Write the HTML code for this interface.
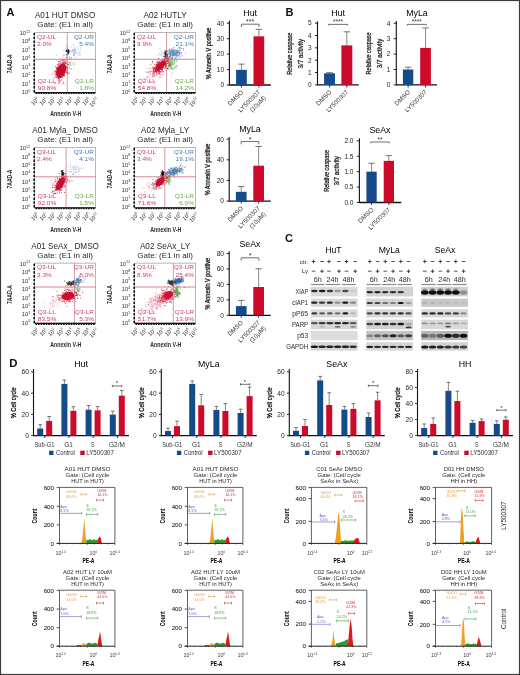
<!DOCTYPE html>
<html><head><meta charset="utf-8"><style>
html,body{margin:0;padding:0;background:#fff;}
svg{display:block;font-family:"Liberation Sans", sans-serif;filter:blur(0.35px);}
</style></head><body>
<svg width="520" height="675" viewBox="0 0 520 675">
<rect width="520" height="675" fill="#fff"/>
<rect x="0.5" y="0.5" width="519" height="674" fill="none" stroke="#3c3c3c" stroke-width="1.2"/>
<text x="6.40" y="16.30" font-size="11" fill="#111" font-weight="bold">A</text>
<text x="285.40" y="16.00" font-size="11" fill="#111" font-weight="bold">B</text>
<text x="285.00" y="241.50" font-size="11" fill="#111" font-weight="bold">C</text>
<text x="9.30" y="366.60" font-size="11.4" fill="#111" font-weight="bold">D</text>
<text x="65.10" y="18.00" font-size="8.2" text-anchor="middle" fill="#2a2a2a">A01 HUT DMSO</text>
<text x="65.10" y="26.90" font-size="8.0" text-anchor="middle" fill="#2a2a2a">Gate: (E1 in all)</text>
<rect x="34.60" y="32.30" width="61" height="60" fill="#fff" stroke="#888" stroke-width="0.6"/>
<path d="M74.0 52.7h0.9M72.8 49.8h0.9M72.0 49.5h0.9M74.3 55.4h0.9M71.8 50.4h0.9M76.2 52.9h0.9M74.5 49.7h0.9M73.9 53.7h0.9M68.0 50.9h0.9M65.4 48.8h0.9M65.7 51.4h0.9M68.3 52.7h0.9M74.7 51.5h0.9M62.7 50.7h0.9M73.8 52.3h0.9M67.1 50.8h0.9M69.6 50.0h0.9M78.8 50.0h0.9M73.9 54.2h0.9M71.4 51.7h0.9M74.5 52.2h0.9M68.5 52.2h0.9M80.1 48.1h0.9M77.9 52.3h0.9M71.1 57.0h0.9M77.4 49.0h0.9M74.3 53.4h0.9M73.2 53.7h0.9M73.7 53.7h0.9M80.5 50.3h0.9M74.9 50.8h0.9M74.6 49.0h0.9M71.4 51.5h0.9M78.0 54.9h0.9M68.0 50.0h0.9M76.9 47.0h0.9M71.9 51.8h0.9M79.7 53.7h0.9M72.5 51.1h0.9M72.9 55.8h0.9M72.1 51.2h0.9M75.6 51.7h0.9M73.1 49.2h0.9M73.9 50.9h0.9M79.2 53.6h0.9M73.9 53.7h0.9M72.5 54.6h0.9M74.0 53.5h0.9M68.2 52.9h0.9M66.4 46.9h0.9M72.6 49.8h0.9M74.7 57.6h0.9M70.3 50.4h0.9M74.9 53.2h0.9M73.2 51.5h0.9M77.2 53.3h0.9M69.3 51.8h0.9M74.2 49.4h0.9M75.2 49.9h0.9M78.4 52.5h0.9M74.4 50.5h0.9M73.5 47.0h0.9M68.9 52.9h0.9M64.4 54.1h0.9M66.1 53.9h0.9M70.2 53.9h0.9M74.6 48.2h0.9M79.6 55.6h0.9M73.7 51.3h0.9M73.3 49.6h0.9" stroke="#7aa0d0" stroke-width="0.9" opacity="0.7"/>
<path d="M73.7 62.8h0.9M70.9 61.8h0.9M69.4 59.9h0.9M74.1 64.4h0.9M73.4 65.1h0.9M69.3 63.7h0.9M69.6 65.0h0.9M70.1 63.8h0.9M67.6 61.8h0.9M75.1 62.3h0.9M68.4 66.3h0.9M74.5 59.2h0.9M70.5 62.5h0.9M66.6 67.9h0.9M70.9 65.3h0.9M69.1 66.8h0.9M69.7 64.4h0.9M68.2 60.1h0.9M74.3 63.0h0.9M71.7 64.9h0.9M69.9 63.0h0.9M72.6 63.8h0.9M70.6 65.1h0.9M73.9 67.7h0.9M72.0 62.7h0.9" stroke="#8ac880" stroke-width="0.9" opacity="0.7"/>
<path d="M56.0 68.1h0.9M66.1 63.2h0.9M61.8 69.4h0.9M62.1 70.7h0.9M56.6 73.4h0.9M56.7 67.7h0.9M61.4 70.0h0.9M63.1 76.1h0.9M65.6 49.3h0.9M68.7 56.7h0.9M60.1 69.1h0.9M65.7 45.6h0.9M63.6 63.7h0.9M62.2 63.0h0.9M65.8 50.9h0.9M65.8 55.7h0.9M56.8 64.6h0.9M61.5 65.9h0.9M62.5 57.0h0.9M63.3 55.3h0.9M66.2 57.6h0.9M62.8 65.9h0.9M73.2 55.5h0.9M65.7 63.5h0.9M67.9 52.5h0.9M59.2 67.8h0.9M62.5 63.5h0.9M58.3 71.0h0.9M70.4 47.0h0.9M67.8 47.8h0.9M56.0 55.0h0.9M66.5 65.0h0.9M63.0 54.7h0.9M65.5 65.6h0.9M63.3 62.7h0.9M60.4 68.9h0.9M63.8 65.3h0.9M58.4 65.4h0.9M57.4 70.1h0.9M60.0 60.4h0.9M67.5 53.4h0.9M62.7 75.8h0.9M59.1 68.0h0.9M72.9 44.5h0.9M63.9 62.9h0.9M66.9 55.3h0.9M62.9 61.4h0.9M65.1 66.9h0.9M57.8 74.1h0.9M62.8 59.5h0.9M52.8 72.1h0.9M62.5 70.9h0.9M64.4 64.6h0.9M64.4 61.4h0.9M62.3 63.1h0.9M65.2 68.9h0.9M64.8 58.7h0.9M55.9 73.8h0.9M64.1 64.1h0.9M65.8 54.5h0.9M59.9 69.2h0.9M62.7 60.9h0.9M62.0 63.5h0.9M59.5 59.3h0.9M57.7 68.3h0.9M59.0 66.2h0.9M68.2 62.7h0.9M60.7 63.6h0.9M66.4 55.8h0.9M57.4 78.2h0.9" stroke="#d85070" stroke-width="0.9" opacity="0.6"/>
<ellipse cx="61" cy="71" rx="4.6" ry="7.6" transform="rotate(22 61 71)" fill="#cc0a2a" opacity="0.95"/>
<path d="M60.7 69.7h0.9M57.2 71.4h0.9M59.6 63.9h0.9M66.7 67.9h0.9M61.1 80.1h0.9M60.6 74.1h0.9M67.2 72.3h0.9M62.0 63.4h0.9M58.1 78.6h0.9M65.8 67.3h0.9M59.5 67.4h0.9M62.3 70.3h0.9M61.0 72.8h0.9M60.2 70.4h0.9M61.8 70.8h0.9M58.6 81.1h0.9M62.6 72.0h0.9M55.2 71.0h0.9M58.1 61.5h0.9M62.1 75.6h0.9M64.1 62.1h0.9M61.3 67.1h0.9M58.2 83.3h0.9M63.2 67.3h0.9M57.6 69.3h0.9M62.8 64.9h0.9M63.7 65.3h0.9M62.1 77.8h0.9M65.2 69.9h0.9M62.8 70.9h0.9M60.5 68.8h0.9M60.1 62.1h0.9M63.8 71.0h0.9M59.6 76.4h0.9M57.5 64.9h0.9M60.7 73.2h0.9M57.8 75.8h0.9M64.1 65.1h0.9M56.6 74.0h0.9M66.3 61.9h0.9M63.8 75.7h0.9M65.8 70.7h0.9M62.4 64.9h0.9M68.9 73.1h0.9M67.0 69.6h0.9M64.9 62.7h0.9M57.8 75.6h0.9M55.1 75.0h0.9M64.2 66.1h0.9M60.5 68.1h0.9M62.0 68.2h0.9M59.2 68.5h0.9M60.6 63.2h0.9M59.0 75.4h0.9M56.5 69.2h0.9M61.1 65.2h0.9M64.6 69.4h0.9M67.1 68.8h0.9M62.6 70.3h0.9M57.6 73.1h0.9M59.3 73.9h0.9M63.1 65.4h0.9M60.6 71.1h0.9M65.7 67.5h0.9M64.4 62.2h0.9M65.2 66.3h0.9M55.8 68.5h0.9M67.4 64.6h0.9M59.3 65.9h0.9M56.9 71.6h0.9M60.1 66.4h0.9M64.3 67.8h0.9M64.3 66.6h0.9M61.2 60.2h0.9M67.2 71.6h0.9M61.8 71.1h0.9M61.4 71.4h0.9M68.8 68.0h0.9M58.5 64.0h0.9M55.5 73.2h0.9M65.4 67.1h0.9M57.6 67.5h0.9M70.9 58.3h0.9M64.8 66.1h0.9M66.3 66.8h0.9M63.3 63.0h0.9M55.2 76.9h0.9M64.3 69.9h0.9M62.3 60.3h0.9M59.9 70.4h0.9M60.9 70.4h0.9M57.8 69.3h0.9M58.2 77.5h0.9M66.8 72.5h0.9M58.9 69.8h0.9M60.7 66.5h0.9M63.0 65.6h0.9M63.0 71.2h0.9M62.1 70.4h0.9M60.8 65.3h0.9M61.4 67.9h0.9M61.7 71.3h0.9M56.8 69.7h0.9M58.3 66.2h0.9M64.4 60.1h0.9M61.0 71.9h0.9M61.4 68.6h0.9M61.9 65.6h0.9M61.3 67.9h0.9M63.8 65.0h0.9M61.4 72.0h0.9M61.5 68.6h0.9M66.1 63.2h0.9M61.9 72.8h0.9M61.1 73.3h0.9M59.6 68.9h0.9M62.0 74.0h0.9M64.7 63.5h0.9M60.2 77.6h0.9M63.5 73.4h0.9M54.4 73.9h0.9M65.8 57.9h0.9M65.2 63.8h0.9M58.5 66.2h0.9M65.5 70.6h0.9M58.2 80.2h0.9M65.9 72.4h0.9M62.9 64.3h0.9M58.1 72.3h0.9M61.9 72.0h0.9M65.5 68.3h0.9M59.3 74.7h0.9M60.5 77.2h0.9M62.8 69.9h0.9M64.1 66.3h0.9M54.9 72.0h0.9M60.2 72.5h0.9M56.7 67.1h0.9M61.0 65.9h0.9M55.0 66.6h0.9M62.9 74.0h0.9M59.2 70.2h0.9M68.9 57.8h0.9M59.5 73.6h0.9M59.5 80.5h0.9M63.7 74.0h0.9M60.3 75.4h0.9M59.5 70.1h0.9M59.7 82.1h0.9M60.6 70.6h0.9M58.8 78.1h0.9M57.9 78.5h0.9M58.5 68.9h0.9M58.8 74.8h0.9M67.2 64.6h0.9M57.6 71.6h0.9M62.2 62.4h0.9M63.1 74.8h0.9M63.4 69.2h0.9M64.5 71.0h0.9M66.1 67.7h0.9M58.0 71.0h0.9M57.5 73.6h0.9M63.7 66.6h0.9M61.9 69.3h0.9M65.0 68.9h0.9M57.2 76.7h0.9M63.5 83.9h0.9M60.7 72.2h0.9M65.8 72.2h0.9M57.9 70.4h0.9M64.0 67.3h0.9M59.1 61.7h0.9M64.5 67.9h0.9M60.1 71.9h0.9M63.5 70.0h0.9M64.3 67.1h0.9M62.0 65.3h0.9M64.4 72.2h0.9M59.5 68.3h0.9M58.9 74.3h0.9M58.4 63.8h0.9M54.7 83.5h0.9M64.1 71.6h0.9M58.9 82.3h0.9M61.1 68.9h0.9M63.6 75.0h0.9M64.0 69.2h0.9M63.2 82.0h0.9M61.3 75.2h0.9M53.7 71.8h0.9M59.5 73.0h0.9M63.7 70.1h0.9M55.2 70.8h0.9M59.5 68.4h0.9M59.9 68.5h0.9M51.6 74.4h0.9M59.5 77.0h0.9M66.8 73.5h0.9M57.5 64.3h0.9M58.5 67.0h0.9M65.4 60.9h0.9M65.1 63.7h0.9M62.1 70.8h0.9M60.2 70.3h0.9M60.7 67.2h0.9M56.1 68.8h0.9M62.4 83.3h0.9M63.5 76.2h0.9M56.0 77.5h0.9M61.0 70.6h0.9M59.9 71.1h0.9M59.9 70.1h0.9M58.6 67.8h0.9M67.9 73.4h0.9M59.2 73.4h0.9M65.4 66.2h0.9M58.5 75.4h0.9M61.5 71.9h0.9M67.0 69.4h0.9M62.3 68.4h0.9M69.4 62.8h0.9M60.1 67.5h0.9M61.7 74.9h0.9M68.4 64.6h0.9M63.8 70.4h0.9M57.9 73.0h0.9M62.5 59.3h0.9M63.0 62.9h0.9M58.3 72.1h0.9M58.7 79.5h0.9M63.6 62.9h0.9M60.7 65.4h0.9M56.5 71.8h0.9M63.2 60.1h0.9M63.3 71.3h0.9M61.8 72.0h0.9M62.8 72.0h0.9M63.8 74.6h0.9M61.3 73.6h0.9M57.0 68.4h0.9M59.8 71.7h0.9M53.6 77.7h0.9M63.8 64.9h0.9M56.5 67.5h0.9M62.2 67.2h0.9M62.6 67.8h0.9M64.1 68.0h0.9M58.9 75.9h0.9M70.7 68.9h0.9" stroke="#cc0a2a" stroke-width="0.9" opacity="0.9"/>
<path d="M66.9 50.6h0.9M68.0 50.2h0.9M66.9 51.5h0.9M66.4 50.4h0.9M66.9 49.2h0.9M66.0 51.0h0.9M67.4 51.3h0.9M65.7 51.0h0.9M68.0 52.1h0.9M67.2 50.5h0.9M67.9 50.9h0.9M66.2 50.6h0.9M68.6 51.7h0.9M68.3 51.0h0.9M68.1 50.8h0.9M67.2 54.2h0.9M68.0 50.9h0.9M67.2 51.9h0.9M68.4 51.0h0.9M65.7 51.2h0.9M67.3 51.6h0.9M68.5 51.8h0.9M68.0 50.3h0.9M68.1 53.8h0.9M68.0 51.8h0.9M67.4 53.5h0.9M66.5 51.4h0.9M67.7 52.3h0.9M66.9 51.8h0.9M67.0 51.6h0.9M67.2 50.2h0.9M67.3 52.5h0.9M66.4 51.2h0.9M67.9 50.3h0.9M67.5 50.3h0.9" stroke="#111" stroke-width="0.9" opacity="1"/>
<line x1="67.30" y1="32.30" x2="67.30" y2="92.30" stroke="#c8707e" stroke-width="0.7"/>
<line x1="34.60" y1="59.30" x2="95.60" y2="59.30" stroke="#d06878" stroke-width="0.8"/>
<text x="37.00" y="38.60" font-size="5.9" fill="#d23c64" textLength="19.12" lengthAdjust="spacingAndGlyphs">Q2-UL</text>
<text x="37.00" y="45.90" font-size="5.9" fill="#d23c64" textLength="14.79" lengthAdjust="spacingAndGlyphs">2.0%</text>
<text x="94.00" y="38.60" font-size="5.9" text-anchor="end" fill="#4a78b4" textLength="20.19" lengthAdjust="spacingAndGlyphs">Q2-UR</text>
<text x="94.00" y="45.90" font-size="5.9" text-anchor="end" fill="#4a78b4" textLength="14.79" lengthAdjust="spacingAndGlyphs">5.4%</text>
<text x="37.80" y="82.80" font-size="5.9" fill="#d23c64" textLength="18.04" lengthAdjust="spacingAndGlyphs">Q2-LL</text>
<text x="37.80" y="89.70" font-size="5.9" fill="#d23c64" textLength="18.4" lengthAdjust="spacingAndGlyphs">90.8%</text>
<text x="94.00" y="82.80" font-size="5.9" text-anchor="end" fill="#6aaa4a" textLength="19.12" lengthAdjust="spacingAndGlyphs">Q2-LR</text>
<text x="94.00" y="89.70" font-size="5.9" text-anchor="end" fill="#6aaa4a" textLength="14.79" lengthAdjust="spacingAndGlyphs">1.8%</text>
<line x1="34.20" y1="32.90" x2="34.20" y2="92.30" stroke="#111" stroke-width="1.6" stroke-dasharray="2.4,1.4"/>
<line x1="34.60" y1="92.60" x2="95.60" y2="92.60" stroke="#111" stroke-width="1.2"/>
<line x1="35.60" y1="93.50" x2="95.60" y2="93.50" stroke="#111" stroke-width="1.2" stroke-dasharray="1.6,0.9"/>
<text x="30.20" y="34.90" font-size="5.8" text-anchor="end" fill="#333">10<tspan font-size="3.7" dy="-2.4">12</tspan></text>
<text x="30.20" y="43.35" font-size="5.8" text-anchor="end" fill="#333">10<tspan font-size="3.7" dy="-2.4">8</tspan></text>
<text x="30.20" y="51.80" font-size="5.8" text-anchor="end" fill="#333">10<tspan font-size="3.7" dy="-2.4">5</tspan></text>
<text x="30.20" y="60.25" font-size="5.8" text-anchor="end" fill="#333">10<tspan font-size="3.7" dy="-2.4">4</tspan></text>
<text x="30.20" y="68.70" font-size="5.8" text-anchor="end" fill="#333">10<tspan font-size="3.7" dy="-2.4">3</tspan></text>
<text x="30.20" y="77.15" font-size="5.8" text-anchor="end" fill="#333">10<tspan font-size="3.7" dy="-2.4">2</tspan></text>
<text x="30.20" y="85.60" font-size="5.8" text-anchor="end" fill="#333">10<tspan font-size="3.7" dy="-2.4">1</tspan></text>
<text x="30.20" y="94.05" font-size="5.8" text-anchor="end" fill="#333">10<tspan font-size="3.7" dy="-2.4">0</tspan></text>
<text x="39.10" y="99.80" font-size="5.7" text-anchor="end" fill="#333" transform="rotate(-45 39.10 99.80)">10<tspan font-size="3.7" dy="-2.4">0</tspan></text>
<text x="47.65" y="99.80" font-size="5.7" text-anchor="end" fill="#333" transform="rotate(-45 47.65 99.80)">10<tspan font-size="3.7" dy="-2.4">1</tspan></text>
<text x="56.20" y="99.80" font-size="5.7" text-anchor="end" fill="#333" transform="rotate(-45 56.20 99.80)">10<tspan font-size="3.7" dy="-2.4">2</tspan></text>
<text x="64.75" y="99.80" font-size="5.7" text-anchor="end" fill="#333" transform="rotate(-45 64.75 99.80)">10<tspan font-size="3.7" dy="-2.4">3</tspan></text>
<text x="73.30" y="99.80" font-size="5.7" text-anchor="end" fill="#333" transform="rotate(-45 73.30 99.80)">10<tspan font-size="3.7" dy="-2.4">4</tspan></text>
<text x="81.85" y="99.80" font-size="5.7" text-anchor="end" fill="#333" transform="rotate(-45 81.85 99.80)">10<tspan font-size="3.7" dy="-2.4">5</tspan></text>
<text x="90.40" y="99.80" font-size="5.7" text-anchor="end" fill="#333" transform="rotate(-45 90.40 99.80)">10<tspan font-size="3.7" dy="-2.4">6</tspan></text>
<text x="98.95" y="99.80" font-size="5.7" text-anchor="end" fill="#333" transform="rotate(-45 98.95 99.80)">10<tspan font-size="3.7" dy="-2.4">12</tspan></text>
<text x="12.00" y="63.80" font-size="7.2" text-anchor="middle" fill="#2a2a2a" font-weight="bold" textLength="19" lengthAdjust="spacingAndGlyphs" transform="rotate(-90 12.00 63.80)">7AAD-A</text>
<text x="65.70" y="116.30" font-size="7.4" text-anchor="middle" fill="#2a2a2a" font-weight="bold" textLength="31" lengthAdjust="spacingAndGlyphs">Annexin V-H</text>
<text x="165.10" y="18.00" font-size="8.2" text-anchor="middle" fill="#2a2a2a">A02 HUTLY</text>
<text x="165.10" y="26.90" font-size="8.0" text-anchor="middle" fill="#2a2a2a">Gate: (E1 in all)</text>
<rect x="134.60" y="32.30" width="61" height="60" fill="#fff" stroke="#888" stroke-width="0.6"/>
<path d="M164.4 57.6h0.9M167.1 52.6h0.9M163.2 53.2h0.9M161.3 56.1h0.9M157.0 55.1h0.9M160.9 55.8h0.9M161.6 51.7h0.9M161.8 54.5h0.9M161.1 54.0h0.9M159.4 48.7h0.9M163.7 54.4h0.9M161.4 53.1h0.9M164.1 52.1h0.9M158.9 52.6h0.9M164.6 50.2h0.9M164.6 51.7h0.9M157.7 55.5h0.9M160.7 50.4h0.9M159.9 54.9h0.9M164.6 52.1h0.9M162.2 54.4h0.9M159.1 53.7h0.9M160.9 51.9h0.9M159.5 53.1h0.9M161.1 51.9h0.9M159.7 55.2h0.9M161.6 54.8h0.9M164.6 54.2h0.9M167.8 51.3h0.9M163.4 52.4h0.9" stroke="#8ac8b8" stroke-width="0.9" opacity="0.6"/>
<path d="M181.9 55.7h0.9M164.0 52.9h0.9M176.2 54.7h0.9M176.2 52.8h0.9M175.3 54.6h0.9M173.0 55.8h0.9M163.2 56.6h0.9M168.8 56.4h0.9M171.6 51.8h0.9M174.3 51.2h0.9M168.4 50.8h0.9M173.1 54.6h0.9M177.5 52.4h0.9M177.7 52.7h0.9M172.8 54.8h0.9M177.6 51.9h0.9M171.9 53.3h0.9M173.0 51.5h0.9M177.4 51.8h0.9M174.7 51.4h0.9M174.7 54.1h0.9M171.9 58.2h0.9M175.3 57.1h0.9M177.0 51.3h0.9M171.5 54.7h0.9M173.3 53.6h0.9M171.0 49.8h0.9M171.2 48.9h0.9M174.4 51.6h0.9M169.7 53.6h0.9M173.7 50.2h0.9M164.8 52.6h0.9M163.6 53.0h0.9M179.6 50.0h0.9M175.4 50.0h0.9M174.2 52.6h0.9M173.0 54.8h0.9M180.9 52.5h0.9M173.2 51.3h0.9M175.5 52.5h0.9M176.7 52.8h0.9M180.0 47.8h0.9M172.0 55.6h0.9M171.1 52.1h0.9M171.3 50.7h0.9M174.5 58.7h0.9M177.7 50.2h0.9M169.0 53.3h0.9M177.1 50.9h0.9M170.3 56.0h0.9M176.7 52.0h0.9M167.5 51.0h0.9M169.1 49.2h0.9M176.1 51.5h0.9M175.8 57.2h0.9M177.8 50.1h0.9M177.3 55.3h0.9M169.3 52.0h0.9M171.9 50.1h0.9M178.6 47.1h0.9M168.0 53.8h0.9M172.1 54.0h0.9M174.1 52.8h0.9M177.2 48.0h0.9M172.7 52.0h0.9M173.7 53.9h0.9M168.7 52.8h0.9M176.6 53.6h0.9M170.8 58.5h0.9M182.7 48.5h0.9M175.3 58.7h0.9M176.6 53.4h0.9M171.9 52.5h0.9M171.8 52.5h0.9M176.1 52.1h0.9M170.6 51.2h0.9M172.4 51.6h0.9M172.6 55.9h0.9M174.8 54.3h0.9M174.6 53.3h0.9M172.3 52.9h0.9M175.9 50.6h0.9M179.0 52.5h0.9M169.5 53.0h0.9M170.1 54.4h0.9M170.3 56.5h0.9M168.7 49.2h0.9M169.0 49.7h0.9M173.2 55.8h0.9M175.4 50.1h0.9M170.3 57.9h0.9M174.4 53.3h0.9M178.6 58.0h0.9M178.8 52.8h0.9M174.8 54.6h0.9M169.9 51.7h0.9M172.9 51.4h0.9M172.8 53.8h0.9M183.0 49.8h0.9M172.4 53.2h0.9M175.3 55.4h0.9M170.5 52.1h0.9M165.4 52.8h0.9M175.4 53.2h0.9M168.4 53.5h0.9M173.3 54.6h0.9M170.3 53.4h0.9M164.5 52.4h0.9M179.3 47.5h0.9M171.6 54.2h0.9M171.0 52.0h0.9M172.7 53.5h0.9M171.9 49.5h0.9M172.0 51.8h0.9M170.7 54.4h0.9M176.2 54.9h0.9M171.2 55.9h0.9M178.6 55.0h0.9M179.1 52.1h0.9M172.5 55.4h0.9M167.0 55.0h0.9M170.5 53.1h0.9M164.9 52.9h0.9M173.2 55.4h0.9M177.4 52.6h0.9M171.8 51.8h0.9M174.7 52.6h0.9M176.4 56.8h0.9M172.3 50.3h0.9M168.6 51.0h0.9M168.2 57.3h0.9M173.4 50.0h0.9M176.4 55.7h0.9M171.1 52.3h0.9M171.6 54.4h0.9M176.3 55.6h0.9M178.8 55.1h0.9M179.3 53.9h0.9M166.2 54.4h0.9M174.2 52.4h0.9M176.9 52.0h0.9M169.4 57.4h0.9M176.0 53.5h0.9M177.5 55.1h0.9M173.6 47.9h0.9M169.8 53.0h0.9M168.7 54.7h0.9M178.1 51.5h0.9M168.7 58.8h0.9M170.5 51.2h0.9M174.2 54.2h0.9M170.2 55.8h0.9M170.5 51.9h0.9M174.1 55.0h0.9M170.3 54.7h0.9M173.7 59.7h0.9M170.4 57.1h0.9M172.7 53.3h0.9M176.5 54.9h0.9M178.7 53.2h0.9M170.1 52.8h0.9M175.5 54.4h0.9M179.4 53.3h0.9M178.3 56.0h0.9M173.2 50.2h0.9M167.2 51.3h0.9M179.7 50.4h0.9M178.7 53.8h0.9M181.0 54.3h0.9M172.5 53.1h0.9M173.4 53.8h0.9M170.6 53.8h0.9M179.5 48.6h0.9M173.8 51.3h0.9M174.1 55.2h0.9M173.0 55.2h0.9M166.4 57.1h0.9M170.6 55.3h0.9M172.8 47.8h0.9M169.7 54.6h0.9M180.0 52.9h0.9M173.6 50.2h0.9M180.0 56.3h0.9M173.0 53.0h0.9M166.2 56.7h0.9M185.2 52.9h0.9M178.8 53.7h0.9M169.1 57.2h0.9M167.4 54.0h0.9M174.6 55.2h0.9M175.0 54.0h0.9M169.1 51.3h0.9M173.0 51.9h0.9M166.7 51.8h0.9M170.1 49.9h0.9M166.4 51.0h0.9M174.0 54.2h0.9M181.3 48.7h0.9M170.3 56.0h0.9M171.9 53.0h0.9" stroke="#4a7ab8" stroke-width="0.9" opacity="0.85"/>
<path d="M174.3 63.0h0.9M168.0 60.0h0.9M171.2 64.9h0.9M167.5 61.0h0.9M171.7 65.7h0.9M169.1 65.9h0.9M171.8 58.7h0.9M169.8 65.2h0.9M169.2 57.6h0.9M169.9 66.3h0.9M174.0 57.4h0.9M176.2 60.6h0.9M172.6 67.7h0.9M172.7 64.4h0.9M167.9 65.9h0.9M168.9 56.4h0.9M176.7 66.1h0.9M174.5 61.3h0.9M173.7 68.8h0.9M173.9 63.9h0.9M167.9 63.5h0.9M165.7 58.9h0.9M170.7 61.0h0.9M170.1 63.7h0.9M174.7 67.9h0.9M170.4 67.6h0.9M168.8 63.0h0.9M172.5 60.3h0.9M169.9 60.0h0.9M170.8 68.9h0.9M168.8 64.7h0.9M168.5 60.6h0.9M167.8 68.4h0.9M175.7 65.4h0.9M168.9 66.1h0.9M169.8 66.4h0.9M171.1 64.8h0.9M171.8 62.3h0.9M169.6 58.8h0.9M169.5 59.7h0.9M170.2 61.1h0.9M170.7 65.4h0.9M167.4 61.6h0.9M168.4 66.2h0.9M174.3 66.6h0.9M169.7 68.4h0.9M167.2 68.5h0.9M169.1 55.7h0.9M176.3 68.7h0.9M168.2 64.5h0.9M170.0 64.3h0.9M167.2 62.0h0.9M171.5 64.7h0.9M173.1 64.2h0.9M175.7 61.9h0.9M171.1 58.3h0.9M167.7 68.0h0.9M168.4 65.6h0.9M170.4 60.9h0.9M169.7 62.5h0.9M169.4 66.3h0.9M171.9 62.3h0.9M168.5 64.8h0.9M170.3 67.1h0.9M176.3 66.5h0.9M170.4 63.5h0.9M168.6 61.3h0.9M168.3 62.8h0.9M169.6 66.2h0.9M169.6 63.4h0.9M167.8 68.9h0.9M171.6 69.4h0.9M172.3 68.5h0.9M170.0 66.2h0.9M176.5 60.3h0.9M173.1 69.1h0.9M171.4 66.3h0.9M173.3 62.0h0.9M171.4 61.3h0.9M169.0 62.1h0.9M170.2 64.4h0.9M171.5 59.6h0.9M175.0 67.6h0.9M172.1 62.9h0.9M170.3 65.7h0.9M171.4 58.8h0.9M172.2 73.0h0.9M166.3 67.1h0.9M171.3 63.7h0.9M173.6 60.4h0.9M170.9 68.5h0.9M170.1 62.7h0.9M170.8 62.6h0.9M174.0 61.2h0.9M172.5 60.1h0.9M172.0 63.7h0.9M164.7 64.0h0.9M168.1 62.6h0.9M174.0 60.6h0.9M168.1 68.4h0.9M170.8 68.8h0.9M171.2 61.3h0.9M170.4 67.8h0.9M172.6 64.0h0.9M170.6 63.7h0.9M169.2 70.0h0.9M170.5 60.5h0.9M169.4 66.2h0.9M172.0 63.6h0.9M169.0 64.1h0.9M166.7 60.0h0.9M172.3 62.5h0.9M171.3 67.8h0.9M172.0 64.1h0.9M175.3 66.1h0.9M169.7 66.3h0.9M171.4 61.4h0.9M170.7 63.5h0.9M166.1 63.5h0.9M169.9 62.6h0.9" stroke="#6ab05a" stroke-width="0.9" opacity="0.85"/>
<path d="M147.7 76.5h0.9M157.1 69.5h0.9M152.8 76.4h0.9M150.2 74.6h0.9M161.9 60.6h0.9M157.1 74.3h0.9M154.3 70.2h0.9M160.8 70.5h0.9M143.7 78.1h0.9M149.1 71.4h0.9M150.5 71.2h0.9M156.3 65.2h0.9M158.6 69.4h0.9M153.6 73.0h0.9M166.1 61.5h0.9M153.6 72.1h0.9M153.0 74.3h0.9M159.3 62.6h0.9M158.8 72.9h0.9M155.0 72.0h0.9M149.8 72.1h0.9M159.8 77.0h0.9M153.7 69.7h0.9M153.8 71.4h0.9M160.7 66.2h0.9M167.7 59.3h0.9M164.8 62.5h0.9M156.4 62.4h0.9M156.2 69.5h0.9M150.5 64.9h0.9M160.4 63.7h0.9M154.2 70.5h0.9M156.9 71.1h0.9M148.4 73.0h0.9M158.8 67.9h0.9M153.7 69.4h0.9M152.7 73.0h0.9M160.2 60.5h0.9M166.6 63.5h0.9M156.7 73.2h0.9M145.5 72.0h0.9M149.6 74.4h0.9M154.1 69.3h0.9M152.2 63.2h0.9M155.9 63.0h0.9M152.7 71.2h0.9M147.9 71.3h0.9M152.0 74.0h0.9M161.3 67.5h0.9M150.1 72.0h0.9M153.6 74.7h0.9M150.0 82.1h0.9M152.7 69.5h0.9M161.2 69.9h0.9M161.3 69.9h0.9M160.7 71.4h0.9M162.9 62.6h0.9M164.5 62.3h0.9M155.1 66.3h0.9M157.5 72.4h0.9M152.1 77.1h0.9M159.4 68.0h0.9M145.8 79.7h0.9M158.3 63.9h0.9M151.6 62.7h0.9M158.7 64.0h0.9M156.8 60.1h0.9M159.8 65.0h0.9M158.7 62.7h0.9M159.5 77.6h0.9M151.1 71.4h0.9M153.1 67.8h0.9M167.2 67.4h0.9M149.2 68.2h0.9M165.5 65.9h0.9M163.9 67.8h0.9M152.3 72.9h0.9M146.6 72.3h0.9M160.2 62.5h0.9M168.5 57.9h0.9M155.8 74.1h0.9M167.1 61.3h0.9M151.9 75.9h0.9M162.6 61.0h0.9M155.7 75.3h0.9M155.0 65.6h0.9M153.3 69.0h0.9M158.7 67.8h0.9M164.5 65.1h0.9M150.3 77.7h0.9M162.6 65.7h0.9M160.7 62.5h0.9M154.6 76.0h0.9M146.4 68.9h0.9M160.3 62.1h0.9M152.0 67.1h0.9M147.6 72.7h0.9M156.1 71.7h0.9M147.5 82.2h0.9M148.5 72.2h0.9M160.2 65.5h0.9M154.0 81.2h0.9M153.4 73.9h0.9M161.5 71.5h0.9M157.2 73.8h0.9M156.1 75.4h0.9M152.3 71.9h0.9M167.2 60.4h0.9M163.1 74.0h0.9M156.8 65.2h0.9M157.7 62.4h0.9M165.6 66.4h0.9M152.6 70.3h0.9M157.9 68.2h0.9M153.6 75.2h0.9M145.8 78.0h0.9M154.3 70.3h0.9M155.5 64.4h0.9M159.5 65.6h0.9M150.4 68.8h0.9M152.0 75.7h0.9M152.4 73.9h0.9M164.8 66.3h0.9M164.0 60.5h0.9M154.2 76.9h0.9M161.3 70.2h0.9M160.0 71.9h0.9M163.0 66.6h0.9M160.5 67.5h0.9M158.7 68.4h0.9M160.6 62.8h0.9M165.3 60.1h0.9M161.7 63.9h0.9M160.8 75.3h0.9M152.3 67.4h0.9M152.7 71.7h0.9M168.2 58.8h0.9M159.1 61.9h0.9M160.4 68.9h0.9M164.2 58.4h0.9M160.7 66.8h0.9M151.9 74.0h0.9M149.9 64.5h0.9M161.3 67.4h0.9M151.5 67.9h0.9M165.0 62.3h0.9M165.5 67.5h0.9M156.4 73.6h0.9M155.7 70.0h0.9M156.6 69.4h0.9M162.8 63.8h0.9M155.6 69.1h0.9M156.5 65.1h0.9M154.4 71.4h0.9M153.9 71.5h0.9M158.9 77.0h0.9M164.7 63.5h0.9M162.2 74.7h0.9M158.4 67.2h0.9M159.3 68.3h0.9" stroke="#d83050" stroke-width="0.9" opacity="0.6"/>
<ellipse cx="160.5" cy="66" rx="7" ry="3" transform="rotate(-45 160.5 66)" fill="#cc0a2a" opacity="0.85"/>
<path d="M165.5 61.0h0.9M166.4 57.0h0.9M161.2 61.8h0.9M166.3 59.0h0.9M161.9 67.8h0.9M163.0 59.6h0.9M156.8 64.8h0.9M160.8 65.3h0.9M158.1 66.0h0.9M157.8 66.0h0.9M165.1 66.8h0.9M153.5 72.6h0.9M159.9 68.3h0.9M156.9 69.1h0.9M158.1 70.9h0.9M160.6 65.4h0.9M161.4 64.3h0.9M156.1 72.5h0.9M161.2 64.7h0.9M166.1 64.7h0.9M155.3 68.5h0.9M168.5 63.0h0.9M155.8 66.5h0.9M157.4 67.4h0.9M155.0 71.7h0.9M153.8 68.4h0.9M162.5 61.6h0.9M161.4 67.4h0.9M162.8 62.5h0.9M159.2 64.4h0.9M167.8 61.0h0.9M156.6 69.9h0.9M163.9 64.3h0.9M169.4 62.0h0.9M158.4 67.7h0.9M156.4 71.0h0.9M165.8 70.2h0.9M157.1 62.0h0.9M158.3 68.6h0.9M154.5 68.9h0.9M159.8 67.9h0.9M158.3 65.0h0.9M162.3 62.3h0.9M156.3 65.3h0.9M158.9 69.9h0.9M154.7 71.6h0.9M162.4 62.8h0.9M159.4 63.2h0.9M167.1 63.3h0.9M158.2 62.1h0.9M158.5 71.4h0.9M167.1 60.5h0.9M163.8 60.5h0.9M159.8 66.7h0.9M159.3 61.8h0.9M166.2 65.0h0.9M154.0 67.7h0.9M160.6 63.6h0.9M153.5 75.8h0.9M160.2 64.6h0.9M168.2 58.8h0.9M158.0 68.8h0.9M155.5 68.3h0.9M160.9 63.7h0.9M161.9 70.5h0.9M165.0 64.4h0.9M163.2 65.0h0.9M165.6 60.8h0.9M165.4 57.8h0.9M157.2 64.5h0.9M160.2 68.1h0.9M164.5 59.7h0.9M159.9 65.3h0.9M155.8 66.5h0.9M157.7 62.7h0.9M160.9 65.6h0.9M156.4 66.5h0.9M158.9 74.2h0.9M158.5 73.5h0.9M162.0 63.2h0.9M158.3 71.9h0.9M165.0 58.2h0.9M161.3 68.9h0.9M165.2 68.3h0.9M159.4 69.0h0.9M159.8 74.1h0.9M154.0 64.7h0.9M159.8 66.2h0.9M166.7 58.6h0.9M161.5 67.1h0.9M166.0 60.3h0.9M165.1 63.2h0.9M159.6 67.2h0.9M159.0 64.3h0.9M162.3 59.3h0.9M166.3 63.5h0.9M158.8 65.0h0.9M160.5 67.6h0.9M163.6 63.9h0.9M163.0 61.5h0.9M158.6 62.4h0.9M163.5 63.6h0.9M161.1 69.5h0.9M158.0 58.6h0.9M158.1 63.3h0.9M168.7 66.6h0.9M158.8 68.0h0.9M160.2 67.5h0.9M165.1 66.0h0.9M159.8 72.3h0.9M157.7 69.8h0.9M165.9 63.2h0.9M155.9 68.1h0.9M158.8 67.5h0.9M162.3 59.7h0.9M163.2 65.4h0.9M163.3 64.9h0.9M166.7 61.5h0.9M164.5 64.0h0.9M163.5 56.3h0.9M164.6 61.0h0.9M157.8 65.3h0.9M153.2 71.9h0.9M158.9 69.3h0.9M157.8 73.7h0.9M161.0 64.6h0.9M156.6 67.1h0.9M155.5 69.0h0.9M160.2 65.7h0.9M155.0 70.5h0.9M157.6 69.4h0.9M168.2 60.5h0.9M156.5 64.2h0.9M152.5 68.0h0.9M161.7 62.1h0.9M159.6 64.7h0.9M163.3 68.2h0.9M157.5 67.8h0.9M159.2 70.4h0.9M154.9 67.6h0.9M153.1 68.4h0.9M166.7 68.9h0.9M158.7 71.2h0.9M159.4 63.2h0.9M159.1 66.6h0.9M161.5 71.9h0.9M154.4 73.4h0.9M160.6 63.8h0.9M162.6 67.0h0.9M161.8 66.2h0.9M159.4 60.0h0.9M169.8 64.8h0.9M165.8 64.3h0.9M155.3 70.8h0.9M156.6 67.8h0.9M162.5 61.2h0.9M156.7 63.1h0.9M160.1 66.7h0.9M156.7 67.2h0.9M165.0 57.2h0.9M155.4 68.3h0.9M168.5 65.5h0.9M160.4 63.6h0.9M160.9 69.4h0.9M159.8 71.8h0.9M165.6 61.1h0.9M164.1 65.0h0.9M164.1 58.6h0.9M164.0 61.2h0.9M158.0 68.9h0.9M158.0 65.0h0.9M153.2 70.0h0.9M169.1 64.3h0.9M164.9 65.8h0.9M158.5 67.7h0.9M159.6 63.1h0.9M157.2 69.7h0.9M157.5 65.3h0.9M161.4 64.2h0.9M164.1 62.4h0.9M159.7 67.3h0.9M158.7 65.4h0.9M160.4 68.7h0.9M165.1 66.0h0.9M153.8 71.3h0.9M159.3 67.8h0.9M158.0 66.7h0.9M163.6 63.5h0.9M158.7 72.5h0.9M163.0 61.5h0.9M162.1 61.8h0.9M164.1 61.6h0.9M157.0 68.2h0.9M158.1 69.0h0.9M161.2 65.4h0.9M152.1 61.5h0.9M157.5 62.3h0.9M163.4 67.1h0.9M160.8 64.3h0.9M159.6 66.4h0.9M157.5 66.9h0.9M159.3 71.4h0.9M162.1 67.7h0.9M159.7 67.0h0.9M160.7 67.4h0.9M163.8 63.5h0.9M156.7 67.0h0.9M165.9 59.6h0.9M162.1 69.6h0.9M165.3 63.1h0.9M163.2 71.6h0.9M162.9 65.6h0.9M157.4 64.1h0.9M156.5 71.4h0.9M161.5 64.2h0.9M153.8 67.6h0.9M156.8 64.6h0.9M165.7 64.9h0.9M172.1 57.6h0.9M156.9 66.6h0.9M147.2 77.2h0.9M161.6 68.3h0.9M163.7 64.9h0.9M162.4 66.4h0.9M163.7 59.0h0.9M156.4 65.2h0.9M168.5 62.6h0.9M161.0 61.2h0.9M160.7 65.0h0.9M160.5 65.4h0.9M161.6 63.5h0.9M163.9 63.4h0.9M159.3 66.8h0.9M160.4 69.0h0.9M160.1 67.5h0.9M156.5 64.8h0.9M161.8 60.9h0.9M163.6 64.3h0.9M153.0 70.2h0.9M157.2 66.4h0.9M157.6 71.5h0.9M160.3 67.5h0.9M159.5 68.1h0.9M157.8 68.6h0.9M162.6 64.0h0.9M157.0 65.7h0.9M161.7 66.0h0.9M158.2 65.6h0.9M166.8 68.5h0.9M160.0 67.7h0.9" stroke="#cc0a2a" stroke-width="0.9" opacity="0.9"/>
<path d="M165.8 50.4h0.9M165.6 53.7h0.9M166.7 54.5h0.9M164.8 54.6h0.9M165.6 54.0h0.9M165.5 52.6h0.9M165.3 56.4h0.9M167.3 56.3h0.9M165.7 57.1h0.9M166.4 58.0h0.9M166.5 54.8h0.9M165.7 55.3h0.9M165.8 55.4h0.9M164.8 51.2h0.9M164.9 51.4h0.9M165.6 55.0h0.9M164.0 56.2h0.9M166.3 55.2h0.9M167.0 58.4h0.9M164.4 56.9h0.9M165.9 55.8h0.9M166.3 53.7h0.9M165.0 53.5h0.9M164.8 54.8h0.9M164.2 53.1h0.9M166.0 54.9h0.9M165.8 51.6h0.9M164.8 54.0h0.9M165.5 53.9h0.9M166.3 54.9h0.9M165.5 55.0h0.9M166.1 54.2h0.9M166.5 55.8h0.9M165.6 55.1h0.9M166.0 56.8h0.9" stroke="#111" stroke-width="0.9" opacity="1"/>
<line x1="166.60" y1="32.30" x2="166.60" y2="92.30" stroke="#c8707e" stroke-width="0.7"/>
<line x1="134.60" y1="59.30" x2="195.60" y2="59.30" stroke="#d06878" stroke-width="0.8"/>
<text x="137.00" y="38.60" font-size="5.9" fill="#d23c64" textLength="19.12" lengthAdjust="spacingAndGlyphs">Q2-UL</text>
<text x="137.00" y="45.90" font-size="5.9" fill="#d23c64" textLength="14.79" lengthAdjust="spacingAndGlyphs">9.9%</text>
<text x="194.00" y="38.60" font-size="5.9" text-anchor="end" fill="#4a78b4" textLength="20.19" lengthAdjust="spacingAndGlyphs">Q2-UR</text>
<text x="194.00" y="45.90" font-size="5.9" text-anchor="end" fill="#4a78b4" textLength="18.4" lengthAdjust="spacingAndGlyphs">21.1%</text>
<text x="137.80" y="82.80" font-size="5.9" fill="#d23c64" textLength="18.04" lengthAdjust="spacingAndGlyphs">Q2-LL</text>
<text x="137.80" y="89.70" font-size="5.9" fill="#d23c64" textLength="18.4" lengthAdjust="spacingAndGlyphs">54.8%</text>
<text x="194.00" y="82.80" font-size="5.9" text-anchor="end" fill="#6aaa4a" textLength="19.12" lengthAdjust="spacingAndGlyphs">Q2-LR</text>
<text x="194.00" y="89.70" font-size="5.9" text-anchor="end" fill="#6aaa4a" textLength="18.4" lengthAdjust="spacingAndGlyphs">14.2%</text>
<line x1="134.20" y1="32.90" x2="134.20" y2="92.30" stroke="#111" stroke-width="1.6" stroke-dasharray="2.4,1.4"/>
<line x1="134.60" y1="92.60" x2="195.60" y2="92.60" stroke="#111" stroke-width="1.2"/>
<line x1="135.60" y1="93.50" x2="195.60" y2="93.50" stroke="#111" stroke-width="1.2" stroke-dasharray="1.6,0.9"/>
<text x="130.20" y="34.90" font-size="5.8" text-anchor="end" fill="#333">10<tspan font-size="3.7" dy="-2.4">12</tspan></text>
<text x="130.20" y="43.35" font-size="5.8" text-anchor="end" fill="#333">10<tspan font-size="3.7" dy="-2.4">8</tspan></text>
<text x="130.20" y="51.80" font-size="5.8" text-anchor="end" fill="#333">10<tspan font-size="3.7" dy="-2.4">5</tspan></text>
<text x="130.20" y="60.25" font-size="5.8" text-anchor="end" fill="#333">10<tspan font-size="3.7" dy="-2.4">4</tspan></text>
<text x="130.20" y="68.70" font-size="5.8" text-anchor="end" fill="#333">10<tspan font-size="3.7" dy="-2.4">3</tspan></text>
<text x="130.20" y="77.15" font-size="5.8" text-anchor="end" fill="#333">10<tspan font-size="3.7" dy="-2.4">2</tspan></text>
<text x="130.20" y="85.60" font-size="5.8" text-anchor="end" fill="#333">10<tspan font-size="3.7" dy="-2.4">1</tspan></text>
<text x="130.20" y="94.05" font-size="5.8" text-anchor="end" fill="#333">10<tspan font-size="3.7" dy="-2.4">0</tspan></text>
<text x="139.10" y="99.80" font-size="5.7" text-anchor="end" fill="#333" transform="rotate(-45 139.10 99.80)">10<tspan font-size="3.7" dy="-2.4">0</tspan></text>
<text x="147.65" y="99.80" font-size="5.7" text-anchor="end" fill="#333" transform="rotate(-45 147.65 99.80)">10<tspan font-size="3.7" dy="-2.4">1</tspan></text>
<text x="156.20" y="99.80" font-size="5.7" text-anchor="end" fill="#333" transform="rotate(-45 156.20 99.80)">10<tspan font-size="3.7" dy="-2.4">2</tspan></text>
<text x="164.75" y="99.80" font-size="5.7" text-anchor="end" fill="#333" transform="rotate(-45 164.75 99.80)">10<tspan font-size="3.7" dy="-2.4">3</tspan></text>
<text x="173.30" y="99.80" font-size="5.7" text-anchor="end" fill="#333" transform="rotate(-45 173.30 99.80)">10<tspan font-size="3.7" dy="-2.4">4</tspan></text>
<text x="181.85" y="99.80" font-size="5.7" text-anchor="end" fill="#333" transform="rotate(-45 181.85 99.80)">10<tspan font-size="3.7" dy="-2.4">5</tspan></text>
<text x="190.40" y="99.80" font-size="5.7" text-anchor="end" fill="#333" transform="rotate(-45 190.40 99.80)">10<tspan font-size="3.7" dy="-2.4">6</tspan></text>
<text x="198.95" y="99.80" font-size="5.7" text-anchor="end" fill="#333" transform="rotate(-45 198.95 99.80)">10<tspan font-size="3.7" dy="-2.4">12</tspan></text>
<text x="112.00" y="63.80" font-size="7.2" text-anchor="middle" fill="#2a2a2a" font-weight="bold" textLength="19" lengthAdjust="spacingAndGlyphs" transform="rotate(-90 112.00 63.80)">7AAD-A</text>
<text x="165.70" y="116.30" font-size="7.4" text-anchor="middle" fill="#2a2a2a" font-weight="bold" textLength="31" lengthAdjust="spacingAndGlyphs">Annexin V-H</text>
<text x="65.10" y="133.20" font-size="8.2" text-anchor="middle" fill="#2a2a2a">A01 Myla_ DMSO</text>
<text x="65.10" y="142.10" font-size="8.0" text-anchor="middle" fill="#2a2a2a">Gate: (E1 in all)</text>
<rect x="34.60" y="147.50" width="61" height="60" fill="#fff" stroke="#888" stroke-width="0.6"/>
<path d="M77.8 170.1h0.9M77.4 169.5h0.9M79.2 168.8h0.9M63.4 175.1h0.9M73.0 167.0h0.9M71.6 168.0h0.9M83.6 169.4h0.9M65.5 172.7h0.9M71.9 175.1h0.9M66.8 165.4h0.9M73.2 169.1h0.9M70.0 165.1h0.9M75.8 173.7h0.9M64.1 174.5h0.9M71.2 176.3h0.9M75.1 169.2h0.9M78.7 170.3h0.9M70.4 172.3h0.9M69.7 166.0h0.9M82.9 167.4h0.9M70.1 171.4h0.9M64.7 168.0h0.9M70.3 169.2h0.9M73.8 172.7h0.9M70.9 171.6h0.9M75.5 166.8h0.9M73.7 167.5h0.9M78.4 170.2h0.9M72.5 166.7h0.9M73.2 168.0h0.9M76.4 169.1h0.9M69.4 173.0h0.9M76.3 167.9h0.9M78.6 168.3h0.9M71.5 170.6h0.9M69.1 169.6h0.9M72.9 173.9h0.9M80.3 168.1h0.9M80.9 168.5h0.9M75.3 171.8h0.9M75.5 175.7h0.9M73.7 166.8h0.9M79.2 167.9h0.9M70.2 162.9h0.9M78.3 171.1h0.9M77.4 171.7h0.9M81.3 168.4h0.9M77.3 167.4h0.9M71.7 172.9h0.9M74.3 166.4h0.9M74.7 169.2h0.9M69.2 171.8h0.9M70.3 166.5h0.9M68.3 175.3h0.9M65.6 171.9h0.9M76.3 171.0h0.9M66.8 170.3h0.9M74.0 171.8h0.9M69.3 167.7h0.9M78.4 171.9h0.9M74.6 168.2h0.9M75.1 169.9h0.9M76.6 166.2h0.9M73.5 169.5h0.9M67.6 171.5h0.9M73.0 169.0h0.9M74.3 166.2h0.9M72.9 171.1h0.9M74.9 172.4h0.9M66.4 167.3h0.9" stroke="#8aaad0" stroke-width="0.9" opacity="0.6"/>
<path d="M68.9 181.2h0.9M71.7 181.4h0.9M67.2 181.7h0.9M67.2 178.3h0.9M72.4 181.0h0.9M69.6 181.3h0.9M71.2 180.9h0.9M70.3 179.0h0.9M66.4 182.6h0.9M70.7 181.3h0.9M68.8 180.7h0.9M67.5 182.8h0.9M69.5 181.3h0.9M69.1 182.1h0.9M69.3 181.6h0.9" stroke="#8ac880" stroke-width="0.9" opacity="0.7"/>
<path d="M52.3 188.0h0.9M65.7 183.9h0.9M56.5 189.6h0.9M60.8 188.5h0.9M50.5 188.0h0.9M52.3 182.7h0.9M59.2 184.8h0.9M60.2 198.6h0.9M60.1 188.9h0.9M53.4 183.4h0.9M52.7 183.9h0.9M52.6 183.4h0.9M56.2 182.0h0.9M51.3 180.6h0.9M58.8 186.2h0.9M61.1 190.2h0.9M55.6 188.7h0.9M51.2 195.1h0.9M61.8 185.1h0.9M52.3 187.5h0.9M49.5 182.9h0.9M60.0 186.3h0.9M55.0 189.8h0.9M52.8 187.1h0.9M55.0 182.6h0.9M58.9 182.0h0.9M64.6 183.7h0.9M65.0 181.6h0.9M59.4 181.2h0.9M51.6 186.6h0.9M59.7 180.9h0.9M61.7 182.8h0.9M57.5 187.5h0.9M59.4 178.8h0.9M63.5 188.2h0.9M55.3 181.9h0.9M50.2 180.6h0.9M59.2 184.6h0.9M52.5 183.9h0.9M63.3 184.7h0.9" stroke="#e07090" stroke-width="0.9" opacity="0.5"/>
<ellipse cx="60.2" cy="183.8" rx="3.3" ry="7.4" transform="rotate(30 60.2 183.8)" fill="#cc0a2a" opacity="0.95"/>
<path d="M55.2 189.6h0.9M61.0 184.6h0.9M63.3 175.5h0.9M59.1 180.1h0.9M58.7 185.3h0.9M60.7 185.5h0.9M63.5 179.2h0.9M57.2 178.7h0.9M60.0 179.5h0.9M63.1 177.4h0.9M58.2 182.0h0.9M62.3 180.8h0.9M61.9 183.3h0.9M58.0 182.8h0.9M66.0 182.8h0.9M58.8 191.9h0.9M65.6 181.6h0.9M64.1 186.8h0.9M60.3 182.4h0.9M61.3 184.8h0.9M56.2 189.8h0.9M61.6 177.9h0.9M59.9 188.2h0.9M65.5 179.9h0.9M61.1 187.4h0.9M67.4 179.9h0.9M61.4 182.7h0.9M58.9 178.4h0.9M63.9 182.9h0.9M56.3 187.1h0.9M59.5 189.8h0.9M58.7 182.6h0.9M64.2 181.9h0.9M56.3 186.9h0.9M66.7 180.1h0.9M58.9 173.6h0.9M58.5 181.9h0.9M61.9 183.8h0.9M58.3 183.7h0.9M58.3 182.4h0.9M51.4 196.0h0.9M64.2 180.7h0.9M59.4 180.5h0.9M58.8 178.3h0.9M56.2 187.2h0.9M61.5 179.5h0.9M60.7 176.5h0.9M60.7 182.7h0.9M64.3 182.1h0.9M61.7 186.3h0.9M65.8 174.1h0.9M55.4 185.8h0.9M62.5 186.5h0.9M62.9 182.7h0.9M61.3 180.1h0.9M61.3 186.6h0.9M60.6 181.9h0.9M60.5 186.0h0.9M53.7 191.1h0.9M60.7 184.2h0.9M60.4 190.5h0.9M58.5 186.3h0.9M59.8 179.4h0.9M52.1 187.0h0.9M54.3 184.8h0.9M61.2 178.1h0.9M59.0 184.9h0.9M56.5 193.1h0.9M58.5 188.5h0.9M57.0 186.5h0.9M61.8 181.7h0.9M60.2 183.4h0.9M59.5 186.0h0.9M61.2 179.6h0.9M66.5 176.5h0.9M54.6 190.6h0.9M56.5 177.2h0.9M66.3 176.6h0.9M72.8 174.4h0.9M58.8 193.1h0.9M62.7 183.8h0.9M63.5 179.9h0.9M65.0 179.3h0.9M56.8 188.3h0.9M58.9 180.7h0.9M64.3 177.5h0.9M61.7 186.8h0.9M57.2 181.8h0.9M60.4 179.7h0.9M62.3 180.5h0.9M64.2 181.5h0.9M62.4 184.8h0.9M63.5 182.2h0.9M62.4 177.6h0.9M58.8 189.0h0.9M61.0 192.6h0.9M61.3 183.1h0.9M61.1 184.1h0.9M60.6 190.1h0.9M60.4 179.5h0.9M62.2 186.9h0.9M56.4 189.3h0.9M60.2 182.0h0.9M64.7 173.7h0.9M65.4 179.0h0.9M61.1 179.5h0.9M61.9 184.3h0.9M64.9 175.7h0.9M64.2 176.5h0.9M59.8 185.9h0.9M54.4 193.7h0.9M59.6 187.3h0.9M61.0 183.0h0.9M59.1 190.3h0.9M54.5 187.4h0.9M58.6 189.1h0.9M64.7 178.3h0.9M52.7 191.2h0.9M64.7 177.2h0.9M61.9 182.5h0.9M62.8 170.5h0.9M56.1 183.2h0.9M60.8 182.5h0.9M59.1 187.1h0.9M56.7 179.8h0.9M61.9 176.8h0.9M59.4 182.5h0.9M63.7 176.4h0.9M53.6 193.0h0.9M62.7 174.4h0.9M59.1 187.0h0.9M64.3 178.9h0.9M64.5 181.2h0.9M59.5 179.5h0.9M58.0 187.1h0.9M61.6 184.4h0.9M61.9 185.3h0.9M66.0 178.1h0.9M54.8 185.7h0.9M58.2 180.7h0.9M61.4 181.3h0.9M55.4 190.0h0.9M52.5 185.1h0.9M64.9 186.7h0.9M58.1 187.3h0.9M67.3 180.2h0.9M60.9 183.0h0.9M60.9 185.2h0.9M62.8 182.5h0.9M62.2 180.6h0.9M59.2 182.3h0.9M63.2 177.9h0.9M63.8 185.0h0.9M54.2 187.5h0.9M57.2 185.4h0.9M59.5 185.0h0.9M62.2 181.2h0.9M54.6 193.7h0.9M55.4 181.4h0.9M64.1 179.2h0.9M51.3 192.6h0.9M53.6 193.4h0.9M61.1 184.8h0.9M59.4 187.5h0.9M61.4 187.3h0.9M60.0 184.8h0.9M60.7 189.4h0.9M59.9 179.5h0.9M62.6 181.2h0.9M62.1 178.7h0.9M58.5 185.5h0.9M62.2 185.0h0.9M64.7 185.9h0.9M64.0 192.5h0.9M62.6 182.0h0.9M54.8 179.7h0.9M55.2 193.3h0.9M52.0 191.4h0.9M57.7 187.0h0.9M54.5 181.4h0.9" stroke="#cc0a2a" stroke-width="0.9" opacity="0.9"/>
<path d="M61.7 174.1h0.9M62.1 171.2h0.9M62.8 174.1h0.9M62.5 174.6h0.9M62.9 173.0h0.9M60.9 170.8h0.9M63.1 174.1h0.9M62.1 172.3h0.9M62.0 173.0h0.9M61.7 171.9h0.9M63.7 173.4h0.9M61.5 170.9h0.9M61.4 174.2h0.9M62.6 172.7h0.9M62.0 172.5h0.9M61.1 175.1h0.9M62.3 177.0h0.9M61.4 172.8h0.9M62.7 172.6h0.9M60.9 171.5h0.9M62.1 173.5h0.9M61.9 174.6h0.9M62.8 173.5h0.9M62.0 172.6h0.9M62.4 174.5h0.9M62.0 173.7h0.9M61.7 170.7h0.9M61.2 174.2h0.9M62.4 175.5h0.9M62.0 174.4h0.9" stroke="#111" stroke-width="0.9" opacity="1"/>
<line x1="66.10" y1="147.50" x2="66.10" y2="207.50" stroke="#c8707e" stroke-width="0.7"/>
<line x1="34.60" y1="176.80" x2="95.60" y2="176.80" stroke="#d06878" stroke-width="0.8"/>
<text x="37.00" y="153.80" font-size="5.9" fill="#d23c64" textLength="19.12" lengthAdjust="spacingAndGlyphs">Q3-UL</text>
<text x="37.00" y="161.10" font-size="5.9" fill="#d23c64" textLength="14.79" lengthAdjust="spacingAndGlyphs">2.4%</text>
<text x="94.00" y="153.80" font-size="5.9" text-anchor="end" fill="#4a78b4" textLength="20.19" lengthAdjust="spacingAndGlyphs">Q3-UR</text>
<text x="94.00" y="161.10" font-size="5.9" text-anchor="end" fill="#4a78b4" textLength="14.79" lengthAdjust="spacingAndGlyphs">4.1%</text>
<text x="37.80" y="198.00" font-size="5.9" fill="#d23c64" textLength="18.04" lengthAdjust="spacingAndGlyphs">Q3-LL</text>
<text x="37.80" y="204.90" font-size="5.9" fill="#d23c64" textLength="18.4" lengthAdjust="spacingAndGlyphs">92.0%</text>
<text x="94.00" y="198.00" font-size="5.9" text-anchor="end" fill="#6aaa4a" textLength="19.12" lengthAdjust="spacingAndGlyphs">Q3-LR</text>
<text x="94.00" y="204.90" font-size="5.9" text-anchor="end" fill="#6aaa4a" textLength="14.79" lengthAdjust="spacingAndGlyphs">1.5%</text>
<line x1="34.20" y1="148.10" x2="34.20" y2="207.50" stroke="#111" stroke-width="1.6" stroke-dasharray="2.4,1.4"/>
<line x1="34.60" y1="207.80" x2="95.60" y2="207.80" stroke="#111" stroke-width="1.2"/>
<line x1="35.60" y1="208.70" x2="95.60" y2="208.70" stroke="#111" stroke-width="1.2" stroke-dasharray="1.6,0.9"/>
<text x="30.20" y="150.10" font-size="5.8" text-anchor="end" fill="#333">10<tspan font-size="3.7" dy="-2.4">12</tspan></text>
<text x="30.20" y="158.55" font-size="5.8" text-anchor="end" fill="#333">10<tspan font-size="3.7" dy="-2.4">8</tspan></text>
<text x="30.20" y="167.00" font-size="5.8" text-anchor="end" fill="#333">10<tspan font-size="3.7" dy="-2.4">5</tspan></text>
<text x="30.20" y="175.45" font-size="5.8" text-anchor="end" fill="#333">10<tspan font-size="3.7" dy="-2.4">4</tspan></text>
<text x="30.20" y="183.90" font-size="5.8" text-anchor="end" fill="#333">10<tspan font-size="3.7" dy="-2.4">3</tspan></text>
<text x="30.20" y="192.35" font-size="5.8" text-anchor="end" fill="#333">10<tspan font-size="3.7" dy="-2.4">2</tspan></text>
<text x="30.20" y="200.80" font-size="5.8" text-anchor="end" fill="#333">10<tspan font-size="3.7" dy="-2.4">1</tspan></text>
<text x="30.20" y="209.25" font-size="5.8" text-anchor="end" fill="#333">10<tspan font-size="3.7" dy="-2.4">0</tspan></text>
<text x="39.10" y="215.00" font-size="5.7" text-anchor="end" fill="#333" transform="rotate(-45 39.10 215.00)">10<tspan font-size="3.7" dy="-2.4">0</tspan></text>
<text x="47.65" y="215.00" font-size="5.7" text-anchor="end" fill="#333" transform="rotate(-45 47.65 215.00)">10<tspan font-size="3.7" dy="-2.4">1</tspan></text>
<text x="56.20" y="215.00" font-size="5.7" text-anchor="end" fill="#333" transform="rotate(-45 56.20 215.00)">10<tspan font-size="3.7" dy="-2.4">2</tspan></text>
<text x="64.75" y="215.00" font-size="5.7" text-anchor="end" fill="#333" transform="rotate(-45 64.75 215.00)">10<tspan font-size="3.7" dy="-2.4">3</tspan></text>
<text x="73.30" y="215.00" font-size="5.7" text-anchor="end" fill="#333" transform="rotate(-45 73.30 215.00)">10<tspan font-size="3.7" dy="-2.4">4</tspan></text>
<text x="81.85" y="215.00" font-size="5.7" text-anchor="end" fill="#333" transform="rotate(-45 81.85 215.00)">10<tspan font-size="3.7" dy="-2.4">5</tspan></text>
<text x="90.40" y="215.00" font-size="5.7" text-anchor="end" fill="#333" transform="rotate(-45 90.40 215.00)">10<tspan font-size="3.7" dy="-2.4">6</tspan></text>
<text x="98.95" y="215.00" font-size="5.7" text-anchor="end" fill="#333" transform="rotate(-45 98.95 215.00)">10<tspan font-size="3.7" dy="-2.4">12</tspan></text>
<text x="12.00" y="179.00" font-size="7.2" text-anchor="middle" fill="#2a2a2a" font-weight="bold" textLength="19" lengthAdjust="spacingAndGlyphs" transform="rotate(-90 12.00 179.00)">7AAD-A</text>
<text x="65.70" y="231.50" font-size="7.4" text-anchor="middle" fill="#2a2a2a" font-weight="bold" textLength="31" lengthAdjust="spacingAndGlyphs">Annexin V-H</text>
<text x="165.10" y="133.20" font-size="8.2" text-anchor="middle" fill="#2a2a2a">A02 Myla_LY</text>
<text x="165.10" y="142.10" font-size="8.0" text-anchor="middle" fill="#2a2a2a">Gate: (E1 in all)</text>
<rect x="134.60" y="147.50" width="61" height="60" fill="#fff" stroke="#888" stroke-width="0.6"/>
<path d="M180.0 171.1h0.9M171.1 172.0h0.9M173.7 169.4h0.9M176.5 172.5h0.9M173.0 175.7h0.9M172.4 171.5h0.9M172.3 170.5h0.9M175.6 170.8h0.9M181.2 169.9h0.9M175.9 170.2h0.9M167.8 173.4h0.9M170.8 174.4h0.9M174.8 174.4h0.9M177.5 171.8h0.9M174.9 171.4h0.9M177.2 172.0h0.9M171.1 173.4h0.9M184.8 167.2h0.9M172.3 170.6h0.9M168.4 175.8h0.9M174.3 171.8h0.9M183.2 173.0h0.9M170.7 174.7h0.9M176.7 171.2h0.9M175.8 170.6h0.9M180.9 170.1h0.9M176.1 173.1h0.9M177.9 170.8h0.9M176.3 174.0h0.9M175.9 170.5h0.9M170.0 172.1h0.9M169.4 173.2h0.9M173.6 167.3h0.9M174.3 172.5h0.9M173.9 169.4h0.9M178.7 168.2h0.9M167.9 171.4h0.9M174.4 173.2h0.9M178.9 170.0h0.9M168.3 172.1h0.9M169.9 172.5h0.9M166.4 174.3h0.9M176.4 170.1h0.9M175.1 169.0h0.9M167.2 172.5h0.9M179.4 171.5h0.9M172.7 174.3h0.9M173.4 174.6h0.9M175.6 169.9h0.9M176.7 168.8h0.9M168.9 170.2h0.9M174.9 170.9h0.9M173.2 170.8h0.9M179.6 168.4h0.9M171.6 174.7h0.9M180.0 169.8h0.9M166.1 173.0h0.9M176.4 170.5h0.9M179.5 166.6h0.9M176.3 169.2h0.9M179.3 169.2h0.9M177.7 168.7h0.9M167.1 171.6h0.9M170.6 170.5h0.9M179.7 171.9h0.9M174.3 169.1h0.9M172.9 170.4h0.9M180.2 169.7h0.9M175.6 169.9h0.9M164.8 173.1h0.9M169.3 173.8h0.9M173.7 169.8h0.9M173.2 174.8h0.9M169.1 171.2h0.9M172.4 170.5h0.9M172.3 173.0h0.9M180.0 165.6h0.9M173.7 171.5h0.9M173.3 171.2h0.9M173.0 173.7h0.9M171.8 171.9h0.9M173.9 171.6h0.9M173.7 173.4h0.9M173.9 171.7h0.9M172.9 169.7h0.9M169.6 170.8h0.9M174.2 169.8h0.9M169.5 173.5h0.9M174.9 167.4h0.9M181.0 168.9h0.9M174.0 173.5h0.9M173.7 170.2h0.9M182.4 166.1h0.9M173.9 173.1h0.9M169.2 172.9h0.9M177.0 175.1h0.9M170.0 172.7h0.9M176.6 170.5h0.9M169.0 174.0h0.9M174.5 172.0h0.9M179.2 171.5h0.9M175.7 171.3h0.9M169.1 172.9h0.9M174.5 170.3h0.9M173.7 169.8h0.9M181.7 172.9h0.9M172.4 172.7h0.9M173.6 174.0h0.9M175.7 170.9h0.9M172.9 172.0h0.9M170.0 174.1h0.9M171.1 173.5h0.9M175.1 173.2h0.9M174.4 173.3h0.9M170.3 173.9h0.9M173.0 172.1h0.9M174.7 173.0h0.9M165.5 175.1h0.9M168.3 175.9h0.9M164.8 172.6h0.9M167.8 176.9h0.9M168.4 173.6h0.9M170.4 169.0h0.9M172.8 173.1h0.9M173.6 173.4h0.9M172.3 172.0h0.9M172.4 172.6h0.9M182.1 169.1h0.9M174.2 170.0h0.9M171.6 175.2h0.9M168.5 171.5h0.9M173.1 170.8h0.9M180.5 164.2h0.9M175.8 172.1h0.9M168.6 172.0h0.9M176.7 173.6h0.9M168.9 170.0h0.9M178.9 172.6h0.9M170.9 168.0h0.9M179.8 168.8h0.9M178.5 169.6h0.9M171.9 171.2h0.9M181.0 171.7h0.9M164.2 173.0h0.9M181.1 168.0h0.9M168.0 173.5h0.9M173.3 171.4h0.9M171.6 171.6h0.9M172.1 172.7h0.9M170.2 172.1h0.9M174.0 174.0h0.9M175.3 170.6h0.9M176.3 171.3h0.9M178.7 170.6h0.9M182.3 171.0h0.9M173.4 170.7h0.9M177.9 171.0h0.9M172.4 168.9h0.9M166.3 174.8h0.9M177.6 171.6h0.9M169.0 175.2h0.9M171.8 172.9h0.9M175.0 169.3h0.9M170.0 168.6h0.9M168.8 169.6h0.9M175.7 170.8h0.9M177.9 170.6h0.9M171.3 173.0h0.9M172.5 173.1h0.9M174.5 169.1h0.9M173.8 171.5h0.9M173.1 173.5h0.9M180.8 168.1h0.9M170.9 167.9h0.9M173.0 170.8h0.9M164.8 175.2h0.9M175.8 169.2h0.9M171.6 170.2h0.9M176.0 167.5h0.9M173.7 175.4h0.9M174.3 172.2h0.9M172.4 169.5h0.9M173.9 172.2h0.9M169.7 173.6h0.9M179.8 171.4h0.9M166.5 172.1h0.9M167.7 175.8h0.9M176.8 171.7h0.9M169.3 170.7h0.9M174.2 171.5h0.9M170.3 173.0h0.9M176.7 170.8h0.9M168.0 169.2h0.9M172.8 172.1h0.9M172.4 171.0h0.9M171.3 173.7h0.9M173.7 171.7h0.9M169.3 171.8h0.9M173.8 169.4h0.9M168.3 172.8h0.9M179.0 169.9h0.9M179.9 168.9h0.9M171.6 169.4h0.9M172.3 174.8h0.9M175.7 172.2h0.9M176.8 170.3h0.9M173.0 171.9h0.9M176.9 171.2h0.9M176.0 170.9h0.9M170.4 172.1h0.9M170.5 174.6h0.9M164.8 174.2h0.9M183.7 167.1h0.9M169.0 173.1h0.9M179.1 169.1h0.9M176.5 170.6h0.9M174.3 177.6h0.9M173.8 170.3h0.9M172.0 172.8h0.9M176.0 172.1h0.9M173.5 168.6h0.9M175.8 170.0h0.9M171.6 169.2h0.9M170.9 171.0h0.9M172.7 168.9h0.9M174.1 171.5h0.9M168.7 172.0h0.9M170.8 174.3h0.9M162.9 174.7h0.9M166.5 173.2h0.9M177.0 169.0h0.9M173.8 169.7h0.9M182.6 170.0h0.9M177.7 167.3h0.9M169.8 175.0h0.9M172.8 171.2h0.9M174.4 168.6h0.9M177.1 170.2h0.9M175.4 169.5h0.9M175.5 169.4h0.9" stroke="#3a6aa8" stroke-width="0.9" opacity="0.85"/>
<path d="M168.7 182.0h0.9M168.7 180.6h0.9M168.3 173.5h0.9M168.6 178.9h0.9M167.6 178.9h0.9M165.7 178.3h0.9M168.4 182.6h0.9M166.7 177.5h0.9M169.4 177.6h0.9M170.2 179.6h0.9M166.4 181.7h0.9M169.7 176.3h0.9M169.5 178.9h0.9M169.4 178.7h0.9M165.4 180.6h0.9M168.7 184.1h0.9M169.7 181.0h0.9M167.2 178.4h0.9M167.1 177.7h0.9M167.1 173.9h0.9M167.7 179.4h0.9M170.8 181.2h0.9M166.9 180.7h0.9M165.9 178.2h0.9M165.1 182.7h0.9M168.3 176.9h0.9M167.4 181.6h0.9M168.1 180.3h0.9M166.4 178.1h0.9M167.6 181.5h0.9M166.4 177.0h0.9M169.0 177.5h0.9M168.9 180.0h0.9M168.6 183.3h0.9M168.4 181.2h0.9M166.3 178.0h0.9M168.3 182.9h0.9M169.3 184.6h0.9M167.9 179.9h0.9M168.8 179.5h0.9M167.4 177.2h0.9M168.8 177.1h0.9M168.2 176.4h0.9M168.9 177.2h0.9M168.6 176.0h0.9M166.9 182.1h0.9M166.5 179.6h0.9M166.9 174.4h0.9M167.9 180.5h0.9M166.1 180.8h0.9M166.5 177.3h0.9M167.5 178.0h0.9M170.5 176.1h0.9M168.5 181.7h0.9M164.9 175.7h0.9M168.2 178.4h0.9M168.0 182.0h0.9M167.0 177.2h0.9M164.0 180.0h0.9M166.3 180.2h0.9" stroke="#5aa84a" stroke-width="0.9" opacity="0.85"/>
<path d="M150.3 182.9h0.9M159.8 184.5h0.9M153.2 181.8h0.9M148.6 186.3h0.9M147.8 185.1h0.9M153.2 185.9h0.9M151.9 184.5h0.9M156.8 183.7h0.9M138.3 192.0h0.9M152.0 188.7h0.9M149.4 186.7h0.9M149.0 189.6h0.9M148.3 186.3h0.9M148.5 189.6h0.9M146.6 184.2h0.9M152.8 183.4h0.9M153.0 186.4h0.9M157.5 185.8h0.9M148.3 187.6h0.9M147.5 193.4h0.9M154.7 188.4h0.9M147.1 182.9h0.9M157.7 182.9h0.9M151.6 186.3h0.9M154.5 186.0h0.9M145.5 192.8h0.9M148.1 186.8h0.9M159.6 184.2h0.9M147.2 183.3h0.9M152.4 187.3h0.9M149.1 184.0h0.9M146.0 185.8h0.9M153.0 187.7h0.9M154.5 182.4h0.9M152.7 187.1h0.9M148.6 187.5h0.9M160.5 181.6h0.9M154.3 183.4h0.9M149.0 182.7h0.9M152.4 189.1h0.9M161.6 183.8h0.9M154.0 184.9h0.9M148.2 187.7h0.9M152.7 183.3h0.9M153.8 182.0h0.9M142.0 188.8h0.9M142.1 187.7h0.9M155.7 183.2h0.9M153.4 188.5h0.9M155.8 182.3h0.9M157.2 184.0h0.9M151.6 187.4h0.9M143.8 188.4h0.9M151.3 188.1h0.9M149.2 187.2h0.9M157.0 187.1h0.9M155.9 187.3h0.9M148.9 186.8h0.9M152.0 185.1h0.9M150.9 191.3h0.9M148.9 184.9h0.9M155.4 189.3h0.9M152.9 189.0h0.9M148.5 186.5h0.9M147.8 187.9h0.9M157.5 179.4h0.9M156.8 180.2h0.9M151.0 188.9h0.9M154.1 185.5h0.9M144.3 191.4h0.9" stroke="#e07090" stroke-width="0.9" opacity="0.5"/>
<ellipse cx="160.2" cy="181.3" rx="5.8" ry="3.0" transform="rotate(-45 160.2 181.3)" fill="#cc0a2a" opacity="0.95"/>
<path d="M161.0 188.2h0.9M159.8 182.2h0.9M156.1 184.0h0.9M157.8 186.6h0.9M160.3 182.9h0.9M157.4 182.6h0.9M162.6 176.0h0.9M155.5 187.3h0.9M156.2 184.0h0.9M161.7 177.4h0.9M161.8 177.7h0.9M166.6 178.8h0.9M158.5 182.4h0.9M158.0 184.1h0.9M161.5 175.7h0.9M161.0 176.6h0.9M155.0 181.2h0.9M166.5 175.1h0.9M159.9 179.6h0.9M160.2 175.0h0.9M163.6 184.5h0.9M159.1 182.5h0.9M161.0 178.1h0.9M161.7 182.7h0.9M161.3 181.3h0.9M159.6 182.8h0.9M162.5 183.3h0.9M162.0 178.8h0.9M154.0 189.6h0.9M161.1 177.7h0.9M152.6 185.5h0.9M161.4 177.0h0.9M159.2 183.0h0.9M163.8 177.6h0.9M159.1 180.8h0.9M166.6 178.0h0.9M157.8 179.5h0.9M158.7 184.5h0.9M159.4 184.8h0.9M161.7 180.7h0.9M162.9 180.1h0.9M157.2 183.4h0.9M165.4 172.6h0.9M160.4 184.3h0.9M158.5 180.6h0.9M157.1 186.0h0.9M165.3 180.3h0.9M161.9 182.7h0.9M157.4 184.6h0.9M158.4 183.6h0.9M164.0 180.7h0.9M159.1 186.1h0.9M157.3 181.2h0.9M157.5 179.6h0.9M160.6 181.7h0.9M160.4 182.7h0.9M159.3 182.2h0.9M156.0 185.6h0.9M157.0 183.2h0.9M160.2 181.9h0.9M153.0 183.9h0.9M160.0 182.9h0.9M162.6 181.6h0.9M164.8 178.2h0.9M158.6 179.8h0.9M156.7 183.4h0.9M161.3 180.8h0.9M160.0 181.1h0.9M162.4 179.7h0.9M161.5 180.9h0.9M157.0 181.4h0.9M162.3 180.5h0.9M158.9 181.3h0.9M165.8 173.4h0.9M159.9 182.3h0.9M156.9 184.9h0.9M166.9 177.3h0.9M163.0 180.3h0.9M162.0 182.4h0.9M159.1 181.1h0.9M161.8 182.3h0.9M162.2 181.3h0.9M156.0 189.1h0.9M169.1 176.3h0.9M158.0 181.0h0.9M159.6 179.0h0.9M161.6 178.4h0.9M165.1 180.5h0.9M154.6 187.8h0.9M156.0 181.3h0.9M158.0 182.8h0.9M161.0 176.0h0.9M166.3 181.2h0.9M162.8 180.3h0.9M158.4 179.6h0.9M162.4 180.3h0.9M166.2 182.9h0.9M163.0 179.8h0.9M162.8 174.7h0.9M156.2 184.1h0.9M159.3 184.3h0.9M161.8 184.8h0.9M165.9 177.9h0.9M160.0 183.4h0.9M161.0 177.3h0.9M162.3 181.3h0.9M163.2 183.0h0.9M162.6 176.5h0.9M159.3 179.7h0.9M160.6 178.3h0.9M163.5 179.1h0.9M162.9 178.2h0.9M158.5 188.2h0.9M161.7 183.9h0.9M162.5 181.0h0.9M166.1 176.4h0.9M162.2 174.9h0.9M162.4 178.4h0.9M159.8 181.7h0.9M163.7 182.7h0.9M154.8 186.9h0.9M159.8 185.2h0.9M159.6 183.2h0.9M160.0 183.5h0.9M162.6 177.7h0.9M158.2 179.0h0.9M162.4 181.7h0.9M160.2 184.6h0.9M151.3 184.7h0.9M155.4 184.7h0.9M160.1 181.1h0.9M161.1 182.6h0.9M156.9 180.8h0.9M159.6 188.1h0.9M153.0 188.0h0.9M165.2 177.7h0.9M157.7 183.8h0.9M164.6 180.5h0.9M158.7 185.1h0.9M162.6 182.2h0.9M163.8 176.7h0.9M156.5 186.2h0.9M166.5 177.0h0.9M164.4 184.2h0.9M158.5 185.7h0.9M158.6 183.1h0.9M162.7 183.3h0.9M156.6 183.3h0.9M156.2 186.8h0.9M159.5 183.3h0.9M156.5 184.0h0.9M163.0 178.0h0.9M162.8 180.2h0.9M156.8 180.0h0.9M163.4 178.6h0.9M160.1 175.4h0.9M152.1 183.0h0.9M159.1 185.5h0.9M161.8 179.6h0.9M161.7 182.0h0.9M159.9 182.8h0.9M157.4 177.6h0.9M161.1 184.5h0.9M158.8 182.3h0.9M157.7 182.4h0.9M163.1 177.6h0.9M152.5 179.7h0.9M155.6 180.1h0.9M156.0 187.9h0.9M159.5 176.3h0.9M163.4 179.5h0.9M159.0 184.7h0.9M153.6 184.3h0.9M154.3 183.9h0.9M160.8 176.7h0.9M155.4 183.3h0.9M160.3 180.2h0.9M161.7 177.7h0.9M155.6 184.4h0.9M158.9 179.8h0.9" stroke="#cc0a2a" stroke-width="0.9" opacity="0.9"/>
<path d="M162.5 176.6h0.9M161.8 173.6h0.9M163.5 172.4h0.9M161.5 171.6h0.9M162.6 174.4h0.9M162.2 173.5h0.9M163.4 174.9h0.9M161.0 173.4h0.9M162.4 174.7h0.9M162.1 172.4h0.9M161.9 170.4h0.9M162.3 172.4h0.9M162.7 171.7h0.9M161.9 171.8h0.9M161.3 174.6h0.9M161.9 174.2h0.9M161.3 173.6h0.9M160.7 172.6h0.9M161.8 174.4h0.9M162.4 173.1h0.9M163.0 173.8h0.9M162.7 174.7h0.9M162.2 172.9h0.9M162.6 172.7h0.9M162.6 175.3h0.9M163.0 172.8h0.9M161.1 173.3h0.9M162.1 175.3h0.9M161.9 173.1h0.9M162.9 172.6h0.9M162.1 176.3h0.9M163.6 174.5h0.9M162.5 171.8h0.9M162.8 173.5h0.9M162.5 172.5h0.9" stroke="#111" stroke-width="0.9" opacity="1"/>
<line x1="164.80" y1="147.50" x2="164.80" y2="207.50" stroke="#c8707e" stroke-width="0.7"/>
<line x1="134.60" y1="176.80" x2="195.60" y2="176.80" stroke="#d06878" stroke-width="0.8"/>
<text x="137.00" y="153.80" font-size="5.9" fill="#d23c64" textLength="19.12" lengthAdjust="spacingAndGlyphs">Q3-UL</text>
<text x="137.00" y="161.10" font-size="5.9" fill="#d23c64" textLength="14.79" lengthAdjust="spacingAndGlyphs">3.4%</text>
<text x="194.00" y="153.80" font-size="5.9" text-anchor="end" fill="#4a78b4" textLength="20.19" lengthAdjust="spacingAndGlyphs">Q3-UR</text>
<text x="194.00" y="161.10" font-size="5.9" text-anchor="end" fill="#4a78b4" textLength="18.4" lengthAdjust="spacingAndGlyphs">19.1%</text>
<text x="137.80" y="198.00" font-size="5.9" fill="#d23c64" textLength="18.04" lengthAdjust="spacingAndGlyphs">Q3-LL</text>
<text x="137.80" y="204.90" font-size="5.9" fill="#d23c64" textLength="18.4" lengthAdjust="spacingAndGlyphs">71.6%</text>
<text x="194.00" y="198.00" font-size="5.9" text-anchor="end" fill="#6aaa4a" textLength="19.12" lengthAdjust="spacingAndGlyphs">Q3-LR</text>
<text x="194.00" y="204.90" font-size="5.9" text-anchor="end" fill="#6aaa4a" textLength="14.79" lengthAdjust="spacingAndGlyphs">6.0%</text>
<line x1="134.20" y1="148.10" x2="134.20" y2="207.50" stroke="#111" stroke-width="1.6" stroke-dasharray="2.4,1.4"/>
<line x1="134.60" y1="207.80" x2="195.60" y2="207.80" stroke="#111" stroke-width="1.2"/>
<line x1="135.60" y1="208.70" x2="195.60" y2="208.70" stroke="#111" stroke-width="1.2" stroke-dasharray="1.6,0.9"/>
<text x="130.20" y="150.10" font-size="5.8" text-anchor="end" fill="#333">10<tspan font-size="3.7" dy="-2.4">12</tspan></text>
<text x="130.20" y="158.55" font-size="5.8" text-anchor="end" fill="#333">10<tspan font-size="3.7" dy="-2.4">8</tspan></text>
<text x="130.20" y="167.00" font-size="5.8" text-anchor="end" fill="#333">10<tspan font-size="3.7" dy="-2.4">5</tspan></text>
<text x="130.20" y="175.45" font-size="5.8" text-anchor="end" fill="#333">10<tspan font-size="3.7" dy="-2.4">4</tspan></text>
<text x="130.20" y="183.90" font-size="5.8" text-anchor="end" fill="#333">10<tspan font-size="3.7" dy="-2.4">3</tspan></text>
<text x="130.20" y="192.35" font-size="5.8" text-anchor="end" fill="#333">10<tspan font-size="3.7" dy="-2.4">2</tspan></text>
<text x="130.20" y="200.80" font-size="5.8" text-anchor="end" fill="#333">10<tspan font-size="3.7" dy="-2.4">1</tspan></text>
<text x="130.20" y="209.25" font-size="5.8" text-anchor="end" fill="#333">10<tspan font-size="3.7" dy="-2.4">0</tspan></text>
<text x="139.10" y="215.00" font-size="5.7" text-anchor="end" fill="#333" transform="rotate(-45 139.10 215.00)">10<tspan font-size="3.7" dy="-2.4">0</tspan></text>
<text x="147.65" y="215.00" font-size="5.7" text-anchor="end" fill="#333" transform="rotate(-45 147.65 215.00)">10<tspan font-size="3.7" dy="-2.4">1</tspan></text>
<text x="156.20" y="215.00" font-size="5.7" text-anchor="end" fill="#333" transform="rotate(-45 156.20 215.00)">10<tspan font-size="3.7" dy="-2.4">2</tspan></text>
<text x="164.75" y="215.00" font-size="5.7" text-anchor="end" fill="#333" transform="rotate(-45 164.75 215.00)">10<tspan font-size="3.7" dy="-2.4">3</tspan></text>
<text x="173.30" y="215.00" font-size="5.7" text-anchor="end" fill="#333" transform="rotate(-45 173.30 215.00)">10<tspan font-size="3.7" dy="-2.4">4</tspan></text>
<text x="181.85" y="215.00" font-size="5.7" text-anchor="end" fill="#333" transform="rotate(-45 181.85 215.00)">10<tspan font-size="3.7" dy="-2.4">5</tspan></text>
<text x="190.40" y="215.00" font-size="5.7" text-anchor="end" fill="#333" transform="rotate(-45 190.40 215.00)">10<tspan font-size="3.7" dy="-2.4">6</tspan></text>
<text x="198.95" y="215.00" font-size="5.7" text-anchor="end" fill="#333" transform="rotate(-45 198.95 215.00)">10<tspan font-size="3.7" dy="-2.4">12</tspan></text>
<text x="112.00" y="179.00" font-size="7.2" text-anchor="middle" fill="#2a2a2a" font-weight="bold" textLength="19" lengthAdjust="spacingAndGlyphs" transform="rotate(-90 112.00 179.00)">7AAD-A</text>
<text x="165.70" y="231.50" font-size="7.4" text-anchor="middle" fill="#2a2a2a" font-weight="bold" textLength="31" lengthAdjust="spacingAndGlyphs">Annexin V-H</text>
<text x="65.10" y="248.80" font-size="8.2" text-anchor="middle" fill="#2a2a2a">A01 SeAx_ DMSO</text>
<text x="65.10" y="257.70" font-size="8.0" text-anchor="middle" fill="#2a2a2a">Gate: (E1 in all)</text>
<rect x="34.60" y="263.10" width="61" height="60" fill="#fff" stroke="#888" stroke-width="0.6"/>
<path d="M76.7 281.3h0.9M78.7 283.0h0.9M76.9 278.7h0.9M72.7 280.8h0.9M74.7 283.4h0.9M77.7 280.1h0.9M77.2 280.1h0.9M71.4 281.7h0.9M75.0 284.7h0.9M73.4 285.2h0.9M80.9 279.3h0.9M76.3 280.7h0.9M77.1 282.4h0.9M77.5 282.8h0.9M80.8 280.2h0.9M77.8 280.9h0.9M77.2 279.5h0.9M78.2 281.2h0.9M75.4 285.7h0.9M73.2 281.8h0.9M76.5 278.5h0.9M73.3 280.6h0.9M73.7 282.8h0.9M78.5 282.5h0.9M80.1 281.9h0.9M78.4 280.0h0.9M80.0 279.2h0.9M75.8 284.5h0.9M79.4 280.6h0.9M79.7 281.6h0.9M72.4 283.4h0.9M73.1 283.4h0.9M75.5 284.3h0.9M77.9 279.6h0.9M76.0 279.9h0.9M77.3 282.2h0.9M76.4 278.5h0.9M76.0 282.7h0.9M78.5 282.6h0.9M73.0 284.1h0.9M74.8 282.7h0.9M78.5 281.8h0.9M75.1 282.6h0.9M72.2 281.3h0.9M78.5 280.6h0.9M71.1 282.7h0.9M77.8 283.6h0.9M80.6 281.0h0.9M71.1 284.0h0.9M78.5 281.3h0.9M77.9 280.6h0.9M83.3 280.9h0.9M75.9 280.3h0.9M82.9 277.7h0.9M81.8 282.3h0.9M74.0 283.3h0.9M76.0 282.7h0.9M79.0 283.7h0.9M78.6 280.6h0.9M80.2 279.5h0.9M77.0 285.1h0.9M73.9 282.1h0.9M76.2 280.0h0.9M70.8 286.1h0.9M73.9 281.9h0.9M75.0 280.7h0.9M73.5 283.3h0.9M84.8 279.0h0.9M78.2 278.4h0.9M75.9 279.9h0.9M79.1 280.1h0.9M76.8 281.3h0.9M74.0 280.3h0.9M77.7 278.8h0.9M72.8 282.8h0.9M74.7 282.9h0.9M80.1 280.4h0.9M77.4 281.2h0.9M78.3 277.7h0.9M77.3 279.7h0.9M72.9 283.3h0.9M75.9 282.9h0.9M78.8 276.7h0.9M77.8 284.3h0.9M80.4 282.2h0.9M76.2 279.4h0.9M73.7 284.1h0.9M79.4 279.1h0.9M76.1 282.3h0.9M71.0 283.6h0.9" stroke="#2a6aa8" stroke-width="0.9" opacity="0.85"/>
<path d="M79.1 295.3h0.9M77.3 294.4h0.9M76.9 287.8h0.9M75.2 292.2h0.9M77.1 295.7h0.9M77.8 290.3h0.9M75.6 293.6h0.9M77.1 289.5h0.9M75.2 292.2h0.9M78.4 288.3h0.9M77.5 290.8h0.9M78.4 290.1h0.9M79.2 289.3h0.9M76.8 288.7h0.9M74.9 287.8h0.9M78.5 290.5h0.9M76.6 290.7h0.9M75.4 289.1h0.9M78.0 291.6h0.9M76.7 292.1h0.9M79.3 288.8h0.9M78.2 286.0h0.9M75.5 291.4h0.9M77.5 290.4h0.9M76.9 289.1h0.9M78.3 294.2h0.9M77.2 285.7h0.9M78.7 291.4h0.9M78.1 290.3h0.9M79.8 290.1h0.9M78.0 285.2h0.9M76.9 288.2h0.9M77.4 290.7h0.9M76.7 294.2h0.9M76.4 288.7h0.9M77.7 286.7h0.9M78.0 291.5h0.9M77.2 294.6h0.9M77.5 290.6h0.9M76.5 285.7h0.9" stroke="#4aa04a" stroke-width="0.9" opacity="0.8"/>
<path d="M67.5 289.3h0.9M68.0 291.4h0.9M62.2 287.6h0.9M63.9 292.6h0.9M67.7 288.9h0.9M66.0 291.7h0.9M68.1 290.3h0.9M63.2 292.2h0.9M70.5 291.0h0.9M73.1 289.5h0.9M68.8 291.3h0.9M70.6 289.4h0.9M69.5 288.9h0.9M71.5 291.8h0.9M69.4 293.7h0.9M64.7 289.4h0.9M74.5 289.1h0.9M64.5 292.7h0.9M71.0 287.5h0.9M71.7 287.9h0.9M65.3 289.6h0.9M67.9 287.7h0.9M68.3 287.9h0.9M69.5 289.9h0.9M71.6 289.0h0.9M65.4 287.3h0.9M68.6 293.0h0.9M71.9 288.6h0.9M72.2 287.6h0.9M72.4 289.1h0.9M71.7 291.2h0.9M68.5 290.6h0.9M66.1 289.8h0.9M72.6 298.1h0.9M71.5 290.1h0.9M66.3 292.0h0.9M64.4 288.3h0.9M70.4 287.5h0.9M74.0 292.1h0.9M67.7 288.8h0.9M65.4 287.1h0.9M70.7 291.2h0.9M70.4 290.4h0.9M67.7 290.6h0.9M64.9 289.9h0.9M73.8 292.6h0.9M68.0 289.2h0.9M73.5 293.5h0.9M64.9 289.1h0.9M70.1 292.4h0.9M66.8 291.2h0.9M68.5 294.7h0.9M70.7 289.6h0.9M68.4 292.0h0.9M71.4 287.7h0.9M70.0 287.2h0.9M67.1 287.3h0.9M65.4 288.5h0.9M66.4 291.0h0.9M71.8 289.4h0.9" stroke="#f0b0c0" stroke-width="0.9" opacity="0.7"/>
<path d="M51.9 306.2h0.9M43.7 302.9h0.9M61.3 300.3h0.9M61.5 297.6h0.9M49.5 303.7h0.9M58.7 297.7h0.9M51.3 300.1h0.9M51.7 306.4h0.9M57.6 297.1h0.9M50.4 303.1h0.9M58.1 296.8h0.9M53.1 296.9h0.9M50.7 305.7h0.9M59.9 295.8h0.9M53.7 305.1h0.9M54.0 301.0h0.9M59.7 299.9h0.9M63.5 299.4h0.9M53.6 302.5h0.9M54.7 298.3h0.9M52.9 306.1h0.9M49.7 308.0h0.9M58.0 299.9h0.9M60.1 300.5h0.9M62.5 296.5h0.9M55.2 301.2h0.9M67.7 297.4h0.9M51.5 303.1h0.9M53.1 303.2h0.9M60.7 305.4h0.9M48.5 308.8h0.9M58.1 298.2h0.9M55.3 300.4h0.9M58.3 303.1h0.9M50.5 308.5h0.9M56.7 305.4h0.9M60.4 302.5h0.9M61.1 301.7h0.9M56.0 299.1h0.9M61.2 300.6h0.9M65.2 290.4h0.9M57.1 303.9h0.9M50.0 304.3h0.9M69.6 297.7h0.9M54.0 306.8h0.9M63.9 299.2h0.9M59.1 300.4h0.9M51.6 302.5h0.9M60.8 299.1h0.9M66.0 294.7h0.9M43.9 307.5h0.9M58.7 301.0h0.9M56.1 299.0h0.9M63.8 295.1h0.9M60.2 298.3h0.9M52.4 307.7h0.9M42.7 306.7h0.9M58.6 299.0h0.9M60.6 298.6h0.9M57.2 307.1h0.9M55.5 301.3h0.9M50.3 302.7h0.9M60.9 300.3h0.9M56.0 299.5h0.9M58.3 295.3h0.9M54.8 301.5h0.9M52.7 303.9h0.9M52.4 301.3h0.9M67.2 297.2h0.9M63.2 297.5h0.9" stroke="#d86080" stroke-width="0.9" opacity="0.45"/>
<ellipse cx="68" cy="296" rx="6.5" ry="3.8" transform="rotate(-12 68 296)" fill="#cc0a2a" opacity="0.95"/>
<path d="M73.1 297.3h0.9M75.3 301.7h0.9M67.0 297.0h0.9M65.5 285.7h0.9M61.1 297.5h0.9M70.7 293.6h0.9M74.3 298.6h0.9M66.8 300.6h0.9M76.8 295.5h0.9M64.1 301.3h0.9M66.9 295.1h0.9M68.2 294.3h0.9M73.7 297.2h0.9M74.3 296.4h0.9M64.0 296.4h0.9M72.0 293.9h0.9M82.1 292.3h0.9M65.8 300.0h0.9M71.6 295.1h0.9M67.1 297.5h0.9M72.6 297.4h0.9M66.8 297.6h0.9M72.6 297.4h0.9M52.4 296.6h0.9M64.1 296.1h0.9M69.5 298.5h0.9M70.9 295.0h0.9M69.2 301.1h0.9M65.2 297.5h0.9M75.9 295.4h0.9M58.2 299.2h0.9M66.0 296.1h0.9M73.4 296.3h0.9M67.3 298.9h0.9M70.2 295.9h0.9M69.6 296.4h0.9M66.1 295.0h0.9M67.5 293.2h0.9M62.7 301.1h0.9M66.8 296.2h0.9M67.4 296.2h0.9M68.2 296.2h0.9M64.6 299.6h0.9M65.3 299.8h0.9M58.0 294.9h0.9M72.8 294.5h0.9M65.0 297.8h0.9M62.9 297.3h0.9M56.9 297.0h0.9M65.2 298.3h0.9M71.8 292.6h0.9M75.5 292.6h0.9M56.5 291.2h0.9M75.5 294.1h0.9M64.4 294.5h0.9M63.5 301.1h0.9M68.7 301.3h0.9M65.6 289.3h0.9M71.9 294.0h0.9M67.8 300.8h0.9M67.4 299.7h0.9M67.5 293.8h0.9M70.1 293.7h0.9M74.6 297.5h0.9M68.7 297.7h0.9M70.6 294.6h0.9M72.2 294.4h0.9M70.4 292.6h0.9M68.8 297.1h0.9M63.9 295.6h0.9M65.9 298.7h0.9M64.8 298.0h0.9M75.7 295.5h0.9M60.2 298.1h0.9M72.9 294.1h0.9M73.8 296.7h0.9M69.9 294.8h0.9M65.4 295.8h0.9M68.7 297.5h0.9M69.9 294.7h0.9M68.6 297.1h0.9M59.6 295.5h0.9M64.0 296.3h0.9M66.6 295.6h0.9M64.2 298.9h0.9M68.4 290.9h0.9M67.4 292.7h0.9M76.1 292.9h0.9M66.2 296.7h0.9M67.1 296.1h0.9M75.8 295.1h0.9M72.9 298.5h0.9M64.4 302.0h0.9M72.1 298.1h0.9M64.4 299.3h0.9M69.8 294.0h0.9M79.6 295.3h0.9M67.1 296.9h0.9M73.3 298.4h0.9M71.7 299.0h0.9M74.5 290.9h0.9M65.1 293.8h0.9M69.5 300.2h0.9M70.7 292.3h0.9M67.3 299.4h0.9M65.5 296.3h0.9M68.5 290.4h0.9M72.1 296.2h0.9M70.3 292.6h0.9M64.0 295.1h0.9M69.4 296.0h0.9M69.9 301.2h0.9M74.0 292.6h0.9M66.0 301.8h0.9M67.4 300.4h0.9M75.6 292.8h0.9M66.8 296.6h0.9M63.3 294.1h0.9M66.7 299.0h0.9M65.8 295.9h0.9M65.0 292.5h0.9M73.9 287.6h0.9M65.3 298.4h0.9M61.7 299.3h0.9M73.7 292.2h0.9M68.4 292.6h0.9M70.6 295.8h0.9M70.0 299.8h0.9M71.3 299.5h0.9M70.5 291.9h0.9M69.7 297.2h0.9M61.9 301.5h0.9M68.7 297.0h0.9M63.8 297.2h0.9M69.4 294.8h0.9M67.2 289.7h0.9M74.1 291.4h0.9M56.8 295.5h0.9M64.4 298.5h0.9M63.8 297.8h0.9M64.8 303.5h0.9M72.0 301.2h0.9M63.6 299.0h0.9M63.8 298.7h0.9M70.4 290.6h0.9M61.8 293.8h0.9M60.3 295.4h0.9M62.5 292.8h0.9M68.9 297.5h0.9M61.3 295.8h0.9M68.0 295.3h0.9M65.2 299.1h0.9M72.6 297.1h0.9M68.3 302.1h0.9M76.3 293.0h0.9M68.2 299.6h0.9M64.4 298.0h0.9M67.8 293.9h0.9M65.9 291.6h0.9M64.2 290.7h0.9M80.1 298.1h0.9M74.2 295.6h0.9M73.7 298.7h0.9M73.6 297.7h0.9M63.8 298.2h0.9M64.7 293.1h0.9M62.7 298.5h0.9M72.3 290.9h0.9M77.5 298.5h0.9M65.9 295.0h0.9M68.3 299.0h0.9M65.5 293.2h0.9M68.4 289.6h0.9M69.4 299.3h0.9M70.0 298.0h0.9M70.9 297.6h0.9M68.2 293.4h0.9M66.9 296.0h0.9M75.2 299.5h0.9M69.6 293.4h0.9M64.3 296.2h0.9M75.0 295.5h0.9M67.3 293.8h0.9M72.5 295.9h0.9M67.8 296.4h0.9M76.1 293.8h0.9M77.0 297.9h0.9M68.8 298.5h0.9M66.9 293.7h0.9M66.1 293.6h0.9M70.5 295.5h0.9M71.3 297.8h0.9M52.9 300.2h0.9M59.3 298.4h0.9M63.8 297.2h0.9M73.6 289.6h0.9M68.9 295.6h0.9M59.1 299.9h0.9M67.9 294.5h0.9M66.5 306.2h0.9" stroke="#cc0a2a" stroke-width="0.9" opacity="0.9"/>
<path d="M69.1 281.5h0.9M67.9 283.1h0.9M69.1 283.4h0.9M67.6 284.1h0.9M68.9 282.0h0.9M68.1 283.1h0.9M72.0 284.0h0.9M69.2 283.5h0.9M70.5 285.7h0.9M68.6 284.0h0.9M71.7 282.5h0.9M70.4 283.7h0.9M68.9 284.1h0.9M72.4 284.7h0.9M69.6 283.7h0.9M75.4 282.3h0.9M70.5 284.5h0.9M70.3 284.2h0.9M70.4 284.3h0.9M72.9 283.3h0.9M70.5 283.4h0.9M69.1 283.5h0.9M67.4 284.3h0.9M73.9 285.4h0.9M72.9 282.4h0.9M73.5 282.7h0.9M69.9 285.5h0.9M67.5 284.4h0.9M70.6 283.3h0.9M68.0 284.0h0.9M68.9 284.6h0.9M72.8 282.0h0.9M68.8 283.1h0.9M67.3 282.3h0.9M70.2 283.3h0.9M66.2 282.9h0.9M71.2 282.2h0.9M67.9 285.2h0.9M73.0 281.7h0.9M66.9 283.9h0.9M67.3 283.2h0.9M69.0 284.1h0.9M64.2 281.1h0.9M67.2 284.6h0.9M69.6 281.6h0.9M71.1 284.3h0.9M69.4 283.1h0.9M71.0 284.8h0.9M70.4 284.1h0.9M69.9 283.1h0.9M67.9 283.8h0.9M69.3 283.2h0.9M72.1 284.0h0.9M72.0 281.8h0.9M71.3 282.9h0.9M68.1 282.6h0.9M72.8 284.4h0.9M68.4 282.2h0.9M70.0 283.0h0.9M73.8 281.9h0.9" stroke="#222" stroke-width="0.9" opacity="0.9"/>
<line x1="74.50" y1="263.10" x2="74.50" y2="323.10" stroke="#c8707e" stroke-width="0.7"/>
<line x1="34.60" y1="287.00" x2="95.60" y2="287.00" stroke="#d06878" stroke-width="0.8"/>
<text x="37.00" y="269.40" font-size="5.9" fill="#d23c64" textLength="19.12" lengthAdjust="spacingAndGlyphs">Q3-UL</text>
<text x="37.00" y="276.70" font-size="5.9" fill="#d23c64" textLength="14.79" lengthAdjust="spacingAndGlyphs">3.3%</text>
<text x="94.00" y="269.40" font-size="5.9" text-anchor="end" fill="#d23c64" textLength="20.19" lengthAdjust="spacingAndGlyphs">Q3-UR</text>
<text x="94.00" y="276.70" font-size="5.9" text-anchor="end" fill="#d23c64" textLength="14.79" lengthAdjust="spacingAndGlyphs">8.0%</text>
<text x="37.80" y="313.60" font-size="5.9" fill="#d23c64" textLength="18.04" lengthAdjust="spacingAndGlyphs">Q3-LL</text>
<text x="37.80" y="320.50" font-size="5.9" fill="#d23c64" textLength="18.4" lengthAdjust="spacingAndGlyphs">83.5%</text>
<text x="94.00" y="313.60" font-size="5.9" text-anchor="end" fill="#d23c64" textLength="19.12" lengthAdjust="spacingAndGlyphs">Q3-LR</text>
<text x="94.00" y="320.50" font-size="5.9" text-anchor="end" fill="#d23c64" textLength="14.79" lengthAdjust="spacingAndGlyphs">5.3%</text>
<line x1="34.20" y1="263.70" x2="34.20" y2="323.10" stroke="#111" stroke-width="1.6" stroke-dasharray="2.4,1.4"/>
<line x1="34.60" y1="323.40" x2="95.60" y2="323.40" stroke="#111" stroke-width="1.2"/>
<line x1="35.60" y1="324.30" x2="95.60" y2="324.30" stroke="#111" stroke-width="1.2" stroke-dasharray="1.6,0.9"/>
<text x="30.20" y="265.70" font-size="5.8" text-anchor="end" fill="#333">10<tspan font-size="3.7" dy="-2.4">12</tspan></text>
<text x="30.20" y="274.15" font-size="5.8" text-anchor="end" fill="#333">10<tspan font-size="3.7" dy="-2.4">8</tspan></text>
<text x="30.20" y="282.60" font-size="5.8" text-anchor="end" fill="#333">10<tspan font-size="3.7" dy="-2.4">5</tspan></text>
<text x="30.20" y="291.05" font-size="5.8" text-anchor="end" fill="#333">10<tspan font-size="3.7" dy="-2.4">4</tspan></text>
<text x="30.20" y="299.50" font-size="5.8" text-anchor="end" fill="#333">10<tspan font-size="3.7" dy="-2.4">3</tspan></text>
<text x="30.20" y="307.95" font-size="5.8" text-anchor="end" fill="#333">10<tspan font-size="3.7" dy="-2.4">2</tspan></text>
<text x="30.20" y="316.40" font-size="5.8" text-anchor="end" fill="#333">10<tspan font-size="3.7" dy="-2.4">1</tspan></text>
<text x="30.20" y="324.85" font-size="5.8" text-anchor="end" fill="#333">10<tspan font-size="3.7" dy="-2.4">0</tspan></text>
<text x="39.10" y="330.60" font-size="5.7" text-anchor="end" fill="#333" transform="rotate(-45 39.10 330.60)">10<tspan font-size="3.7" dy="-2.4">0</tspan></text>
<text x="47.65" y="330.60" font-size="5.7" text-anchor="end" fill="#333" transform="rotate(-45 47.65 330.60)">10<tspan font-size="3.7" dy="-2.4">1</tspan></text>
<text x="56.20" y="330.60" font-size="5.7" text-anchor="end" fill="#333" transform="rotate(-45 56.20 330.60)">10<tspan font-size="3.7" dy="-2.4">2</tspan></text>
<text x="64.75" y="330.60" font-size="5.7" text-anchor="end" fill="#333" transform="rotate(-45 64.75 330.60)">10<tspan font-size="3.7" dy="-2.4">3</tspan></text>
<text x="73.30" y="330.60" font-size="5.7" text-anchor="end" fill="#333" transform="rotate(-45 73.30 330.60)">10<tspan font-size="3.7" dy="-2.4">4</tspan></text>
<text x="81.85" y="330.60" font-size="5.7" text-anchor="end" fill="#333" transform="rotate(-45 81.85 330.60)">10<tspan font-size="3.7" dy="-2.4">5</tspan></text>
<text x="90.40" y="330.60" font-size="5.7" text-anchor="end" fill="#333" transform="rotate(-45 90.40 330.60)">10<tspan font-size="3.7" dy="-2.4">6</tspan></text>
<text x="98.95" y="330.60" font-size="5.7" text-anchor="end" fill="#333" transform="rotate(-45 98.95 330.60)">10<tspan font-size="3.7" dy="-2.4">12</tspan></text>
<text x="12.00" y="294.60" font-size="7.2" text-anchor="middle" fill="#2a2a2a" font-weight="bold" textLength="19" lengthAdjust="spacingAndGlyphs" transform="rotate(-90 12.00 294.60)">7AAD-A</text>
<text x="65.70" y="347.10" font-size="7.4" text-anchor="middle" fill="#2a2a2a" font-weight="bold" textLength="31" lengthAdjust="spacingAndGlyphs">Annexin V-H</text>
<text x="165.10" y="248.80" font-size="8.2" text-anchor="middle" fill="#2a2a2a">A02 SeAx_LY</text>
<text x="165.10" y="257.70" font-size="8.0" text-anchor="middle" fill="#2a2a2a">Gate: (E1 in all)</text>
<rect x="134.60" y="263.10" width="61" height="60" fill="#fff" stroke="#888" stroke-width="0.6"/>
<path d="M172.5 282.4h0.9M177.4 281.2h0.9M180.1 282.8h0.9M176.2 280.7h0.9M172.9 282.9h0.9M179.3 279.9h0.9M180.3 279.9h0.9M181.3 280.0h0.9M174.3 281.2h0.9M172.6 280.3h0.9M178.4 281.8h0.9M182.2 279.1h0.9M176.2 279.9h0.9M180.0 280.6h0.9M176.1 282.4h0.9M177.9 278.2h0.9M179.2 280.5h0.9M176.1 280.9h0.9M182.4 281.3h0.9M181.4 277.9h0.9M176.0 282.7h0.9M173.9 281.2h0.9M173.5 284.9h0.9M180.2 280.6h0.9M177.7 280.3h0.9M176.6 282.1h0.9M176.0 283.2h0.9M175.7 280.4h0.9M180.5 279.6h0.9M178.5 280.0h0.9M171.8 283.7h0.9M174.4 283.6h0.9M172.5 280.2h0.9M178.3 281.2h0.9M177.0 279.4h0.9M178.9 278.4h0.9M175.8 280.5h0.9M176.7 282.4h0.9M175.9 282.3h0.9M178.3 278.3h0.9M174.2 281.6h0.9M175.9 281.9h0.9M172.7 283.7h0.9M179.1 280.1h0.9M173.8 282.3h0.9M176.2 282.2h0.9M177.4 282.0h0.9M176.8 283.2h0.9M171.0 281.9h0.9M177.9 278.7h0.9M178.6 278.8h0.9M177.1 279.8h0.9M176.3 281.6h0.9M176.9 280.6h0.9M182.8 279.0h0.9M175.3 283.0h0.9M179.9 281.7h0.9M181.4 278.2h0.9M180.5 281.4h0.9M177.4 281.3h0.9M169.4 283.1h0.9M181.0 277.2h0.9M176.1 281.8h0.9M179.5 282.5h0.9M172.8 282.7h0.9M178.9 278.6h0.9M178.0 283.3h0.9M180.9 280.4h0.9M170.6 283.3h0.9M178.1 280.3h0.9M178.5 284.8h0.9M176.3 280.0h0.9M177.8 280.4h0.9M176.5 281.2h0.9M179.4 280.6h0.9M174.2 281.9h0.9M178.3 280.0h0.9M180.6 280.9h0.9M174.9 282.3h0.9M183.0 281.1h0.9M177.6 282.1h0.9M174.9 279.9h0.9M178.8 280.8h0.9M178.6 280.5h0.9M177.9 280.1h0.9M178.9 281.6h0.9M177.5 282.0h0.9M172.5 281.7h0.9M181.7 281.8h0.9M177.9 280.6h0.9M174.2 282.6h0.9M178.6 278.5h0.9M178.9 281.1h0.9M177.9 279.2h0.9M178.0 278.7h0.9M181.1 279.8h0.9M174.9 283.7h0.9M179.9 279.1h0.9M182.4 277.7h0.9M178.6 282.2h0.9M172.0 284.3h0.9M177.1 281.0h0.9M174.7 282.4h0.9M174.1 280.8h0.9M175.6 279.9h0.9M180.7 277.9h0.9M175.2 281.3h0.9M177.7 282.0h0.9M179.2 279.9h0.9M176.3 281.4h0.9M179.7 281.1h0.9M175.1 279.0h0.9M183.2 280.2h0.9M178.1 281.2h0.9M175.5 280.3h0.9M176.4 281.0h0.9M175.1 279.8h0.9M176.8 282.0h0.9M176.1 281.5h0.9M172.0 282.7h0.9M176.4 279.6h0.9M173.1 283.1h0.9M175.5 282.3h0.9M176.5 282.1h0.9M175.8 279.5h0.9M176.9 280.7h0.9M178.8 279.8h0.9M176.7 282.4h0.9M180.6 280.9h0.9M180.1 280.6h0.9M179.6 281.4h0.9M178.4 280.7h0.9M178.7 283.8h0.9M177.2 280.7h0.9M176.4 281.3h0.9M177.4 279.4h0.9M172.4 283.2h0.9M173.3 282.8h0.9M178.2 282.3h0.9M181.7 279.9h0.9M175.4 280.1h0.9M175.3 281.8h0.9M172.1 283.0h0.9M177.6 281.8h0.9M176.5 281.4h0.9M175.2 281.1h0.9M172.9 282.8h0.9M181.3 279.8h0.9M177.8 279.5h0.9M180.6 278.7h0.9M179.4 280.4h0.9M175.3 283.1h0.9M177.4 281.2h0.9M178.4 280.6h0.9M176.5 281.9h0.9M176.3 281.5h0.9M174.9 279.8h0.9M175.4 281.0h0.9M177.9 282.4h0.9M173.1 282.7h0.9M171.2 281.8h0.9M175.0 278.7h0.9M172.7 282.9h0.9M177.4 280.8h0.9M176.2 284.4h0.9M176.5 280.1h0.9M181.8 280.2h0.9M176.9 282.8h0.9M178.0 281.6h0.9M177.4 279.5h0.9M179.8 280.3h0.9M174.4 281.0h0.9M179.6 279.7h0.9M177.7 281.8h0.9M176.9 279.0h0.9M179.3 281.6h0.9M180.2 282.2h0.9M178.6 281.6h0.9M181.2 279.2h0.9M182.5 281.5h0.9M180.1 282.5h0.9M179.1 279.1h0.9M180.3 280.3h0.9M178.4 280.8h0.9M181.0 280.4h0.9M175.8 282.2h0.9M178.8 279.4h0.9M176.0 280.9h0.9M175.9 282.0h0.9M180.7 282.4h0.9M180.8 281.1h0.9M180.8 281.6h0.9M176.7 282.2h0.9M178.1 280.5h0.9M175.9 280.8h0.9M176.1 279.7h0.9M178.6 280.5h0.9M177.7 281.3h0.9M178.9 279.6h0.9M176.3 279.1h0.9" stroke="#1f5f9f" stroke-width="0.9" opacity="0.9"/>
<path d="M173.4 287.1h0.9M178.7 287.4h0.9M177.2 295.7h0.9M175.9 296.1h0.9M179.1 294.4h0.9M179.8 293.6h0.9M175.5 293.3h0.9M175.9 288.8h0.9M174.7 297.8h0.9M175.7 292.0h0.9M175.6 292.4h0.9M176.2 291.0h0.9M174.8 288.5h0.9M175.5 292.8h0.9M179.4 294.7h0.9M179.1 293.2h0.9M176.4 288.7h0.9M176.5 286.7h0.9M176.1 296.1h0.9M177.0 294.9h0.9M176.0 288.6h0.9M175.9 291.1h0.9M178.2 297.0h0.9M175.5 291.2h0.9M176.3 291.2h0.9M174.8 292.3h0.9M177.0 293.0h0.9M174.8 291.8h0.9M174.1 294.3h0.9M175.1 291.4h0.9M175.9 290.6h0.9M175.1 287.7h0.9M179.0 292.7h0.9M176.9 297.3h0.9M176.4 293.5h0.9M176.6 295.0h0.9M177.2 292.9h0.9M176.2 292.8h0.9M178.2 286.9h0.9M176.4 291.0h0.9M176.1 287.1h0.9M177.6 290.0h0.9M176.2 290.8h0.9M174.2 291.0h0.9M174.0 289.7h0.9M176.1 292.1h0.9M176.6 291.7h0.9M179.5 293.2h0.9M174.8 290.6h0.9M175.6 291.6h0.9M175.7 289.9h0.9M178.9 292.2h0.9M176.1 291.5h0.9M176.2 295.6h0.9M177.2 294.9h0.9M172.2 292.9h0.9M178.0 297.0h0.9M176.6 287.8h0.9M177.4 290.6h0.9M174.0 290.5h0.9M178.0 295.1h0.9M177.6 289.5h0.9M180.1 289.2h0.9M176.4 288.5h0.9M178.4 293.2h0.9M177.8 292.3h0.9M176.5 292.5h0.9M173.9 294.6h0.9M177.8 291.1h0.9M176.5 292.8h0.9M178.8 293.2h0.9M176.6 290.8h0.9M174.5 290.6h0.9M176.7 291.5h0.9M176.7 294.0h0.9M177.2 292.8h0.9M177.5 292.6h0.9M176.5 293.3h0.9M174.1 295.2h0.9M174.8 294.2h0.9M176.6 294.9h0.9M176.6 289.8h0.9M178.1 292.6h0.9M176.7 292.3h0.9M178.0 294.2h0.9M176.9 288.2h0.9M176.0 292.4h0.9M179.1 293.1h0.9M176.4 295.1h0.9M176.4 292.1h0.9M176.8 288.4h0.9M177.9 293.2h0.9M176.2 289.3h0.9M176.9 295.6h0.9M175.7 289.5h0.9M177.2 288.1h0.9M173.5 291.0h0.9M175.6 291.4h0.9M175.8 293.0h0.9M176.3 290.6h0.9" stroke="#3a9a3a" stroke-width="0.9" opacity="0.85"/>
<path d="M156.8 304.8h0.9M166.6 299.1h0.9M156.4 288.2h0.9M151.3 304.6h0.9M156.6 295.3h0.9M168.4 295.2h0.9M154.8 304.2h0.9M154.7 300.3h0.9M160.9 297.3h0.9M148.0 305.6h0.9M155.6 298.3h0.9M164.6 292.0h0.9M171.8 295.4h0.9M152.6 305.6h0.9M165.9 294.9h0.9M150.9 306.7h0.9M168.6 287.5h0.9M162.2 298.4h0.9M157.0 300.3h0.9M158.6 305.3h0.9M160.5 295.3h0.9M166.2 290.0h0.9M163.3 298.4h0.9M167.2 296.4h0.9M165.5 296.0h0.9M165.7 297.4h0.9M171.3 289.0h0.9M167.4 296.7h0.9M158.6 298.4h0.9M158.6 294.6h0.9M151.1 309.2h0.9M151.3 312.1h0.9M157.3 302.8h0.9M160.0 301.7h0.9M156.1 301.1h0.9M159.9 304.5h0.9M168.6 299.3h0.9M160.6 298.6h0.9M148.9 310.4h0.9M163.3 295.9h0.9M166.5 300.9h0.9M161.4 303.5h0.9M157.2 294.5h0.9M154.7 301.9h0.9M160.4 296.0h0.9M153.8 300.1h0.9M158.5 301.2h0.9M166.6 298.7h0.9M160.2 300.8h0.9M159.6 300.7h0.9M163.8 286.6h0.9M158.1 302.6h0.9M163.9 292.5h0.9M162.7 301.7h0.9M151.9 297.4h0.9M153.9 299.1h0.9M161.2 295.4h0.9M170.6 293.1h0.9M152.4 303.1h0.9M152.3 307.0h0.9M168.0 293.4h0.9M162.8 293.9h0.9M165.3 306.1h0.9M151.9 310.9h0.9M162.6 290.1h0.9M147.3 304.7h0.9M164.1 295.2h0.9M159.0 303.7h0.9M159.9 301.0h0.9M158.8 305.6h0.9M156.9 309.2h0.9M154.8 300.1h0.9M163.8 299.2h0.9M146.1 310.6h0.9M148.1 304.7h0.9M162.1 294.8h0.9M160.2 298.2h0.9M171.1 291.7h0.9M148.7 303.1h0.9M152.9 305.4h0.9M160.5 303.7h0.9M159.9 300.5h0.9M160.4 299.0h0.9M162.1 301.8h0.9M162.6 295.7h0.9M145.4 306.7h0.9M155.4 292.5h0.9M156.3 304.4h0.9M152.6 300.3h0.9M172.8 296.8h0.9M159.5 305.9h0.9M164.8 291.7h0.9M174.2 285.9h0.9M154.6 299.0h0.9M156.4 296.8h0.9M160.6 304.0h0.9M159.3 299.2h0.9M166.8 291.2h0.9M164.2 295.6h0.9M159.9 300.0h0.9M159.2 300.2h0.9M152.2 302.9h0.9M161.1 298.6h0.9M149.4 304.2h0.9M153.8 303.9h0.9M159.7 300.4h0.9M154.1 304.0h0.9M143.6 298.9h0.9M154.7 296.4h0.9M149.7 301.8h0.9M160.0 294.6h0.9M159.1 298.3h0.9M147.0 302.1h0.9M162.1 299.9h0.9M167.0 302.6h0.9M160.6 300.5h0.9M157.6 301.8h0.9M154.1 300.0h0.9M167.5 286.5h0.9M160.7 301.1h0.9M157.2 297.5h0.9M155.9 300.5h0.9M151.0 305.8h0.9M154.3 301.3h0.9M160.4 294.8h0.9M159.7 297.2h0.9M161.0 299.2h0.9M157.6 297.1h0.9M151.2 302.1h0.9M160.6 302.3h0.9M164.0 294.6h0.9M155.3 296.0h0.9M141.7 308.7h0.9M150.5 299.6h0.9M147.4 310.7h0.9M149.3 299.9h0.9M173.4 290.9h0.9M157.2 304.4h0.9M156.1 309.0h0.9M145.2 304.3h0.9M155.4 299.5h0.9M163.8 290.0h0.9M153.5 305.1h0.9M163.5 301.3h0.9M164.4 305.8h0.9M155.0 303.7h0.9M162.7 296.2h0.9M154.9 301.1h0.9M151.2 300.8h0.9M151.0 299.2h0.9M157.0 294.8h0.9M174.6 296.5h0.9M164.5 295.4h0.9M156.3 307.3h0.9M159.9 301.8h0.9M155.1 307.4h0.9M152.6 305.0h0.9M145.0 307.1h0.9M160.0 297.5h0.9M156.3 305.4h0.9M159.6 305.0h0.9M142.9 313.8h0.9M157.8 294.4h0.9M150.8 309.5h0.9M149.3 304.1h0.9M160.8 297.4h0.9M158.9 296.4h0.9M161.7 302.8h0.9M155.3 293.3h0.9M161.9 298.3h0.9M154.4 309.2h0.9M149.9 314.4h0.9M156.6 308.5h0.9M154.6 297.5h0.9M158.8 301.6h0.9M163.2 301.6h0.9M152.7 306.6h0.9M161.8 297.0h0.9M149.5 302.6h0.9M164.0 299.9h0.9M149.4 301.1h0.9M162.5 291.0h0.9M157.0 298.1h0.9M146.3 309.5h0.9M159.2 306.1h0.9M172.0 290.2h0.9M166.3 299.4h0.9M152.4 301.0h0.9M167.3 292.7h0.9M156.8 300.4h0.9M155.4 300.0h0.9M164.9 301.3h0.9M152.3 298.9h0.9M154.9 296.6h0.9M155.8 307.5h0.9M173.4 291.6h0.9M152.1 308.2h0.9M141.5 309.4h0.9M168.9 296.3h0.9M145.2 302.7h0.9M163.0 297.1h0.9M154.5 305.0h0.9M149.9 298.2h0.9M161.5 295.6h0.9M148.3 301.9h0.9M157.5 297.7h0.9M161.1 297.5h0.9M163.8 295.1h0.9M149.3 298.5h0.9M151.8 308.2h0.9M174.9 283.6h0.9M151.4 306.8h0.9M159.3 297.0h0.9M154.8 296.2h0.9M157.4 305.0h0.9M167.8 293.2h0.9M156.7 303.6h0.9M165.7 297.4h0.9M153.3 305.5h0.9M162.4 294.6h0.9M149.8 308.6h0.9M161.9 302.2h0.9M156.8 298.9h0.9M152.6 300.2h0.9M150.3 303.8h0.9M156.6 306.5h0.9M149.5 306.6h0.9M156.7 308.0h0.9M158.5 298.8h0.9M163.0 297.6h0.9M157.5 307.6h0.9M165.7 302.8h0.9M166.7 298.0h0.9M156.3 297.4h0.9M162.4 298.1h0.9M162.0 298.0h0.9M151.1 301.4h0.9M164.7 301.6h0.9M156.6 303.7h0.9M165.0 292.4h0.9M153.2 299.4h0.9M165.8 296.4h0.9M151.3 298.5h0.9M158.5 304.7h0.9M154.9 301.2h0.9M159.4 294.6h0.9M159.2 302.5h0.9M150.9 302.3h0.9M159.1 299.7h0.9M156.5 302.7h0.9" stroke="#d84868" stroke-width="0.9" opacity="0.55"/>
<ellipse cx="168.5" cy="295" rx="5" ry="3.5" transform="rotate(-30 168.5 295)" fill="#cc0a2a" opacity="0.9"/>
<path d="M166.4 293.1h0.9M164.6 298.8h0.9M173.6 296.7h0.9M164.8 300.9h0.9M170.0 294.0h0.9M170.1 296.9h0.9M172.9 288.8h0.9M169.2 294.1h0.9M167.6 299.5h0.9M168.8 291.4h0.9M165.9 297.3h0.9M162.0 301.7h0.9M166.7 296.6h0.9M170.9 299.8h0.9M166.4 295.0h0.9M173.5 290.4h0.9M162.5 293.7h0.9M171.9 294.0h0.9M169.1 295.3h0.9M165.1 294.3h0.9M164.1 299.0h0.9M169.8 299.9h0.9M162.9 296.6h0.9M164.5 302.1h0.9M162.7 301.0h0.9M172.8 292.1h0.9M166.8 288.7h0.9M162.7 292.7h0.9M167.6 295.6h0.9M164.9 300.3h0.9M167.6 293.8h0.9M162.5 293.5h0.9M169.2 301.9h0.9M164.4 298.8h0.9M165.7 299.4h0.9M168.4 294.3h0.9M158.5 299.1h0.9M171.6 292.4h0.9M168.8 293.2h0.9M159.5 301.7h0.9M167.4 293.7h0.9M165.7 297.7h0.9M164.8 298.4h0.9M162.5 290.4h0.9M165.4 294.8h0.9M163.9 299.1h0.9M165.6 298.6h0.9M171.8 293.7h0.9M159.2 297.9h0.9M170.4 293.1h0.9M163.3 297.8h0.9M169.4 295.4h0.9M168.4 292.3h0.9M165.3 296.0h0.9M163.7 290.7h0.9M163.9 293.1h0.9M175.1 296.6h0.9M175.3 293.9h0.9M166.2 299.7h0.9M166.9 298.1h0.9M162.2 296.7h0.9M171.5 299.4h0.9M170.1 301.8h0.9M176.8 285.9h0.9M165.4 293.6h0.9M165.5 295.0h0.9M168.0 298.6h0.9M171.3 294.3h0.9M167.1 296.3h0.9M168.3 297.2h0.9M167.7 297.3h0.9M162.5 301.3h0.9M174.7 292.2h0.9M162.9 303.0h0.9M161.1 289.1h0.9M166.9 298.1h0.9M170.4 298.2h0.9M169.8 294.8h0.9M156.8 298.0h0.9M168.7 297.3h0.9M161.6 297.0h0.9M166.1 289.9h0.9M158.2 300.2h0.9M167.3 294.1h0.9M157.1 301.7h0.9M162.2 301.0h0.9M166.9 296.9h0.9M168.9 293.1h0.9M172.3 297.1h0.9M170.6 298.4h0.9M165.6 299.9h0.9M166.6 292.8h0.9M165.8 294.8h0.9M164.7 297.6h0.9M171.0 292.6h0.9M165.3 291.9h0.9M169.1 298.7h0.9M171.1 295.2h0.9M163.2 294.8h0.9M164.5 292.8h0.9M163.0 301.5h0.9M165.7 302.9h0.9M161.4 300.6h0.9M162.2 299.3h0.9M162.5 298.7h0.9M165.6 295.2h0.9M171.4 298.6h0.9M165.7 299.7h0.9M167.3 295.7h0.9M173.1 285.0h0.9M161.3 293.0h0.9M165.2 296.2h0.9M183.8 287.5h0.9M176.6 294.9h0.9M165.8 298.3h0.9M174.3 292.3h0.9M168.6 296.8h0.9M159.3 297.6h0.9M169.2 296.6h0.9M162.5 297.4h0.9M166.2 295.9h0.9M170.1 294.6h0.9M165.5 291.9h0.9M162.9 299.4h0.9M160.5 300.6h0.9M162.9 295.5h0.9M168.7 292.6h0.9M162.2 296.4h0.9M171.2 302.9h0.9M157.8 301.2h0.9M167.3 299.1h0.9M161.6 290.5h0.9M171.0 289.9h0.9M164.6 292.6h0.9M161.4 297.4h0.9M171.8 296.0h0.9M165.0 298.8h0.9M165.4 297.2h0.9M168.5 297.2h0.9M164.0 297.2h0.9M167.9 295.7h0.9M166.0 302.4h0.9M166.0 299.1h0.9M169.5 298.6h0.9M160.5 306.7h0.9M164.1 293.3h0.9M170.8 301.5h0.9M167.2 291.6h0.9M166.8 300.6h0.9M160.5 299.0h0.9M168.8 302.3h0.9M167.5 300.1h0.9M162.7 295.6h0.9M172.1 295.1h0.9M160.3 301.9h0.9M168.7 292.8h0.9M168.2 296.1h0.9M163.9 295.7h0.9M163.5 297.0h0.9M161.0 299.2h0.9M160.5 299.9h0.9M164.9 293.5h0.9M173.4 298.9h0.9M170.5 289.2h0.9M172.6 293.4h0.9M165.7 294.6h0.9M168.8 299.6h0.9M168.5 293.6h0.9M163.3 296.6h0.9M172.1 299.4h0.9M162.3 298.6h0.9M164.0 295.0h0.9M169.3 296.4h0.9M159.2 296.8h0.9M172.4 293.9h0.9M168.3 293.4h0.9M165.8 298.1h0.9M163.0 294.4h0.9M168.1 298.3h0.9M163.9 301.3h0.9M168.5 292.0h0.9M166.8 295.9h0.9M170.5 296.1h0.9M159.2 295.8h0.9M171.4 293.7h0.9M169.1 295.8h0.9M171.6 289.1h0.9M170.3 291.2h0.9M171.9 297.6h0.9M161.5 300.5h0.9M165.2 295.9h0.9M165.4 293.2h0.9M163.6 300.1h0.9M169.6 292.4h0.9M164.0 305.5h0.9M172.0 294.2h0.9M161.5 297.0h0.9M166.4 292.9h0.9M173.9 292.4h0.9M167.0 292.4h0.9" stroke="#cc0a2a" stroke-width="0.9" opacity="0.8"/>
<path d="M169.3 281.5h0.9M171.4 282.2h0.9M170.4 283.0h0.9M171.3 284.6h0.9M170.6 281.2h0.9M170.9 284.6h0.9M170.0 282.6h0.9M170.3 283.1h0.9M171.4 281.4h0.9M170.5 283.9h0.9M172.9 283.8h0.9M172.5 282.1h0.9M170.3 283.8h0.9M168.9 282.5h0.9M167.7 282.0h0.9M169.7 280.9h0.9M172.0 281.5h0.9M170.3 282.2h0.9M169.6 284.5h0.9M170.1 282.8h0.9M168.6 281.9h0.9M170.4 282.1h0.9M169.9 282.8h0.9M173.7 282.4h0.9M170.7 282.0h0.9M175.4 284.8h0.9M171.9 283.5h0.9M169.7 282.3h0.9M171.3 282.7h0.9M169.4 281.5h0.9M171.9 283.0h0.9M167.2 282.7h0.9M173.2 281.7h0.9M171.4 280.6h0.9M172.4 281.0h0.9M168.7 282.1h0.9M175.1 281.7h0.9M168.7 283.2h0.9M171.3 284.8h0.9M168.7 280.4h0.9M170.4 283.1h0.9M171.6 284.0h0.9M168.3 281.4h0.9M170.7 283.7h0.9M171.8 282.0h0.9M169.1 283.8h0.9M172.6 286.3h0.9M170.6 284.8h0.9M168.8 281.8h0.9M169.8 281.9h0.9M169.4 281.8h0.9M170.9 281.9h0.9M172.1 282.4h0.9M170.9 284.6h0.9M171.5 282.8h0.9M170.9 282.6h0.9M172.0 281.5h0.9M173.0 284.7h0.9M173.0 281.9h0.9M168.1 282.0h0.9M171.2 283.7h0.9M170.6 282.1h0.9M173.6 281.6h0.9M172.8 283.8h0.9M168.6 282.9h0.9M170.0 281.3h0.9M167.7 280.4h0.9M171.7 282.0h0.9M171.4 281.1h0.9M170.4 282.2h0.9M168.2 280.3h0.9M171.7 282.8h0.9M169.3 282.4h0.9M172.1 285.1h0.9M169.4 283.4h0.9M174.7 282.6h0.9M173.5 279.0h0.9M173.5 282.5h0.9M167.6 283.6h0.9M172.8 284.2h0.9" stroke="#222" stroke-width="0.9" opacity="0.9"/>
<line x1="173.30" y1="263.10" x2="173.30" y2="323.10" stroke="#c8707e" stroke-width="0.7"/>
<line x1="134.60" y1="287.00" x2="195.60" y2="287.00" stroke="#d06878" stroke-width="0.8"/>
<text x="137.00" y="269.40" font-size="5.9" fill="#d23c64" textLength="19.12" lengthAdjust="spacingAndGlyphs">Q3-UL</text>
<text x="137.00" y="276.70" font-size="5.9" fill="#d23c64" textLength="14.79" lengthAdjust="spacingAndGlyphs">8.9%</text>
<text x="194.00" y="269.40" font-size="5.9" text-anchor="end" fill="#d23c64" textLength="20.19" lengthAdjust="spacingAndGlyphs">Q3-UR</text>
<text x="194.00" y="276.70" font-size="5.9" text-anchor="end" fill="#d23c64" textLength="18.4" lengthAdjust="spacingAndGlyphs">25.4%</text>
<text x="137.80" y="313.60" font-size="5.9" fill="#d23c64" textLength="18.04" lengthAdjust="spacingAndGlyphs">Q3-LL</text>
<text x="137.80" y="320.50" font-size="5.9" fill="#d23c64" textLength="18.4" lengthAdjust="spacingAndGlyphs">51.7%</text>
<text x="194.00" y="313.60" font-size="5.9" text-anchor="end" fill="#d23c64" textLength="19.12" lengthAdjust="spacingAndGlyphs">Q3-LR</text>
<text x="194.00" y="320.50" font-size="5.9" text-anchor="end" fill="#d23c64" textLength="18.4" lengthAdjust="spacingAndGlyphs">13.9%</text>
<line x1="134.20" y1="263.70" x2="134.20" y2="323.10" stroke="#111" stroke-width="1.6" stroke-dasharray="2.4,1.4"/>
<line x1="134.60" y1="323.40" x2="195.60" y2="323.40" stroke="#111" stroke-width="1.2"/>
<line x1="135.60" y1="324.30" x2="195.60" y2="324.30" stroke="#111" stroke-width="1.2" stroke-dasharray="1.6,0.9"/>
<text x="130.20" y="265.70" font-size="5.8" text-anchor="end" fill="#333">10<tspan font-size="3.7" dy="-2.4">12</tspan></text>
<text x="130.20" y="274.15" font-size="5.8" text-anchor="end" fill="#333">10<tspan font-size="3.7" dy="-2.4">8</tspan></text>
<text x="130.20" y="282.60" font-size="5.8" text-anchor="end" fill="#333">10<tspan font-size="3.7" dy="-2.4">5</tspan></text>
<text x="130.20" y="291.05" font-size="5.8" text-anchor="end" fill="#333">10<tspan font-size="3.7" dy="-2.4">4</tspan></text>
<text x="130.20" y="299.50" font-size="5.8" text-anchor="end" fill="#333">10<tspan font-size="3.7" dy="-2.4">3</tspan></text>
<text x="130.20" y="307.95" font-size="5.8" text-anchor="end" fill="#333">10<tspan font-size="3.7" dy="-2.4">2</tspan></text>
<text x="130.20" y="316.40" font-size="5.8" text-anchor="end" fill="#333">10<tspan font-size="3.7" dy="-2.4">1</tspan></text>
<text x="130.20" y="324.85" font-size="5.8" text-anchor="end" fill="#333">10<tspan font-size="3.7" dy="-2.4">0</tspan></text>
<text x="139.10" y="330.60" font-size="5.7" text-anchor="end" fill="#333" transform="rotate(-45 139.10 330.60)">10<tspan font-size="3.7" dy="-2.4">0</tspan></text>
<text x="147.65" y="330.60" font-size="5.7" text-anchor="end" fill="#333" transform="rotate(-45 147.65 330.60)">10<tspan font-size="3.7" dy="-2.4">1</tspan></text>
<text x="156.20" y="330.60" font-size="5.7" text-anchor="end" fill="#333" transform="rotate(-45 156.20 330.60)">10<tspan font-size="3.7" dy="-2.4">2</tspan></text>
<text x="164.75" y="330.60" font-size="5.7" text-anchor="end" fill="#333" transform="rotate(-45 164.75 330.60)">10<tspan font-size="3.7" dy="-2.4">3</tspan></text>
<text x="173.30" y="330.60" font-size="5.7" text-anchor="end" fill="#333" transform="rotate(-45 173.30 330.60)">10<tspan font-size="3.7" dy="-2.4">4</tspan></text>
<text x="181.85" y="330.60" font-size="5.7" text-anchor="end" fill="#333" transform="rotate(-45 181.85 330.60)">10<tspan font-size="3.7" dy="-2.4">5</tspan></text>
<text x="190.40" y="330.60" font-size="5.7" text-anchor="end" fill="#333" transform="rotate(-45 190.40 330.60)">10<tspan font-size="3.7" dy="-2.4">6</tspan></text>
<text x="198.95" y="330.60" font-size="5.7" text-anchor="end" fill="#333" transform="rotate(-45 198.95 330.60)">10<tspan font-size="3.7" dy="-2.4">12</tspan></text>
<text x="112.00" y="294.60" font-size="7.2" text-anchor="middle" fill="#2a2a2a" font-weight="bold" textLength="19" lengthAdjust="spacingAndGlyphs" transform="rotate(-90 112.00 294.60)">7AAD-A</text>
<text x="165.70" y="347.10" font-size="7.4" text-anchor="middle" fill="#2a2a2a" font-weight="bold" textLength="31" lengthAdjust="spacingAndGlyphs">Annexin V-H</text>
<line x1="229.40" y1="20.80" x2="229.40" y2="85.60" stroke="#111" stroke-width="1.1"/>
<line x1="226.80" y1="85.00" x2="229.40" y2="85.00" stroke="#111" stroke-width="0.9"/>
<text x="224.20" y="87.38" font-size="6.6" text-anchor="end" fill="#252525">0</text>
<line x1="226.80" y1="69.55" x2="229.40" y2="69.55" stroke="#111" stroke-width="0.9"/>
<text x="224.20" y="71.93" font-size="6.6" text-anchor="end" fill="#252525">10</text>
<line x1="226.80" y1="54.10" x2="229.40" y2="54.10" stroke="#111" stroke-width="0.9"/>
<text x="224.20" y="56.48" font-size="6.6" text-anchor="end" fill="#252525">20</text>
<line x1="226.80" y1="38.65" x2="229.40" y2="38.65" stroke="#111" stroke-width="0.9"/>
<text x="224.20" y="41.03" font-size="6.6" text-anchor="end" fill="#252525">30</text>
<line x1="226.80" y1="23.20" x2="229.40" y2="23.20" stroke="#111" stroke-width="0.9"/>
<text x="224.20" y="25.58" font-size="6.6" text-anchor="end" fill="#252525">40</text>
<line x1="229.40" y1="85.00" x2="270.80" y2="85.00" stroke="#111" stroke-width="1.3"/>
<rect x="236.10" y="69.86" width="10.70" height="15.14" fill="#154b8c"/>
<line x1="241.45" y1="64.14" x2="241.45" y2="69.86" stroke="#5a5048" stroke-width="0.7"/>
<line x1="238.24" y1="64.14" x2="244.66" y2="64.14" stroke="#5a5048" stroke-width="0.8"/>
<rect x="253.50" y="36.33" width="10.70" height="48.67" fill="#cc0a2a"/>
<line x1="258.85" y1="29.38" x2="258.85" y2="36.33" stroke="#5a5048" stroke-width="0.7"/>
<line x1="255.64" y1="29.38" x2="262.06" y2="29.38" stroke="#5a5048" stroke-width="0.8"/>
<line x1="241.45" y1="85.00" x2="241.45" y2="87.60" stroke="#111" stroke-width="0.8"/>
<line x1="258.85" y1="85.00" x2="258.85" y2="87.60" stroke="#111" stroke-width="0.8"/>
<text x="250.20" y="15.60" font-size="8.8" text-anchor="middle">Hut</text>
<text x="210.60" y="53.40" font-size="7.0" text-anchor="middle" fill="#1a1a1a" textLength="51.5" lengthAdjust="spacingAndGlyphs" transform="rotate(-90 210.60 53.40)" stroke="#1a1a1a" stroke-width="0.3">% Annexin V positive</text>
<path d="M241.40 27.00V24.20H259.00V27.00" fill="none" stroke="#333" stroke-width="0.7"/>
<text x="250.20" y="24.40" font-size="7" text-anchor="middle" fill="#333">***</text>
<g transform="translate(243.70 92.70) rotate(-45)">
<text x="0" y="0.00" font-size="6.3" text-anchor="end" fill="#333">DMSO</text>
</g>
<g transform="translate(260.70 92.70) rotate(-45)">
<text x="0" y="0.00" font-size="6.3" text-anchor="end" fill="#333">LY500307</text>
<text x="0" y="8.00" font-size="6.3" text-anchor="end" fill="#333">(10&#181;M)</text>
</g>
<line x1="229.20" y1="136.90" x2="229.20" y2="201.70" stroke="#111" stroke-width="1.1"/>
<line x1="226.60" y1="201.10" x2="229.20" y2="201.10" stroke="#111" stroke-width="0.9"/>
<text x="224.00" y="203.48" font-size="6.6" text-anchor="end" fill="#252525">0</text>
<line x1="226.60" y1="180.46" x2="229.20" y2="180.46" stroke="#111" stroke-width="0.9"/>
<text x="224.00" y="182.84" font-size="6.6" text-anchor="end" fill="#252525">20</text>
<line x1="226.60" y1="159.82" x2="229.20" y2="159.82" stroke="#111" stroke-width="0.9"/>
<text x="224.00" y="162.20" font-size="6.6" text-anchor="end" fill="#252525">40</text>
<line x1="226.60" y1="139.18" x2="229.20" y2="139.18" stroke="#111" stroke-width="0.9"/>
<text x="224.00" y="141.56" font-size="6.6" text-anchor="end" fill="#252525">60</text>
<line x1="229.20" y1="201.10" x2="270.80" y2="201.10" stroke="#111" stroke-width="1.3"/>
<rect x="235.90" y="191.81" width="10.70" height="9.29" fill="#154b8c"/>
<line x1="241.25" y1="186.55" x2="241.25" y2="191.81" stroke="#5a5048" stroke-width="0.7"/>
<line x1="238.04" y1="186.55" x2="244.46" y2="186.55" stroke="#5a5048" stroke-width="0.8"/>
<rect x="253.30" y="165.70" width="10.70" height="35.40" fill="#cc0a2a"/>
<line x1="258.65" y1="146.51" x2="258.65" y2="165.70" stroke="#5a5048" stroke-width="0.7"/>
<line x1="255.44" y1="146.51" x2="261.86" y2="146.51" stroke="#5a5048" stroke-width="0.8"/>
<line x1="241.25" y1="201.10" x2="241.25" y2="203.70" stroke="#111" stroke-width="0.8"/>
<line x1="258.65" y1="201.10" x2="258.65" y2="203.70" stroke="#111" stroke-width="0.8"/>
<text x="250.00" y="132.30" font-size="8.8" text-anchor="middle">MyLa</text>
<text x="210.40" y="169.50" font-size="7.0" text-anchor="middle" fill="#1a1a1a" textLength="51.5" lengthAdjust="spacingAndGlyphs" transform="rotate(-90 210.40 169.50)" stroke="#1a1a1a" stroke-width="0.3">% Annexin V positive</text>
<path d="M241.20 144.30V141.50H258.80V144.30" fill="none" stroke="#333" stroke-width="0.7"/>
<text x="250.00" y="141.70" font-size="7" text-anchor="middle" fill="#333">*</text>
<g transform="translate(243.50 208.80) rotate(-45)">
<text x="0" y="0.00" font-size="6.3" text-anchor="end" fill="#333">DMSO</text>
</g>
<g transform="translate(260.50 208.80) rotate(-45)">
<text x="0" y="0.00" font-size="6.3" text-anchor="end" fill="#333">LY500307</text>
<text x="0" y="8.00" font-size="6.3" text-anchor="end" fill="#333">(10&#181;M)</text>
</g>
<line x1="229.20" y1="251.20" x2="229.20" y2="315.90" stroke="#111" stroke-width="1.1"/>
<line x1="226.60" y1="315.30" x2="229.20" y2="315.30" stroke="#111" stroke-width="0.9"/>
<text x="224.00" y="317.68" font-size="6.6" text-anchor="end" fill="#252525">0</text>
<line x1="226.60" y1="299.85" x2="229.20" y2="299.85" stroke="#111" stroke-width="0.9"/>
<text x="224.00" y="302.23" font-size="6.6" text-anchor="end" fill="#252525">20</text>
<line x1="226.60" y1="284.40" x2="229.20" y2="284.40" stroke="#111" stroke-width="0.9"/>
<text x="224.00" y="286.78" font-size="6.6" text-anchor="end" fill="#252525">40</text>
<line x1="226.60" y1="268.95" x2="229.20" y2="268.95" stroke="#111" stroke-width="0.9"/>
<text x="224.00" y="271.33" font-size="6.6" text-anchor="end" fill="#252525">60</text>
<line x1="226.60" y1="253.50" x2="229.20" y2="253.50" stroke="#111" stroke-width="0.9"/>
<text x="224.00" y="255.88" font-size="6.6" text-anchor="end" fill="#252525">80</text>
<line x1="229.20" y1="315.30" x2="270.80" y2="315.30" stroke="#111" stroke-width="1.3"/>
<rect x="235.90" y="306.11" width="10.70" height="9.19" fill="#154b8c"/>
<line x1="241.25" y1="300.39" x2="241.25" y2="306.11" stroke="#5a5048" stroke-width="0.7"/>
<line x1="238.04" y1="300.39" x2="244.46" y2="300.39" stroke="#5a5048" stroke-width="0.8"/>
<rect x="253.30" y="287.03" width="10.70" height="28.27" fill="#cc0a2a"/>
<line x1="258.65" y1="268.80" x2="258.65" y2="287.03" stroke="#5a5048" stroke-width="0.7"/>
<line x1="255.44" y1="268.80" x2="261.86" y2="268.80" stroke="#5a5048" stroke-width="0.8"/>
<line x1="241.25" y1="315.30" x2="241.25" y2="317.90" stroke="#111" stroke-width="0.8"/>
<line x1="258.65" y1="315.30" x2="258.65" y2="317.90" stroke="#111" stroke-width="0.8"/>
<text x="250.00" y="246.50" font-size="8.8" text-anchor="middle">SeAx</text>
<text x="210.10" y="283.75" font-size="7.0" text-anchor="middle" fill="#1a1a1a" textLength="51.5" lengthAdjust="spacingAndGlyphs" transform="rotate(-90 210.10 283.75)" stroke="#1a1a1a" stroke-width="0.3">% Annexin V positive</text>
<path d="M241.20 260.60V257.80H258.80V260.60" fill="none" stroke="#333" stroke-width="0.7"/>
<text x="250.00" y="258.00" font-size="7" text-anchor="middle" fill="#333">*</text>
<g transform="translate(243.50 323.00) rotate(-45)">
<text x="0" y="0.00" font-size="6.3" text-anchor="end" fill="#333">DMSO</text>
</g>
<g transform="translate(260.50 323.00) rotate(-45)">
<text x="0" y="0.00" font-size="6.3" text-anchor="end" fill="#333">LY500307</text>
<text x="0" y="8.00" font-size="6.3" text-anchor="end" fill="#333">(10&#181;M)</text>
</g>
<line x1="317.50" y1="21.40" x2="317.50" y2="85.50" stroke="#111" stroke-width="1.1"/>
<line x1="314.90" y1="84.90" x2="317.50" y2="84.90" stroke="#111" stroke-width="0.9"/>
<text x="311.60" y="87.24" font-size="6.5" text-anchor="end" fill="#252525">0</text>
<line x1="314.90" y1="72.55" x2="317.50" y2="72.55" stroke="#111" stroke-width="0.9"/>
<text x="311.60" y="74.89" font-size="6.5" text-anchor="end" fill="#252525">1</text>
<line x1="314.90" y1="60.20" x2="317.50" y2="60.20" stroke="#111" stroke-width="0.9"/>
<text x="311.60" y="62.54" font-size="6.5" text-anchor="end" fill="#252525">2</text>
<line x1="314.90" y1="47.85" x2="317.50" y2="47.85" stroke="#111" stroke-width="0.9"/>
<text x="311.60" y="50.19" font-size="6.5" text-anchor="end" fill="#252525">3</text>
<line x1="314.90" y1="35.50" x2="317.50" y2="35.50" stroke="#111" stroke-width="0.9"/>
<text x="311.60" y="37.84" font-size="6.5" text-anchor="end" fill="#252525">4</text>
<line x1="314.90" y1="23.15" x2="317.50" y2="23.15" stroke="#111" stroke-width="0.9"/>
<text x="311.60" y="25.49" font-size="6.5" text-anchor="end" fill="#252525">5</text>
<line x1="317.50" y1="84.90" x2="358.70" y2="84.90" stroke="#111" stroke-width="1.3"/>
<rect x="324.10" y="73.29" width="10.90" height="11.61" fill="#154b8c"/>
<line x1="329.55" y1="72.67" x2="329.55" y2="73.29" stroke="#5a5048" stroke-width="0.7"/>
<line x1="326.28" y1="72.67" x2="332.82" y2="72.67" stroke="#5a5048" stroke-width="0.8"/>
<rect x="341.40" y="45.38" width="10.90" height="39.52" fill="#cc0a2a"/>
<line x1="346.85" y1="31.80" x2="346.85" y2="45.38" stroke="#5a5048" stroke-width="0.7"/>
<line x1="343.58" y1="31.80" x2="350.12" y2="31.80" stroke="#5a5048" stroke-width="0.8"/>
<line x1="329.55" y1="84.90" x2="329.55" y2="87.50" stroke="#111" stroke-width="0.8"/>
<line x1="346.85" y1="84.90" x2="346.85" y2="87.50" stroke="#111" stroke-width="0.8"/>
<text x="338.00" y="15.70" font-size="8.8" text-anchor="middle">Hut</text>
<text x="292.40" y="53.65" font-size="7.0" text-anchor="middle" fill="#1a1a1a" textLength="42" lengthAdjust="spacingAndGlyphs" transform="rotate(-90 292.40 53.65)" stroke="#1a1a1a" stroke-width="0.25">Relative caspase</text>
<text x="303.10" y="53.65" font-size="7.0" text-anchor="middle" fill="#1a1a1a" textLength="29.5" lengthAdjust="spacingAndGlyphs" transform="rotate(-90 303.10 53.65)" stroke="#1a1a1a" stroke-width="0.25">3/7 activity</text>
<path d="M328.40 25.60V24.40H347.60V25.60" fill="none" stroke="#333" stroke-width="0.7"/>
<text x="338.00" y="24.20" font-size="6.5" text-anchor="middle" fill="#333">****</text>
<g transform="translate(331.85 92.60) rotate(-45)">
<text x="0" y="0.00" font-size="6.3" text-anchor="end" fill="#333">DMSO</text>
</g>
<g transform="translate(348.65 92.60) rotate(-45)">
<text x="0" y="0.00" font-size="6.3" text-anchor="end" fill="#333">LY500307</text>
</g>
<line x1="396.30" y1="20.90" x2="396.30" y2="85.50" stroke="#111" stroke-width="1.1"/>
<line x1="393.70" y1="84.90" x2="396.30" y2="84.90" stroke="#111" stroke-width="0.9"/>
<text x="390.40" y="87.24" font-size="6.5" text-anchor="end" fill="#252525">0</text>
<line x1="393.70" y1="69.50" x2="396.30" y2="69.50" stroke="#111" stroke-width="0.9"/>
<text x="390.40" y="71.84" font-size="6.5" text-anchor="end" fill="#252525">1</text>
<line x1="393.70" y1="54.10" x2="396.30" y2="54.10" stroke="#111" stroke-width="0.9"/>
<text x="390.40" y="56.44" font-size="6.5" text-anchor="end" fill="#252525">2</text>
<line x1="393.70" y1="38.70" x2="396.30" y2="38.70" stroke="#111" stroke-width="0.9"/>
<text x="390.40" y="41.04" font-size="6.5" text-anchor="end" fill="#252525">3</text>
<line x1="393.70" y1="23.30" x2="396.30" y2="23.30" stroke="#111" stroke-width="0.9"/>
<text x="390.40" y="25.64" font-size="6.5" text-anchor="end" fill="#252525">4</text>
<line x1="396.30" y1="84.90" x2="437.00" y2="84.90" stroke="#111" stroke-width="1.3"/>
<rect x="402.90" y="69.50" width="10.40" height="15.40" fill="#154b8c"/>
<line x1="408.10" y1="67.19" x2="408.10" y2="69.50" stroke="#5a5048" stroke-width="0.7"/>
<line x1="404.98" y1="67.19" x2="411.22" y2="67.19" stroke="#5a5048" stroke-width="0.8"/>
<rect x="420.20" y="47.94" width="10.70" height="36.96" fill="#cc0a2a"/>
<line x1="425.55" y1="27.92" x2="425.55" y2="47.94" stroke="#5a5048" stroke-width="0.7"/>
<line x1="422.34" y1="27.92" x2="428.76" y2="27.92" stroke="#5a5048" stroke-width="0.8"/>
<line x1="408.10" y1="84.90" x2="408.10" y2="87.50" stroke="#111" stroke-width="0.8"/>
<line x1="425.55" y1="84.90" x2="425.55" y2="87.50" stroke="#111" stroke-width="0.8"/>
<text x="417.00" y="15.70" font-size="8.8" text-anchor="middle">MyLa</text>
<text x="371.50" y="53.40" font-size="7.0" text-anchor="middle" fill="#1a1a1a" textLength="42" lengthAdjust="spacingAndGlyphs" transform="rotate(-90 371.50 53.40)" stroke="#1a1a1a" stroke-width="0.25">Relative caspase</text>
<text x="382.40" y="53.40" font-size="7.0" text-anchor="middle" fill="#1a1a1a" textLength="29.5" lengthAdjust="spacingAndGlyphs" transform="rotate(-90 382.40 53.40)" stroke="#1a1a1a" stroke-width="0.25">3/7 activity</text>
<path d="M407.20 25.60V24.40H426.20V25.60" fill="none" stroke="#333" stroke-width="0.7"/>
<text x="416.70" y="24.20" font-size="6.5" text-anchor="middle" fill="#333">****</text>
<g transform="translate(410.40 92.60) rotate(-45)">
<text x="0" y="0.00" font-size="6.3" text-anchor="end" fill="#333">DMSO</text>
</g>
<g transform="translate(427.35 92.60) rotate(-45)">
<text x="0" y="0.00" font-size="6.3" text-anchor="end" fill="#333">LY500307</text>
</g>
<line x1="359.40" y1="138.20" x2="359.40" y2="203.10" stroke="#111" stroke-width="1.1"/>
<line x1="356.80" y1="202.50" x2="359.40" y2="202.50" stroke="#111" stroke-width="0.9"/>
<text x="353.50" y="204.84" font-size="6.5" text-anchor="end" fill="#252525">0.0</text>
<line x1="356.80" y1="187.07" x2="359.40" y2="187.07" stroke="#111" stroke-width="0.9"/>
<text x="353.50" y="189.41" font-size="6.5" text-anchor="end" fill="#252525">0.5</text>
<line x1="356.80" y1="171.65" x2="359.40" y2="171.65" stroke="#111" stroke-width="0.9"/>
<text x="353.50" y="173.99" font-size="6.5" text-anchor="end" fill="#252525">1.0</text>
<line x1="356.80" y1="156.22" x2="359.40" y2="156.22" stroke="#111" stroke-width="0.9"/>
<text x="353.50" y="158.56" font-size="6.5" text-anchor="end" fill="#252525">1.5</text>
<line x1="356.80" y1="140.80" x2="359.40" y2="140.80" stroke="#111" stroke-width="0.9"/>
<text x="353.50" y="143.14" font-size="6.5" text-anchor="end" fill="#252525">2.0</text>
<line x1="359.40" y1="202.50" x2="401.30" y2="202.50" stroke="#111" stroke-width="1.3"/>
<rect x="366.40" y="171.65" width="10.30" height="30.85" fill="#154b8c"/>
<line x1="371.55" y1="163.32" x2="371.55" y2="171.65" stroke="#5a5048" stroke-width="0.7"/>
<line x1="368.46" y1="163.32" x2="374.64" y2="163.32" stroke="#5a5048" stroke-width="0.8"/>
<rect x="383.70" y="160.85" width="10.30" height="41.65" fill="#cc0a2a"/>
<line x1="388.85" y1="155.61" x2="388.85" y2="160.85" stroke="#5a5048" stroke-width="0.7"/>
<line x1="385.76" y1="155.61" x2="391.94" y2="155.61" stroke="#5a5048" stroke-width="0.8"/>
<line x1="371.55" y1="202.50" x2="371.55" y2="205.10" stroke="#111" stroke-width="0.8"/>
<line x1="388.85" y1="202.50" x2="388.85" y2="205.10" stroke="#111" stroke-width="0.8"/>
<text x="380.00" y="133.00" font-size="8.8" text-anchor="middle">SeAx</text>
<text x="328.90" y="170.85" font-size="7.0" text-anchor="middle" fill="#1a1a1a" textLength="42" lengthAdjust="spacingAndGlyphs" transform="rotate(-90 328.90 170.85)" stroke="#1a1a1a" stroke-width="0.25">Relative caspase</text>
<text x="339.30" y="170.85" font-size="7.0" text-anchor="middle" fill="#1a1a1a" textLength="29.5" lengthAdjust="spacingAndGlyphs" transform="rotate(-90 339.30 170.85)" stroke="#1a1a1a" stroke-width="0.25">3/7 activity</text>
<path d="M370.70 143.20V142.00H389.30V143.20" fill="none" stroke="#333" stroke-width="0.7"/>
<text x="380.00" y="141.80" font-size="6.5" text-anchor="middle" fill="#333">**</text>
<g transform="translate(373.85 210.20) rotate(-45)">
<text x="0" y="0.00" font-size="6.3" text-anchor="end" fill="#333">DMSO</text>
</g>
<g transform="translate(390.65 210.20) rotate(-45)">
<text x="0" y="0.00" font-size="6.3" text-anchor="end" fill="#333">LY500307</text>
</g>
<defs><filter id="bl" x="-20%" y="-50%" width="140%" height="200%"><feGaussianBlur stdDeviation="0.55"/></filter></defs>
<text x="308.20" y="294.00" font-size="6.6" text-anchor="end" fill="#2a2a2a" textLength="12.8" lengthAdjust="spacingAndGlyphs">XIAP</text>
<text x="308.20" y="305.10" font-size="6.6" text-anchor="end" fill="#2a2a2a" textLength="16" lengthAdjust="spacingAndGlyphs">cIAP1</text>
<text x="308.20" y="315.80" font-size="6.6" text-anchor="end" fill="#2a2a2a" textLength="16" lengthAdjust="spacingAndGlyphs">pP65</text>
<text x="308.20" y="326.85" font-size="6.6" text-anchor="end" fill="#2a2a2a" textLength="16.2" lengthAdjust="spacingAndGlyphs">PARP</text>
<text x="308.20" y="337.95" font-size="6.6" text-anchor="end" fill="#2a2a2a" textLength="11" lengthAdjust="spacingAndGlyphs">p53</text>
<text x="308.20" y="348.80" font-size="6.6" text-anchor="end" fill="#2a2a2a" textLength="22" lengthAdjust="spacingAndGlyphs">GAPDH</text>
<text x="308.00" y="263.60" font-size="6.2" text-anchor="end" fill="#2a2a2a">ctr.</text>
<text x="308.00" y="273.30" font-size="6.2" text-anchor="end" fill="#2a2a2a">Ly</text>
<text x="333.50" y="253.20" font-size="8.6" text-anchor="middle">HuT</text>
<line x1="311.70" y1="261.50" x2="315.30" y2="261.50" stroke="#2a2a2a" stroke-width="0.85"/>
<line x1="313.50" y1="259.70" x2="313.50" y2="263.30" stroke="#2a2a2a" stroke-width="0.85"/>
<line x1="320.20" y1="261.50" x2="323.80" y2="261.50" stroke="#2a2a2a" stroke-width="0.8"/>
<line x1="327.20" y1="261.50" x2="330.80" y2="261.50" stroke="#2a2a2a" stroke-width="0.85"/>
<line x1="329.00" y1="259.70" x2="329.00" y2="263.30" stroke="#2a2a2a" stroke-width="0.85"/>
<line x1="337.20" y1="261.50" x2="340.80" y2="261.50" stroke="#2a2a2a" stroke-width="0.8"/>
<line x1="344.70" y1="261.50" x2="348.30" y2="261.50" stroke="#2a2a2a" stroke-width="0.85"/>
<line x1="346.50" y1="259.70" x2="346.50" y2="263.30" stroke="#2a2a2a" stroke-width="0.85"/>
<line x1="353.40" y1="261.50" x2="357.00" y2="261.50" stroke="#2a2a2a" stroke-width="0.8"/>
<line x1="311.70" y1="271.20" x2="315.30" y2="271.20" stroke="#2a2a2a" stroke-width="0.8"/>
<line x1="320.20" y1="271.20" x2="323.80" y2="271.20" stroke="#2a2a2a" stroke-width="0.85"/>
<line x1="322.00" y1="269.40" x2="322.00" y2="273.00" stroke="#2a2a2a" stroke-width="0.85"/>
<line x1="327.20" y1="271.20" x2="330.80" y2="271.20" stroke="#2a2a2a" stroke-width="0.8"/>
<line x1="337.20" y1="271.20" x2="340.80" y2="271.20" stroke="#2a2a2a" stroke-width="0.85"/>
<line x1="339.00" y1="269.40" x2="339.00" y2="273.00" stroke="#2a2a2a" stroke-width="0.85"/>
<line x1="344.70" y1="271.20" x2="348.30" y2="271.20" stroke="#2a2a2a" stroke-width="0.8"/>
<line x1="353.40" y1="271.20" x2="357.00" y2="271.20" stroke="#2a2a2a" stroke-width="0.85"/>
<line x1="355.20" y1="269.40" x2="355.20" y2="273.00" stroke="#2a2a2a" stroke-width="0.85"/>
<text x="317.70" y="282.40" font-size="7.2" text-anchor="middle" fill="#2a2a2a">6h</text>
<line x1="311.00" y1="284.50" x2="324.70" y2="284.50" stroke="#8a8a8a" stroke-width="1.2"/>
<text x="332.60" y="282.40" font-size="7.2" text-anchor="middle" fill="#2a2a2a">24h</text>
<line x1="325.70" y1="284.50" x2="340.00" y2="284.50" stroke="#8a8a8a" stroke-width="1.2"/>
<text x="348.50" y="282.40" font-size="7.2" text-anchor="middle" fill="#2a2a2a">48h</text>
<line x1="341.80" y1="284.50" x2="355.60" y2="284.50" stroke="#8a8a8a" stroke-width="1.2"/>
<rect x="310.80" y="286.80" width="46.80" height="9.60" fill="#dadada"/>
<g filter="url(#bl)">
<ellipse cx="314.40" cy="291.00" rx="3.2" ry="1.2" fill="#0a0a0a" opacity="0.85"/>
<ellipse cx="322.15" cy="291.00" rx="3.2" ry="1.2" fill="#0a0a0a" opacity="0.95"/>
<ellipse cx="329.90" cy="291.00" rx="3.2" ry="1.2" fill="#0a0a0a" opacity="0.80"/>
<ellipse cx="337.65" cy="291.00" rx="3.2" ry="1.2" fill="#0a0a0a" opacity="0.30"/>
<ellipse cx="345.40" cy="291.00" rx="3.2" ry="1.2" fill="#0a0a0a" opacity="0.70"/>
<ellipse cx="353.15" cy="291.00" rx="3.2" ry="1.2" fill="#0a0a0a" opacity="0.08"/>
</g>
<rect x="310.80" y="298.60" width="46.80" height="8.20" fill="#d8d8d8"/>
<g filter="url(#bl)">
<ellipse cx="314.40" cy="302.70" rx="3.2" ry="1.1" fill="#0a0a0a" opacity="0.90"/>
<ellipse cx="322.15" cy="302.70" rx="3.2" ry="1.1" fill="#0a0a0a" opacity="0.80"/>
<ellipse cx="329.90" cy="302.70" rx="3.2" ry="1.1" fill="#0a0a0a" opacity="0.90"/>
<ellipse cx="337.65" cy="302.70" rx="3.2" ry="1.1" fill="#0a0a0a" opacity="0.35"/>
<ellipse cx="345.40" cy="302.70" rx="3.2" ry="1.1" fill="#0a0a0a" opacity="0.95"/>
<ellipse cx="353.15" cy="302.70" rx="3.2" ry="1.1" fill="#0a0a0a" opacity="0.40"/>
</g>
<rect x="310.80" y="309.30" width="46.80" height="8.20" fill="#dadada"/>
<g filter="url(#bl)">
<ellipse cx="314.40" cy="313.40" rx="3.0" ry="1.1" fill="#0a0a0a" opacity="0.80"/>
<ellipse cx="322.15" cy="313.40" rx="3.0" ry="1.1" fill="#0a0a0a" opacity="0.60"/>
<ellipse cx="329.90" cy="313.40" rx="3.0" ry="1.1" fill="#0a0a0a" opacity="0.65"/>
<ellipse cx="337.65" cy="313.40" rx="3.0" ry="1.1" fill="#0a0a0a" opacity="0.50"/>
<ellipse cx="345.40" cy="313.40" rx="3.0" ry="1.1" fill="#0a0a0a" opacity="0.95"/>
<ellipse cx="353.15" cy="313.40" rx="3.0" ry="1.1" fill="#0a0a0a" opacity="0.15"/>
</g>
<rect x="310.80" y="319.60" width="46.80" height="9.70" fill="#d6d6d6"/>
<g filter="url(#bl)">
<ellipse cx="314.40" cy="323.15" rx="3.4" ry="1.1" fill="#0a0a0a" opacity="0.60"/>
<ellipse cx="322.15" cy="323.15" rx="3.4" ry="1.1" fill="#0a0a0a" opacity="0.80"/>
<ellipse cx="329.90" cy="323.15" rx="3.4" ry="1.1" fill="#0a0a0a" opacity="0.85"/>
<ellipse cx="337.65" cy="323.15" rx="3.4" ry="1.1" fill="#0a0a0a" opacity="0.90"/>
<ellipse cx="345.40" cy="323.15" rx="3.4" ry="1.1" fill="#0a0a0a" opacity="0.90"/>
<ellipse cx="353.15" cy="323.15" rx="3.4" ry="1.1" fill="#0a0a0a" opacity="0.60"/>
<ellipse cx="322.15" cy="326.85" rx="3.0" ry="0.9" fill="#0a0a0a" opacity="0.15"/>
<ellipse cx="337.65" cy="326.85" rx="3.0" ry="0.9" fill="#0a0a0a" opacity="0.50"/>
<ellipse cx="353.15" cy="326.85" rx="3.0" ry="0.9" fill="#0a0a0a" opacity="0.40"/>
</g>
<rect x="310.80" y="330.90" width="46.80" height="9.30" fill="#dcdcdc"/>
<g filter="url(#bl)">
</g>
<rect x="310.80" y="342.20" width="46.80" height="8.40" fill="#d4d4d4"/>
<g filter="url(#bl)">
<ellipse cx="314.40" cy="346.70" rx="3.7" ry="1.3" fill="#0a0a0a" opacity="0.95"/>
<ellipse cx="322.15" cy="346.70" rx="3.7" ry="1.3" fill="#0a0a0a" opacity="0.90"/>
<ellipse cx="329.90" cy="346.70" rx="3.7" ry="1.3" fill="#0a0a0a" opacity="0.90"/>
<ellipse cx="337.65" cy="346.70" rx="3.7" ry="1.3" fill="#0a0a0a" opacity="0.90"/>
<ellipse cx="345.40" cy="346.70" rx="3.7" ry="1.3" fill="#0a0a0a" opacity="0.90"/>
<ellipse cx="353.15" cy="346.70" rx="3.7" ry="1.3" fill="#0a0a0a" opacity="0.85"/>
</g>
<text x="389.20" y="253.20" font-size="8.6" text-anchor="middle">MyLa</text>
<line x1="368.00" y1="261.50" x2="371.60" y2="261.50" stroke="#2a2a2a" stroke-width="0.85"/>
<line x1="369.80" y1="259.70" x2="369.80" y2="263.30" stroke="#2a2a2a" stroke-width="0.85"/>
<line x1="375.75" y1="261.50" x2="379.35" y2="261.50" stroke="#2a2a2a" stroke-width="0.8"/>
<line x1="383.50" y1="261.50" x2="387.10" y2="261.50" stroke="#2a2a2a" stroke-width="0.85"/>
<line x1="385.30" y1="259.70" x2="385.30" y2="263.30" stroke="#2a2a2a" stroke-width="0.85"/>
<line x1="391.25" y1="261.50" x2="394.85" y2="261.50" stroke="#2a2a2a" stroke-width="0.8"/>
<line x1="399.00" y1="261.50" x2="402.60" y2="261.50" stroke="#2a2a2a" stroke-width="0.85"/>
<line x1="400.80" y1="259.70" x2="400.80" y2="263.30" stroke="#2a2a2a" stroke-width="0.85"/>
<line x1="406.75" y1="261.50" x2="410.35" y2="261.50" stroke="#2a2a2a" stroke-width="0.8"/>
<line x1="368.00" y1="271.20" x2="371.60" y2="271.20" stroke="#2a2a2a" stroke-width="0.8"/>
<line x1="375.75" y1="271.20" x2="379.35" y2="271.20" stroke="#2a2a2a" stroke-width="0.85"/>
<line x1="377.55" y1="269.40" x2="377.55" y2="273.00" stroke="#2a2a2a" stroke-width="0.85"/>
<line x1="383.50" y1="271.20" x2="387.10" y2="271.20" stroke="#2a2a2a" stroke-width="0.8"/>
<line x1="391.25" y1="271.20" x2="394.85" y2="271.20" stroke="#2a2a2a" stroke-width="0.85"/>
<line x1="393.05" y1="269.40" x2="393.05" y2="273.00" stroke="#2a2a2a" stroke-width="0.85"/>
<line x1="399.00" y1="271.20" x2="402.60" y2="271.20" stroke="#2a2a2a" stroke-width="0.8"/>
<line x1="406.75" y1="271.20" x2="410.35" y2="271.20" stroke="#2a2a2a" stroke-width="0.85"/>
<line x1="408.55" y1="269.40" x2="408.55" y2="273.00" stroke="#2a2a2a" stroke-width="0.85"/>
<text x="373.68" y="282.40" font-size="7.2" text-anchor="middle" fill="#2a2a2a">6h</text>
<line x1="366.60" y1="284.50" x2="380.75" y2="284.50" stroke="#8a8a8a" stroke-width="1.2"/>
<text x="389.18" y="282.40" font-size="7.2" text-anchor="middle" fill="#2a2a2a">24h</text>
<line x1="382.10" y1="284.50" x2="396.25" y2="284.50" stroke="#8a8a8a" stroke-width="1.2"/>
<text x="404.68" y="282.40" font-size="7.2" text-anchor="middle" fill="#2a2a2a">48h</text>
<line x1="397.60" y1="284.50" x2="411.75" y2="284.50" stroke="#8a8a8a" stroke-width="1.2"/>
<rect x="366.20" y="286.80" width="46.80" height="9.60" fill="#d2d2d2"/>
<g filter="url(#bl)">
<ellipse cx="369.80" cy="292.20" rx="3.2" ry="1.1" fill="#0a0a0a" opacity="0.90"/>
<ellipse cx="377.55" cy="292.20" rx="3.2" ry="1.1" fill="#0a0a0a" opacity="0.90"/>
<ellipse cx="385.30" cy="292.20" rx="3.2" ry="1.1" fill="#0a0a0a" opacity="0.85"/>
<ellipse cx="393.05" cy="292.20" rx="3.2" ry="1.1" fill="#0a0a0a" opacity="0.85"/>
<ellipse cx="400.80" cy="292.20" rx="3.2" ry="1.1" fill="#0a0a0a" opacity="0.80"/>
</g>
<rect x="366.20" y="298.60" width="46.80" height="8.20" fill="#d4d4d4"/>
<g filter="url(#bl)">
<ellipse cx="369.80" cy="303.00" rx="3.2" ry="1.1" fill="#0a0a0a" opacity="0.80"/>
<ellipse cx="377.55" cy="303.00" rx="3.2" ry="1.1" fill="#0a0a0a" opacity="0.70"/>
<ellipse cx="385.30" cy="303.00" rx="3.2" ry="1.1" fill="#0a0a0a" opacity="0.50"/>
<ellipse cx="393.05" cy="303.00" rx="3.2" ry="1.1" fill="#0a0a0a" opacity="0.40"/>
<ellipse cx="400.80" cy="303.00" rx="3.2" ry="1.1" fill="#0a0a0a" opacity="1.00"/>
<ellipse cx="408.55" cy="303.00" rx="3.2" ry="1.1" fill="#0a0a0a" opacity="0.25"/>
</g>
<rect x="366.20" y="309.30" width="46.80" height="8.20" fill="#d8d8d8"/>
<g filter="url(#bl)">
<ellipse cx="369.80" cy="313.40" rx="3.2" ry="1.1" fill="#0a0a0a" opacity="0.70"/>
<ellipse cx="377.55" cy="313.40" rx="3.2" ry="1.1" fill="#0a0a0a" opacity="0.85"/>
<ellipse cx="385.30" cy="313.40" rx="3.2" ry="1.1" fill="#0a0a0a" opacity="0.80"/>
<ellipse cx="393.05" cy="313.40" rx="3.2" ry="1.1" fill="#0a0a0a" opacity="0.80"/>
<ellipse cx="400.80" cy="313.40" rx="3.2" ry="1.1" fill="#0a0a0a" opacity="0.85"/>
<ellipse cx="408.55" cy="313.40" rx="3.2" ry="1.1" fill="#0a0a0a" opacity="0.70"/>
</g>
<rect x="366.20" y="319.60" width="46.80" height="9.70" fill="#d2d2d2"/>
<g filter="url(#bl)">
<ellipse cx="369.80" cy="324.05" rx="3.4" ry="1.3" fill="#0a0a0a" opacity="0.70"/>
<ellipse cx="377.55" cy="324.05" rx="3.4" ry="1.3" fill="#0a0a0a" opacity="0.95"/>
<ellipse cx="385.30" cy="324.05" rx="3.4" ry="1.3" fill="#0a0a0a" opacity="0.90"/>
<ellipse cx="393.05" cy="324.05" rx="3.4" ry="1.3" fill="#0a0a0a" opacity="0.80"/>
<ellipse cx="400.80" cy="324.05" rx="3.4" ry="1.3" fill="#0a0a0a" opacity="0.95"/>
<ellipse cx="408.55" cy="324.05" rx="3.4" ry="1.3" fill="#0a0a0a" opacity="0.20"/>
<ellipse cx="408.55" cy="327.45" rx="3.0" ry="0.9" fill="#0a0a0a" opacity="0.80"/>
</g>
<rect x="366.20" y="330.90" width="46.80" height="9.30" fill="#c4c4c4"/>
<g filter="url(#bl)">
<ellipse cx="369.80" cy="335.85" rx="3.4" ry="1.5" fill="#0a0a0a" opacity="0.30"/>
<ellipse cx="377.55" cy="335.85" rx="3.4" ry="1.5" fill="#0a0a0a" opacity="0.50"/>
<ellipse cx="385.30" cy="335.85" rx="3.4" ry="1.5" fill="#0a0a0a" opacity="0.60"/>
<ellipse cx="393.05" cy="335.85" rx="3.4" ry="1.5" fill="#0a0a0a" opacity="0.90"/>
<ellipse cx="400.80" cy="335.85" rx="3.4" ry="1.5" fill="#0a0a0a" opacity="0.55"/>
<ellipse cx="408.55" cy="335.85" rx="3.4" ry="1.5" fill="#0a0a0a" opacity="0.75"/>
</g>
<rect x="366.20" y="342.20" width="46.80" height="8.40" fill="#d6d6d6"/>
<g filter="url(#bl)">
<ellipse cx="369.80" cy="346.90" rx="3.4" ry="1.1" fill="#0a0a0a" opacity="0.90"/>
<ellipse cx="377.55" cy="346.90" rx="3.4" ry="1.1" fill="#0a0a0a" opacity="0.85"/>
<ellipse cx="385.30" cy="346.90" rx="3.4" ry="1.1" fill="#0a0a0a" opacity="0.85"/>
<ellipse cx="393.05" cy="346.90" rx="3.4" ry="1.1" fill="#0a0a0a" opacity="0.85"/>
<ellipse cx="400.80" cy="346.90" rx="3.4" ry="1.1" fill="#0a0a0a" opacity="0.80"/>
<ellipse cx="408.55" cy="346.90" rx="3.4" ry="1.1" fill="#0a0a0a" opacity="0.90"/>
</g>
<text x="445.00" y="253.20" font-size="8.6" text-anchor="middle">SeAx</text>
<line x1="423.00" y1="261.50" x2="426.60" y2="261.50" stroke="#2a2a2a" stroke-width="0.85"/>
<line x1="424.80" y1="259.70" x2="424.80" y2="263.30" stroke="#2a2a2a" stroke-width="0.85"/>
<line x1="430.75" y1="261.50" x2="434.35" y2="261.50" stroke="#2a2a2a" stroke-width="0.8"/>
<line x1="438.50" y1="261.50" x2="442.10" y2="261.50" stroke="#2a2a2a" stroke-width="0.85"/>
<line x1="440.30" y1="259.70" x2="440.30" y2="263.30" stroke="#2a2a2a" stroke-width="0.85"/>
<line x1="446.25" y1="261.50" x2="449.85" y2="261.50" stroke="#2a2a2a" stroke-width="0.8"/>
<line x1="454.00" y1="261.50" x2="457.60" y2="261.50" stroke="#2a2a2a" stroke-width="0.85"/>
<line x1="455.80" y1="259.70" x2="455.80" y2="263.30" stroke="#2a2a2a" stroke-width="0.85"/>
<line x1="461.75" y1="261.50" x2="465.35" y2="261.50" stroke="#2a2a2a" stroke-width="0.8"/>
<line x1="423.00" y1="271.20" x2="426.60" y2="271.20" stroke="#2a2a2a" stroke-width="0.8"/>
<line x1="430.75" y1="271.20" x2="434.35" y2="271.20" stroke="#2a2a2a" stroke-width="0.85"/>
<line x1="432.55" y1="269.40" x2="432.55" y2="273.00" stroke="#2a2a2a" stroke-width="0.85"/>
<line x1="438.50" y1="271.20" x2="442.10" y2="271.20" stroke="#2a2a2a" stroke-width="0.8"/>
<line x1="446.25" y1="271.20" x2="449.85" y2="271.20" stroke="#2a2a2a" stroke-width="0.85"/>
<line x1="448.05" y1="269.40" x2="448.05" y2="273.00" stroke="#2a2a2a" stroke-width="0.85"/>
<line x1="454.00" y1="271.20" x2="457.60" y2="271.20" stroke="#2a2a2a" stroke-width="0.8"/>
<line x1="461.75" y1="271.20" x2="465.35" y2="271.20" stroke="#2a2a2a" stroke-width="0.85"/>
<line x1="463.55" y1="269.40" x2="463.55" y2="273.00" stroke="#2a2a2a" stroke-width="0.85"/>
<text x="428.68" y="282.40" font-size="7.2" text-anchor="middle" fill="#2a2a2a">6h</text>
<line x1="421.60" y1="284.50" x2="435.75" y2="284.50" stroke="#8a8a8a" stroke-width="1.2"/>
<text x="444.18" y="282.40" font-size="7.2" text-anchor="middle" fill="#2a2a2a">24h</text>
<line x1="437.10" y1="284.50" x2="451.25" y2="284.50" stroke="#8a8a8a" stroke-width="1.2"/>
<text x="459.68" y="282.40" font-size="7.2" text-anchor="middle" fill="#2a2a2a">48h</text>
<line x1="452.60" y1="284.50" x2="466.75" y2="284.50" stroke="#8a8a8a" stroke-width="1.2"/>
<rect x="421.20" y="286.80" width="46.80" height="9.60" fill="#d0d0d0"/>
<g filter="url(#bl)">
<ellipse cx="424.80" cy="292.50" rx="3.8" ry="2.2" fill="#0a0a0a" opacity="1.00"/>
<ellipse cx="432.55" cy="292.50" rx="3.8" ry="2.2" fill="#0a0a0a" opacity="1.00"/>
<ellipse cx="440.30" cy="292.50" rx="3.8" ry="2.2" fill="#0a0a0a" opacity="1.00"/>
<ellipse cx="448.05" cy="292.50" rx="3.8" ry="2.2" fill="#0a0a0a" opacity="1.00"/>
<ellipse cx="455.80" cy="292.50" rx="3.8" ry="2.2" fill="#0a0a0a" opacity="1.00"/>
<ellipse cx="463.55" cy="292.50" rx="3.8" ry="2.2" fill="#0a0a0a" opacity="0.30"/>
<ellipse cx="424.80" cy="289.20" rx="2.6" ry="0.8" fill="#0a0a0a" opacity="0.30"/>
<ellipse cx="432.55" cy="289.20" rx="2.6" ry="0.8" fill="#0a0a0a" opacity="0.50"/>
<ellipse cx="440.30" cy="289.20" rx="2.6" ry="0.8" fill="#0a0a0a" opacity="0.50"/>
<ellipse cx="448.05" cy="289.20" rx="2.6" ry="0.8" fill="#0a0a0a" opacity="0.50"/>
<ellipse cx="455.80" cy="289.20" rx="2.6" ry="0.8" fill="#0a0a0a" opacity="0.40"/>
</g>
<rect x="421.20" y="298.60" width="46.80" height="8.20" fill="#c8c8c8"/>
<g filter="url(#bl)">
<ellipse cx="424.80" cy="302.70" rx="3.0" ry="1.0" fill="#0a0a0a" opacity="0.12"/>
<ellipse cx="432.55" cy="302.70" rx="3.0" ry="1.0" fill="#0a0a0a" opacity="0.12"/>
<ellipse cx="440.30" cy="302.70" rx="3.0" ry="1.0" fill="#0a0a0a" opacity="0.08"/>
<ellipse cx="448.05" cy="302.70" rx="3.0" ry="1.0" fill="#0a0a0a" opacity="0.08"/>
<ellipse cx="455.80" cy="302.70" rx="3.0" ry="1.0" fill="#0a0a0a" opacity="0.05"/>
<ellipse cx="463.55" cy="302.70" rx="3.0" ry="1.0" fill="#0a0a0a" opacity="0.05"/>
</g>
<rect x="421.20" y="309.30" width="46.80" height="8.20" fill="#d8d8d8"/>
<g filter="url(#bl)">
<ellipse cx="424.80" cy="313.40" rx="3.2" ry="1.2" fill="#0a0a0a" opacity="0.85"/>
<ellipse cx="432.55" cy="313.40" rx="3.2" ry="1.2" fill="#0a0a0a" opacity="0.85"/>
<ellipse cx="440.30" cy="313.40" rx="3.2" ry="1.2" fill="#0a0a0a" opacity="0.90"/>
<ellipse cx="448.05" cy="313.40" rx="3.2" ry="1.2" fill="#0a0a0a" opacity="0.70"/>
<ellipse cx="455.80" cy="313.40" rx="3.2" ry="1.2" fill="#0a0a0a" opacity="0.75"/>
<ellipse cx="463.55" cy="313.40" rx="3.2" ry="1.2" fill="#0a0a0a" opacity="0.35"/>
</g>
<rect x="421.20" y="319.60" width="46.80" height="9.70" fill="#d8d8d8"/>
<g filter="url(#bl)">
<ellipse cx="424.80" cy="323.45" rx="3.2" ry="0.9" fill="#0a0a0a" opacity="0.35"/>
<ellipse cx="432.55" cy="323.45" rx="3.2" ry="0.9" fill="#0a0a0a" opacity="0.30"/>
<ellipse cx="440.30" cy="323.45" rx="3.2" ry="0.9" fill="#0a0a0a" opacity="0.30"/>
<ellipse cx="448.05" cy="323.45" rx="3.2" ry="0.9" fill="#0a0a0a" opacity="0.45"/>
<ellipse cx="455.80" cy="323.45" rx="3.2" ry="0.9" fill="#0a0a0a" opacity="0.30"/>
<ellipse cx="463.55" cy="323.45" rx="3.2" ry="0.9" fill="#0a0a0a" opacity="0.20"/>
<ellipse cx="448.05" cy="326.65" rx="3.0" ry="0.8" fill="#0a0a0a" opacity="0.70"/>
</g>
<rect x="421.20" y="330.90" width="46.80" height="9.30" fill="#b6b6b6"/>
<g filter="url(#bl)">
<ellipse cx="424.80" cy="335.75" rx="3.8" ry="2.0" fill="#0a0a0a" opacity="0.45"/>
<ellipse cx="432.55" cy="335.75" rx="3.8" ry="2.0" fill="#0a0a0a" opacity="0.35"/>
<ellipse cx="440.30" cy="335.75" rx="3.8" ry="2.0" fill="#0a0a0a" opacity="0.50"/>
<ellipse cx="448.05" cy="335.75" rx="3.8" ry="2.0" fill="#0a0a0a" opacity="1.00"/>
<ellipse cx="455.80" cy="335.75" rx="3.8" ry="2.0" fill="#0a0a0a" opacity="0.85"/>
<ellipse cx="463.55" cy="335.75" rx="3.8" ry="2.0" fill="#0a0a0a" opacity="1.00"/>
</g>
<rect x="421.20" y="342.20" width="46.80" height="8.40" fill="#d2d2d2"/>
<g filter="url(#bl)">
<ellipse cx="424.80" cy="346.90" rx="3.6" ry="1.5" fill="#0a0a0a" opacity="0.95"/>
<ellipse cx="432.55" cy="346.90" rx="3.6" ry="1.5" fill="#0a0a0a" opacity="0.90"/>
<ellipse cx="440.30" cy="346.90" rx="3.6" ry="1.5" fill="#0a0a0a" opacity="0.90"/>
<ellipse cx="448.05" cy="346.90" rx="3.6" ry="1.5" fill="#0a0a0a" opacity="0.80"/>
<ellipse cx="455.80" cy="346.90" rx="3.6" ry="1.5" fill="#0a0a0a" opacity="0.80"/>
<ellipse cx="463.55" cy="346.90" rx="3.6" ry="1.5" fill="#0a0a0a" opacity="0.75"/>
</g>
<line x1="33.50" y1="369.00" x2="33.50" y2="436.20" stroke="#111" stroke-width="1.1"/>
<line x1="31.10" y1="435.60" x2="33.50" y2="435.60" stroke="#111" stroke-width="0.9"/>
<text x="28.90" y="437.98" font-size="6.6" text-anchor="end" fill="#252525">0</text>
<line x1="31.10" y1="414.37" x2="33.50" y2="414.37" stroke="#111" stroke-width="0.9"/>
<text x="28.90" y="416.74" font-size="6.6" text-anchor="end" fill="#252525">20</text>
<line x1="31.10" y1="393.13" x2="33.50" y2="393.13" stroke="#111" stroke-width="0.9"/>
<text x="28.90" y="395.51" font-size="6.6" text-anchor="end" fill="#252525">40</text>
<line x1="31.10" y1="371.90" x2="33.50" y2="371.90" stroke="#111" stroke-width="0.9"/>
<text x="28.90" y="374.27" font-size="6.6" text-anchor="end" fill="#252525">60</text>
<line x1="33.50" y1="435.60" x2="129.00" y2="435.60" stroke="#111" stroke-width="1.3"/>
<rect x="37.20" y="428.49" width="6.00" height="7.11" fill="#154b8c"/>
<line x1="40.20" y1="424.66" x2="40.20" y2="428.49" stroke="#5a5048" stroke-width="0.7"/>
<line x1="38.40" y1="424.66" x2="42.00" y2="424.66" stroke="#5a5048" stroke-width="0.8"/>
<rect x="46.20" y="420.95" width="6.00" height="14.65" fill="#cc0a2a"/>
<line x1="49.20" y1="416.49" x2="49.20" y2="420.95" stroke="#5a5048" stroke-width="0.7"/>
<line x1="47.40" y1="416.49" x2="51.00" y2="416.49" stroke="#5a5048" stroke-width="0.8"/>
<line x1="44.80" y1="435.60" x2="44.80" y2="438.00" stroke="#111" stroke-width="0.8"/>
<text x="44.40" y="446.50" font-size="6.6" text-anchor="middle" fill="#333" textLength="20" lengthAdjust="spacingAndGlyphs">Sub-G1</text>
<rect x="61.40" y="383.90" width="6.00" height="51.70" fill="#154b8c"/>
<line x1="64.40" y1="380.07" x2="64.40" y2="383.90" stroke="#5a5048" stroke-width="0.7"/>
<line x1="62.60" y1="380.07" x2="66.20" y2="380.07" stroke="#5a5048" stroke-width="0.8"/>
<rect x="70.40" y="410.86" width="6.00" height="24.74" fill="#cc0a2a"/>
<line x1="73.40" y1="406.72" x2="73.40" y2="410.86" stroke="#5a5048" stroke-width="0.7"/>
<line x1="71.60" y1="406.72" x2="75.20" y2="406.72" stroke="#5a5048" stroke-width="0.8"/>
<line x1="69.00" y1="435.60" x2="69.00" y2="438.00" stroke="#111" stroke-width="0.8"/>
<text x="68.60" y="446.50" font-size="6.6" text-anchor="middle" fill="#333" textLength="8.6" lengthAdjust="spacingAndGlyphs">G1</text>
<rect x="85.60" y="409.69" width="6.00" height="25.91" fill="#154b8c"/>
<line x1="88.60" y1="405.55" x2="88.60" y2="409.69" stroke="#5a5048" stroke-width="0.7"/>
<line x1="86.80" y1="405.55" x2="90.40" y2="405.55" stroke="#5a5048" stroke-width="0.8"/>
<rect x="94.60" y="410.33" width="6.00" height="25.27" fill="#cc0a2a"/>
<line x1="97.60" y1="406.62" x2="97.60" y2="410.33" stroke="#5a5048" stroke-width="0.7"/>
<line x1="95.80" y1="406.62" x2="99.40" y2="406.62" stroke="#5a5048" stroke-width="0.8"/>
<line x1="93.20" y1="435.60" x2="93.20" y2="438.00" stroke="#111" stroke-width="0.8"/>
<text x="92.80" y="446.50" font-size="6.6" text-anchor="middle" fill="#333" textLength="3.6" lengthAdjust="spacingAndGlyphs">S</text>
<rect x="109.80" y="414.58" width="6.00" height="21.02" fill="#154b8c"/>
<line x1="112.80" y1="411.18" x2="112.80" y2="414.58" stroke="#5a5048" stroke-width="0.7"/>
<line x1="111.00" y1="411.18" x2="114.60" y2="411.18" stroke="#5a5048" stroke-width="0.8"/>
<rect x="118.80" y="395.68" width="6.00" height="39.92" fill="#cc0a2a"/>
<line x1="121.80" y1="390.37" x2="121.80" y2="395.68" stroke="#5a5048" stroke-width="0.7"/>
<line x1="120.00" y1="390.37" x2="123.60" y2="390.37" stroke="#5a5048" stroke-width="0.8"/>
<line x1="117.40" y1="435.60" x2="117.40" y2="438.00" stroke="#111" stroke-width="0.8"/>
<text x="117.00" y="446.50" font-size="6.6" text-anchor="middle" fill="#333" textLength="15.8" lengthAdjust="spacingAndGlyphs">G2/M</text>
<text x="81.00" y="367.30" font-size="8.8" text-anchor="middle">Hut</text>
<text x="16.50" y="402.80" font-size="7.2" text-anchor="middle" fill="#1a1a1a" textLength="31" lengthAdjust="spacingAndGlyphs" transform="rotate(-90 16.50 402.80)" stroke="#1a1a1a" stroke-width="0.3">% Cell cycle</text>
<path d="M112.40 384.90V387.10M112.40 386.00H121.70M121.70 384.90V387.10" stroke="#333" stroke-width="0.7" fill="none"/>
<text x="117.05" y="385.40" font-size="6.2" text-anchor="middle" fill="#333">*</text>
<rect x="49.10" y="450.70" width="4.40" height="4.30" fill="#154b8c"/>
<text x="55.90" y="454.80" font-size="6.6" fill="#333" textLength="19" lengthAdjust="spacingAndGlyphs">Control</text>
<rect x="80.30" y="450.70" width="4.40" height="4.30" fill="#cc0a2a"/>
<text x="86.30" y="454.80" font-size="6.6" fill="#333" textLength="27.6" lengthAdjust="spacingAndGlyphs">LY500307</text>
<line x1="161.30" y1="369.00" x2="161.30" y2="436.20" stroke="#111" stroke-width="1.1"/>
<line x1="158.90" y1="435.60" x2="161.30" y2="435.60" stroke="#111" stroke-width="0.9"/>
<text x="156.70" y="437.98" font-size="6.6" text-anchor="end" fill="#252525">0</text>
<line x1="158.90" y1="414.37" x2="161.30" y2="414.37" stroke="#111" stroke-width="0.9"/>
<text x="156.70" y="416.74" font-size="6.6" text-anchor="end" fill="#252525">20</text>
<line x1="158.90" y1="393.13" x2="161.30" y2="393.13" stroke="#111" stroke-width="0.9"/>
<text x="156.70" y="395.51" font-size="6.6" text-anchor="end" fill="#252525">40</text>
<line x1="158.90" y1="371.90" x2="161.30" y2="371.90" stroke="#111" stroke-width="0.9"/>
<text x="156.70" y="374.27" font-size="6.6" text-anchor="end" fill="#252525">60</text>
<line x1="161.30" y1="435.60" x2="256.80" y2="435.60" stroke="#111" stroke-width="1.3"/>
<rect x="165.00" y="431.03" width="6.00" height="4.57" fill="#154b8c"/>
<line x1="168.00" y1="428.17" x2="168.00" y2="431.03" stroke="#5a5048" stroke-width="0.7"/>
<line x1="166.20" y1="428.17" x2="169.80" y2="428.17" stroke="#5a5048" stroke-width="0.8"/>
<rect x="174.00" y="426.15" width="6.00" height="9.45" fill="#cc0a2a"/>
<line x1="177.00" y1="421.16" x2="177.00" y2="426.15" stroke="#5a5048" stroke-width="0.7"/>
<line x1="175.20" y1="421.16" x2="178.80" y2="421.16" stroke="#5a5048" stroke-width="0.8"/>
<line x1="172.60" y1="435.60" x2="172.60" y2="438.00" stroke="#111" stroke-width="0.8"/>
<text x="172.20" y="446.50" font-size="6.6" text-anchor="middle" fill="#333" textLength="20" lengthAdjust="spacingAndGlyphs">Sub-G1</text>
<rect x="189.20" y="383.90" width="6.00" height="51.70" fill="#154b8c"/>
<line x1="192.20" y1="381.03" x2="192.20" y2="383.90" stroke="#5a5048" stroke-width="0.7"/>
<line x1="190.40" y1="381.03" x2="194.00" y2="381.03" stroke="#5a5048" stroke-width="0.8"/>
<rect x="198.20" y="405.34" width="6.00" height="30.26" fill="#cc0a2a"/>
<line x1="201.20" y1="394.41" x2="201.20" y2="405.34" stroke="#5a5048" stroke-width="0.7"/>
<line x1="199.40" y1="394.41" x2="203.00" y2="394.41" stroke="#5a5048" stroke-width="0.8"/>
<line x1="196.80" y1="435.60" x2="196.80" y2="438.00" stroke="#111" stroke-width="0.8"/>
<text x="196.40" y="446.50" font-size="6.6" text-anchor="middle" fill="#333" textLength="8.6" lengthAdjust="spacingAndGlyphs">G1</text>
<rect x="213.40" y="409.91" width="6.00" height="25.69" fill="#154b8c"/>
<line x1="216.40" y1="406.40" x2="216.40" y2="409.91" stroke="#5a5048" stroke-width="0.7"/>
<line x1="214.60" y1="406.40" x2="218.20" y2="406.40" stroke="#5a5048" stroke-width="0.8"/>
<rect x="222.40" y="410.97" width="6.00" height="24.63" fill="#cc0a2a"/>
<line x1="225.40" y1="403.64" x2="225.40" y2="410.97" stroke="#5a5048" stroke-width="0.7"/>
<line x1="223.60" y1="403.64" x2="227.20" y2="403.64" stroke="#5a5048" stroke-width="0.8"/>
<line x1="221.00" y1="435.60" x2="221.00" y2="438.00" stroke="#111" stroke-width="0.8"/>
<text x="220.60" y="446.50" font-size="6.6" text-anchor="middle" fill="#333" textLength="3.6" lengthAdjust="spacingAndGlyphs">S</text>
<rect x="237.60" y="412.99" width="6.00" height="22.61" fill="#154b8c"/>
<line x1="240.60" y1="409.16" x2="240.60" y2="412.99" stroke="#5a5048" stroke-width="0.7"/>
<line x1="238.80" y1="409.16" x2="242.40" y2="409.16" stroke="#5a5048" stroke-width="0.8"/>
<rect x="246.60" y="396.10" width="6.00" height="39.50" fill="#cc0a2a"/>
<line x1="249.60" y1="387.08" x2="249.60" y2="396.10" stroke="#5a5048" stroke-width="0.7"/>
<line x1="247.80" y1="387.08" x2="251.40" y2="387.08" stroke="#5a5048" stroke-width="0.8"/>
<line x1="245.20" y1="435.60" x2="245.20" y2="438.00" stroke="#111" stroke-width="0.8"/>
<text x="244.80" y="446.50" font-size="6.6" text-anchor="middle" fill="#333" textLength="15.8" lengthAdjust="spacingAndGlyphs">G2/M</text>
<text x="208.80" y="367.30" font-size="8.8" text-anchor="middle">MyLa</text>
<text x="144.30" y="402.80" font-size="7.2" text-anchor="middle" fill="#1a1a1a" textLength="31" lengthAdjust="spacingAndGlyphs" transform="rotate(-90 144.30 402.80)" stroke="#1a1a1a" stroke-width="0.3">% Cell cycle</text>
<path d="M240.40 383.20V385.40M240.40 384.30H249.70M249.70 383.20V385.40" stroke="#333" stroke-width="0.7" fill="none"/>
<text x="245.05" y="383.70" font-size="6.2" text-anchor="middle" fill="#333">*</text>
<rect x="176.90" y="450.70" width="4.40" height="4.30" fill="#154b8c"/>
<text x="183.70" y="454.80" font-size="6.6" fill="#333" textLength="19" lengthAdjust="spacingAndGlyphs">Control</text>
<rect x="208.10" y="450.70" width="4.40" height="4.30" fill="#cc0a2a"/>
<text x="214.10" y="454.80" font-size="6.6" fill="#333" textLength="27.6" lengthAdjust="spacingAndGlyphs">LY500307</text>
<line x1="289.30" y1="369.00" x2="289.30" y2="436.20" stroke="#111" stroke-width="1.1"/>
<line x1="286.90" y1="435.60" x2="289.30" y2="435.60" stroke="#111" stroke-width="0.9"/>
<text x="284.70" y="437.98" font-size="6.6" text-anchor="end" fill="#252525">0</text>
<line x1="286.90" y1="414.37" x2="289.30" y2="414.37" stroke="#111" stroke-width="0.9"/>
<text x="284.70" y="416.74" font-size="6.6" text-anchor="end" fill="#252525">20</text>
<line x1="286.90" y1="393.13" x2="289.30" y2="393.13" stroke="#111" stroke-width="0.9"/>
<text x="284.70" y="395.51" font-size="6.6" text-anchor="end" fill="#252525">40</text>
<line x1="286.90" y1="371.90" x2="289.30" y2="371.90" stroke="#111" stroke-width="0.9"/>
<text x="284.70" y="374.27" font-size="6.6" text-anchor="end" fill="#252525">60</text>
<line x1="289.30" y1="435.60" x2="384.80" y2="435.60" stroke="#111" stroke-width="1.3"/>
<rect x="293.00" y="430.82" width="6.00" height="4.78" fill="#154b8c"/>
<line x1="296.00" y1="427.53" x2="296.00" y2="430.82" stroke="#5a5048" stroke-width="0.7"/>
<line x1="294.20" y1="427.53" x2="297.80" y2="427.53" stroke="#5a5048" stroke-width="0.8"/>
<rect x="302.00" y="426.04" width="6.00" height="9.56" fill="#cc0a2a"/>
<line x1="305.00" y1="419.46" x2="305.00" y2="426.04" stroke="#5a5048" stroke-width="0.7"/>
<line x1="303.20" y1="419.46" x2="306.80" y2="419.46" stroke="#5a5048" stroke-width="0.8"/>
<line x1="300.60" y1="435.60" x2="300.60" y2="438.00" stroke="#111" stroke-width="0.8"/>
<text x="300.20" y="446.50" font-size="6.6" text-anchor="middle" fill="#333" textLength="20" lengthAdjust="spacingAndGlyphs">Sub-G1</text>
<rect x="317.20" y="380.39" width="6.00" height="55.21" fill="#154b8c"/>
<line x1="320.20" y1="376.36" x2="320.20" y2="380.39" stroke="#5a5048" stroke-width="0.7"/>
<line x1="318.40" y1="376.36" x2="322.00" y2="376.36" stroke="#5a5048" stroke-width="0.8"/>
<rect x="326.20" y="405.02" width="6.00" height="30.58" fill="#cc0a2a"/>
<line x1="329.20" y1="392.71" x2="329.20" y2="405.02" stroke="#5a5048" stroke-width="0.7"/>
<line x1="327.40" y1="392.71" x2="331.00" y2="392.71" stroke="#5a5048" stroke-width="0.8"/>
<line x1="324.80" y1="435.60" x2="324.80" y2="438.00" stroke="#111" stroke-width="0.8"/>
<text x="324.40" y="446.50" font-size="6.6" text-anchor="middle" fill="#333" textLength="8.6" lengthAdjust="spacingAndGlyphs">G1</text>
<rect x="341.40" y="409.59" width="6.00" height="26.01" fill="#154b8c"/>
<line x1="344.40" y1="406.40" x2="344.40" y2="409.59" stroke="#5a5048" stroke-width="0.7"/>
<line x1="342.60" y1="406.40" x2="346.20" y2="406.40" stroke="#5a5048" stroke-width="0.8"/>
<rect x="350.40" y="408.85" width="6.00" height="26.75" fill="#cc0a2a"/>
<line x1="353.40" y1="403.64" x2="353.40" y2="408.85" stroke="#5a5048" stroke-width="0.7"/>
<line x1="351.60" y1="403.64" x2="355.20" y2="403.64" stroke="#5a5048" stroke-width="0.8"/>
<line x1="349.00" y1="435.60" x2="349.00" y2="438.00" stroke="#111" stroke-width="0.8"/>
<text x="348.60" y="446.50" font-size="6.6" text-anchor="middle" fill="#333" textLength="3.6" lengthAdjust="spacingAndGlyphs">S</text>
<rect x="365.60" y="417.02" width="6.00" height="18.58" fill="#154b8c"/>
<line x1="368.60" y1="412.99" x2="368.60" y2="417.02" stroke="#5a5048" stroke-width="0.7"/>
<line x1="366.80" y1="412.99" x2="370.40" y2="412.99" stroke="#5a5048" stroke-width="0.8"/>
<rect x="374.60" y="400.35" width="6.00" height="35.25" fill="#cc0a2a"/>
<line x1="377.60" y1="392.28" x2="377.60" y2="400.35" stroke="#5a5048" stroke-width="0.7"/>
<line x1="375.80" y1="392.28" x2="379.40" y2="392.28" stroke="#5a5048" stroke-width="0.8"/>
<line x1="373.20" y1="435.60" x2="373.20" y2="438.00" stroke="#111" stroke-width="0.8"/>
<text x="372.80" y="446.50" font-size="6.6" text-anchor="middle" fill="#333" textLength="15.8" lengthAdjust="spacingAndGlyphs">G2/M</text>
<text x="336.80" y="367.30" font-size="8.8" text-anchor="middle">SeAx</text>
<text x="272.30" y="402.80" font-size="7.2" text-anchor="middle" fill="#1a1a1a" textLength="31" lengthAdjust="spacingAndGlyphs" transform="rotate(-90 272.30 402.80)" stroke="#1a1a1a" stroke-width="0.3">% Cell cycle</text>
<path d="M368.40 384.60V386.80M368.40 385.70H378.00M378.00 384.60V386.80" stroke="#333" stroke-width="0.7" fill="none"/>
<text x="373.20" y="385.10" font-size="6.2" text-anchor="middle" fill="#333">*</text>
<rect x="304.90" y="450.70" width="4.40" height="4.30" fill="#154b8c"/>
<text x="311.70" y="454.80" font-size="6.6" fill="#333" textLength="19" lengthAdjust="spacingAndGlyphs">Control</text>
<rect x="336.10" y="450.70" width="4.40" height="4.30" fill="#cc0a2a"/>
<text x="342.10" y="454.80" font-size="6.6" fill="#333" textLength="27.6" lengthAdjust="spacingAndGlyphs">LY500307</text>
<line x1="417.50" y1="369.00" x2="417.50" y2="436.20" stroke="#111" stroke-width="1.1"/>
<line x1="415.10" y1="435.60" x2="417.50" y2="435.60" stroke="#111" stroke-width="0.9"/>
<text x="412.90" y="437.98" font-size="6.6" text-anchor="end" fill="#252525">0</text>
<line x1="415.10" y1="419.57" x2="417.50" y2="419.57" stroke="#111" stroke-width="0.9"/>
<text x="412.90" y="421.95" font-size="6.6" text-anchor="end" fill="#252525">20</text>
<line x1="415.10" y1="403.55" x2="417.50" y2="403.55" stroke="#111" stroke-width="0.9"/>
<text x="412.90" y="405.92" font-size="6.6" text-anchor="end" fill="#252525">40</text>
<line x1="415.10" y1="387.52" x2="417.50" y2="387.52" stroke="#111" stroke-width="0.9"/>
<text x="412.90" y="389.90" font-size="6.6" text-anchor="end" fill="#252525">60</text>
<line x1="415.10" y1="371.50" x2="417.50" y2="371.50" stroke="#111" stroke-width="0.9"/>
<text x="412.90" y="373.87" font-size="6.6" text-anchor="end" fill="#252525">80</text>
<line x1="417.50" y1="435.60" x2="513.00" y2="435.60" stroke="#111" stroke-width="1.3"/>
<rect x="421.20" y="427.99" width="6.00" height="7.61" fill="#154b8c"/>
<line x1="424.20" y1="423.98" x2="424.20" y2="427.99" stroke="#5a5048" stroke-width="0.7"/>
<line x1="422.40" y1="423.98" x2="426.00" y2="423.98" stroke="#5a5048" stroke-width="0.8"/>
<rect x="430.20" y="423.98" width="6.00" height="11.62" fill="#cc0a2a"/>
<line x1="433.20" y1="418.05" x2="433.20" y2="423.98" stroke="#5a5048" stroke-width="0.7"/>
<line x1="431.40" y1="418.05" x2="435.00" y2="418.05" stroke="#5a5048" stroke-width="0.8"/>
<line x1="428.80" y1="435.60" x2="428.80" y2="438.00" stroke="#111" stroke-width="0.8"/>
<text x="428.40" y="446.50" font-size="6.6" text-anchor="middle" fill="#333" textLength="20" lengthAdjust="spacingAndGlyphs">Sub-G1</text>
<rect x="445.40" y="390.81" width="6.00" height="44.79" fill="#154b8c"/>
<line x1="448.40" y1="382.39" x2="448.40" y2="390.81" stroke="#5a5048" stroke-width="0.7"/>
<line x1="446.60" y1="382.39" x2="450.20" y2="382.39" stroke="#5a5048" stroke-width="0.8"/>
<rect x="454.40" y="400.98" width="6.00" height="34.62" fill="#cc0a2a"/>
<line x1="457.40" y1="391.21" x2="457.40" y2="400.98" stroke="#5a5048" stroke-width="0.7"/>
<line x1="455.60" y1="391.21" x2="459.20" y2="391.21" stroke="#5a5048" stroke-width="0.8"/>
<line x1="453.00" y1="435.60" x2="453.00" y2="438.00" stroke="#111" stroke-width="0.8"/>
<text x="452.60" y="446.50" font-size="6.6" text-anchor="middle" fill="#333" textLength="8.6" lengthAdjust="spacingAndGlyphs">G1</text>
<rect x="469.60" y="422.78" width="6.00" height="12.82" fill="#154b8c"/>
<line x1="472.60" y1="420.38" x2="472.60" y2="422.78" stroke="#5a5048" stroke-width="0.7"/>
<line x1="470.80" y1="420.38" x2="474.40" y2="420.38" stroke="#5a5048" stroke-width="0.8"/>
<rect x="478.60" y="421.10" width="6.00" height="14.50" fill="#cc0a2a"/>
<line x1="481.60" y1="419.01" x2="481.60" y2="421.10" stroke="#5a5048" stroke-width="0.7"/>
<line x1="479.80" y1="419.01" x2="483.40" y2="419.01" stroke="#5a5048" stroke-width="0.8"/>
<line x1="477.20" y1="435.60" x2="477.20" y2="438.00" stroke="#111" stroke-width="0.8"/>
<text x="476.80" y="446.50" font-size="6.6" text-anchor="middle" fill="#333" textLength="3.6" lengthAdjust="spacingAndGlyphs">S</text>
<rect x="493.80" y="423.90" width="6.00" height="11.70" fill="#154b8c"/>
<line x1="496.80" y1="420.78" x2="496.80" y2="423.90" stroke="#5a5048" stroke-width="0.7"/>
<line x1="495.00" y1="420.78" x2="498.60" y2="420.78" stroke="#5a5048" stroke-width="0.8"/>
<rect x="502.80" y="419.73" width="6.00" height="15.87" fill="#cc0a2a"/>
<line x1="505.80" y1="416.93" x2="505.80" y2="419.73" stroke="#5a5048" stroke-width="0.7"/>
<line x1="504.00" y1="416.93" x2="507.60" y2="416.93" stroke="#5a5048" stroke-width="0.8"/>
<line x1="501.40" y1="435.60" x2="501.40" y2="438.00" stroke="#111" stroke-width="0.8"/>
<text x="501.00" y="446.50" font-size="6.6" text-anchor="middle" fill="#333" textLength="15.8" lengthAdjust="spacingAndGlyphs">G2/M</text>
<text x="465.00" y="367.30" font-size="8.8" text-anchor="middle">HH</text>
<text x="400.50" y="402.80" font-size="7.2" text-anchor="middle" fill="#1a1a1a" textLength="31" lengthAdjust="spacingAndGlyphs" transform="rotate(-90 400.50 402.80)" stroke="#1a1a1a" stroke-width="0.3">% Cell cycle</text>
<path d="M496.80 409.10V411.30M496.80 410.20H506.00M506.00 409.10V411.30" stroke="#333" stroke-width="0.7" fill="none"/>
<text x="501.40" y="409.60" font-size="6.2" text-anchor="middle" fill="#333">*</text>
<rect x="433.10" y="450.70" width="4.40" height="4.30" fill="#154b8c"/>
<text x="439.90" y="454.80" font-size="6.6" fill="#333" textLength="19" lengthAdjust="spacingAndGlyphs">Control</text>
<rect x="464.30" y="450.70" width="4.40" height="4.30" fill="#cc0a2a"/>
<text x="470.30" y="454.80" font-size="6.6" fill="#333" textLength="27.6" lengthAdjust="spacingAndGlyphs">LY500307</text>
<text x="87.50" y="470.70" font-size="5.9" text-anchor="middle" fill="#2a2a2a" textLength="46" lengthAdjust="spacingAndGlyphs">A01 HUT DMSO</text>
<text x="87.50" y="476.90" font-size="5.9" text-anchor="middle" fill="#2a2a2a" textLength="43.8" lengthAdjust="spacingAndGlyphs">Gate: (Cell cycle</text>
<text x="87.50" y="483.10" font-size="5.9" text-anchor="middle" fill="#2a2a2a" textLength="32.6" lengthAdjust="spacingAndGlyphs">HUT in HUT)</text>
<path d="M81.20 543.40L82.40 538.00L83.40 528.00L84.20 518.30L85.00 527.00L85.80 537.00L86.50 543.40Z" fill="#f0a020" opacity="1"/>
<path d="M86.30 543.40L86.30 539.60L88.00 540.20L90.00 539.00L92.00 540.30L94.00 539.30L96.00 540.20L97.80 539.30L97.80 543.40Z" fill="#2e9a2e" opacity="1"/>
<path d="M97.70 543.40L97.90 539.20L99.00 537.60L99.80 536.20L100.80 538.00L101.90 543.40Z" fill="#dd1a1a" opacity="1"/>
<path d="M59.50 543.40V487.40H114.90V543.40" fill="none" stroke="#3a3a3a" stroke-width="0.8"/>
<line x1="56.70" y1="543.40" x2="114.90" y2="543.40" stroke="#222" stroke-width="1.0"/>
<line x1="59.50" y1="543.40" x2="59.50" y2="545.00" stroke="#222" stroke-width="0.6"/>
<line x1="66.42" y1="543.40" x2="66.42" y2="544.30" stroke="#222" stroke-width="0.6"/>
<line x1="73.35" y1="543.40" x2="73.35" y2="544.30" stroke="#222" stroke-width="0.6"/>
<line x1="80.28" y1="543.40" x2="80.28" y2="544.30" stroke="#222" stroke-width="0.6"/>
<line x1="87.20" y1="543.40" x2="87.20" y2="545.00" stroke="#222" stroke-width="0.6"/>
<line x1="94.12" y1="543.40" x2="94.12" y2="544.30" stroke="#222" stroke-width="0.6"/>
<line x1="101.05" y1="543.40" x2="101.05" y2="544.30" stroke="#222" stroke-width="0.6"/>
<line x1="107.98" y1="543.40" x2="107.98" y2="544.30" stroke="#222" stroke-width="0.6"/>
<line x1="114.90" y1="543.40" x2="114.90" y2="545.00" stroke="#222" stroke-width="0.6"/>
<line x1="56.70" y1="487.60" x2="59.50" y2="487.60" stroke="#222" stroke-width="0.8"/>
<text x="54.00" y="489.80" font-size="6.2" text-anchor="end">600</text>
<line x1="56.70" y1="506.30" x2="59.50" y2="506.30" stroke="#222" stroke-width="0.8"/>
<text x="54.00" y="508.50" font-size="6.2" text-anchor="end">400</text>
<line x1="56.70" y1="524.90" x2="59.50" y2="524.90" stroke="#222" stroke-width="0.8"/>
<text x="54.00" y="527.10" font-size="6.2" text-anchor="end">200</text>
<line x1="56.70" y1="543.40" x2="59.50" y2="543.40" stroke="#222" stroke-width="0.8"/>
<text x="54.00" y="545.60" font-size="6.2" text-anchor="end">0</text>
<text x="60.50" y="554.60" font-size="5.4" text-anchor="middle" fill="#3a3a3a">10<tspan font-size="3.0" dy="-2.1">1.4</tspan></text>
<text x="93.30" y="554.60" font-size="5.4" text-anchor="middle" fill="#3a3a3a">10<tspan font-size="3.0" dy="-2.1">0</tspan></text>
<text x="114.60" y="554.60" font-size="5.4" text-anchor="middle" fill="#3a3a3a">10<tspan font-size="3.0" dy="-2.1">5.4</tspan></text>
<text x="88.50" y="563.20" font-size="7.9" text-anchor="middle" font-weight="bold" textLength="12" lengthAdjust="spacingAndGlyphs">PE-A</text>
<text x="36.90" y="515.90" font-size="7.7" text-anchor="middle" font-weight="bold" textLength="15" lengthAdjust="spacingAndGlyphs" transform="rotate(-90 36.90 515.90)">Count</text>
<text x="66.00" y="493.40" font-size="3.7" fill="#e8a048">G0/G1</text>
<text x="66.00" y="497.70" font-size="3.7" fill="#e8a048">43.0%</text>
<path d="M81.00 493.00V495.60M81.00 494.30H86.30M86.30 493.00V495.60" stroke="#d89030" stroke-width="0.6" fill="none"/>
<text x="97.20" y="491.60" font-size="3.7" fill="#d83030">G2/M</text>
<text x="97.20" y="495.90" font-size="3.7" fill="#d83030">16.1%</text>
<path d="M96.60 498.80V501.40M96.60 500.10H103.60M103.60 498.80V501.40" stroke="#c83030" stroke-width="0.6" fill="none"/>
<text x="86.30" y="507.00" font-size="3.7" fill="#4aa04a">S</text>
<text x="86.30" y="511.30" font-size="3.7" fill="#4aa04a">26.1%</text>
<path d="M86.30 513.10V515.70M86.30 514.40H97.80M97.80 513.10V515.70" stroke="#3a9a4a" stroke-width="0.6" fill="none"/>
<text x="60.30" y="508.10" font-size="3.7" fill="#6a5cc0">Apo</text>
<text x="60.30" y="512.40" font-size="3.7" fill="#6a5cc0">8.1%</text>
<path d="M59.70 513.30H81.60M81.60 512.00V514.60" stroke="#6a5cc0" stroke-width="0.6" fill="none"/>
<text x="215.50" y="470.70" font-size="5.9" text-anchor="middle" fill="#2a2a2a" textLength="46" lengthAdjust="spacingAndGlyphs">A01 HUT DMSO</text>
<text x="215.50" y="476.90" font-size="5.9" text-anchor="middle" fill="#2a2a2a" textLength="43.8" lengthAdjust="spacingAndGlyphs">Gate: (Cell cycle</text>
<text x="215.50" y="483.10" font-size="5.9" text-anchor="middle" fill="#2a2a2a" textLength="32.6" lengthAdjust="spacingAndGlyphs">HUT in HUT)</text>
<path d="M209.20 543.40L210.40 538.00L211.40 528.00L212.20 518.30L213.00 527.00L213.80 537.00L214.50 543.40Z" fill="#f0a020" opacity="1"/>
<path d="M214.30 543.40L214.30 539.60L216.00 540.20L218.00 539.00L220.00 540.30L222.00 539.30L224.00 540.20L225.80 539.30L225.80 543.40Z" fill="#2e9a2e" opacity="1"/>
<path d="M225.70 543.40L225.90 539.20L227.00 537.60L227.80 536.20L228.80 538.00L229.90 543.40Z" fill="#dd1a1a" opacity="1"/>
<path d="M187.50 543.40V487.40H242.90V543.40" fill="none" stroke="#3a3a3a" stroke-width="0.8"/>
<line x1="184.70" y1="543.40" x2="242.90" y2="543.40" stroke="#222" stroke-width="1.0"/>
<line x1="187.50" y1="543.40" x2="187.50" y2="545.00" stroke="#222" stroke-width="0.6"/>
<line x1="194.43" y1="543.40" x2="194.43" y2="544.30" stroke="#222" stroke-width="0.6"/>
<line x1="201.35" y1="543.40" x2="201.35" y2="544.30" stroke="#222" stroke-width="0.6"/>
<line x1="208.28" y1="543.40" x2="208.28" y2="544.30" stroke="#222" stroke-width="0.6"/>
<line x1="215.20" y1="543.40" x2="215.20" y2="545.00" stroke="#222" stroke-width="0.6"/>
<line x1="222.12" y1="543.40" x2="222.12" y2="544.30" stroke="#222" stroke-width="0.6"/>
<line x1="229.05" y1="543.40" x2="229.05" y2="544.30" stroke="#222" stroke-width="0.6"/>
<line x1="235.98" y1="543.40" x2="235.98" y2="544.30" stroke="#222" stroke-width="0.6"/>
<line x1="242.90" y1="543.40" x2="242.90" y2="545.00" stroke="#222" stroke-width="0.6"/>
<line x1="184.70" y1="487.60" x2="187.50" y2="487.60" stroke="#222" stroke-width="0.8"/>
<text x="182.00" y="489.80" font-size="6.2" text-anchor="end">600</text>
<line x1="184.70" y1="506.30" x2="187.50" y2="506.30" stroke="#222" stroke-width="0.8"/>
<text x="182.00" y="508.50" font-size="6.2" text-anchor="end">400</text>
<line x1="184.70" y1="524.90" x2="187.50" y2="524.90" stroke="#222" stroke-width="0.8"/>
<text x="182.00" y="527.10" font-size="6.2" text-anchor="end">200</text>
<line x1="184.70" y1="543.40" x2="187.50" y2="543.40" stroke="#222" stroke-width="0.8"/>
<text x="182.00" y="545.60" font-size="6.2" text-anchor="end">0</text>
<text x="188.50" y="554.60" font-size="5.4" text-anchor="middle" fill="#3a3a3a">10<tspan font-size="3.0" dy="-2.1">1.4</tspan></text>
<text x="221.30" y="554.60" font-size="5.4" text-anchor="middle" fill="#3a3a3a">10<tspan font-size="3.0" dy="-2.1">0</tspan></text>
<text x="242.60" y="554.60" font-size="5.4" text-anchor="middle" fill="#3a3a3a">10<tspan font-size="3.0" dy="-2.1">5.4</tspan></text>
<text x="216.50" y="563.20" font-size="7.9" text-anchor="middle" font-weight="bold" textLength="12" lengthAdjust="spacingAndGlyphs">PE-A</text>
<text x="164.90" y="515.90" font-size="7.7" text-anchor="middle" font-weight="bold" textLength="15" lengthAdjust="spacingAndGlyphs" transform="rotate(-90 164.90 515.90)">Count</text>
<text x="194.00" y="493.40" font-size="3.7" fill="#e8a048">G0/G1</text>
<text x="194.00" y="497.70" font-size="3.7" fill="#e8a048">43.0%</text>
<path d="M209.00 493.00V495.60M209.00 494.30H214.30M214.30 493.00V495.60" stroke="#d89030" stroke-width="0.6" fill="none"/>
<text x="225.20" y="491.60" font-size="3.7" fill="#d83030">G2/M</text>
<text x="225.20" y="495.90" font-size="3.7" fill="#d83030">16.1%</text>
<path d="M224.60 498.80V501.40M224.60 500.10H231.60M231.60 498.80V501.40" stroke="#c83030" stroke-width="0.6" fill="none"/>
<text x="214.30" y="507.00" font-size="3.7" fill="#4aa04a">S</text>
<text x="214.30" y="511.30" font-size="3.7" fill="#4aa04a">26.1%</text>
<path d="M214.30 513.10V515.70M214.30 514.40H225.80M225.80 513.10V515.70" stroke="#3a9a4a" stroke-width="0.6" fill="none"/>
<text x="188.30" y="508.10" font-size="3.7" fill="#6a5cc0">Apo</text>
<text x="188.30" y="512.40" font-size="3.7" fill="#6a5cc0">8.1%</text>
<path d="M187.70 513.30H209.60M209.60 512.00V514.60" stroke="#6a5cc0" stroke-width="0.6" fill="none"/>
<text x="87.50" y="573.50" font-size="5.9" text-anchor="middle" fill="#2a2a2a" textLength="49" lengthAdjust="spacingAndGlyphs">A02 HUT LY 10uM</text>
<text x="87.50" y="579.70" font-size="5.9" text-anchor="middle" fill="#2a2a2a" textLength="43.8" lengthAdjust="spacingAndGlyphs">Gate: (Cell cycle</text>
<text x="87.50" y="585.90" font-size="5.9" text-anchor="middle" fill="#2a2a2a" textLength="32.6" lengthAdjust="spacingAndGlyphs">HUT in HUT)</text>
<path d="M76.00 646.20L77.50 645.00L79.00 645.40L80.80 644.70L80.80 646.20Z" fill="#333" opacity="1"/>
<path d="M80.80 646.20L82.00 644.40L83.50 642.80L85.00 644.20L86.50 643.70L86.50 646.20Z" fill="#f0a020" opacity="1"/>
<path d="M86.50 646.20L86.50 644.00L89.00 642.60L92.00 643.80L94.50 642.80L97.30 643.40L97.30 646.20Z" fill="#2e9a2e" opacity="1"/>
<path d="M97.30 646.20L98.20 640.20L99.40 635.20L100.00 631.00L100.80 636.20L101.60 642.20L102.40 646.20Z" fill="#dd1a1a" opacity="1"/>
<path d="M59.50 646.20V590.20H114.90V646.20" fill="none" stroke="#3a3a3a" stroke-width="0.8"/>
<line x1="56.70" y1="646.20" x2="114.90" y2="646.20" stroke="#222" stroke-width="1.0"/>
<line x1="59.50" y1="646.20" x2="59.50" y2="647.80" stroke="#222" stroke-width="0.6"/>
<line x1="66.42" y1="646.20" x2="66.42" y2="647.10" stroke="#222" stroke-width="0.6"/>
<line x1="73.35" y1="646.20" x2="73.35" y2="647.10" stroke="#222" stroke-width="0.6"/>
<line x1="80.28" y1="646.20" x2="80.28" y2="647.10" stroke="#222" stroke-width="0.6"/>
<line x1="87.20" y1="646.20" x2="87.20" y2="647.80" stroke="#222" stroke-width="0.6"/>
<line x1="94.12" y1="646.20" x2="94.12" y2="647.10" stroke="#222" stroke-width="0.6"/>
<line x1="101.05" y1="646.20" x2="101.05" y2="647.10" stroke="#222" stroke-width="0.6"/>
<line x1="107.98" y1="646.20" x2="107.98" y2="647.10" stroke="#222" stroke-width="0.6"/>
<line x1="114.90" y1="646.20" x2="114.90" y2="647.80" stroke="#222" stroke-width="0.6"/>
<line x1="56.70" y1="590.40" x2="59.50" y2="590.40" stroke="#222" stroke-width="0.8"/>
<text x="54.00" y="592.60" font-size="6.2" text-anchor="end">600</text>
<line x1="56.70" y1="609.10" x2="59.50" y2="609.10" stroke="#222" stroke-width="0.8"/>
<text x="54.00" y="611.30" font-size="6.2" text-anchor="end">400</text>
<line x1="56.70" y1="627.70" x2="59.50" y2="627.70" stroke="#222" stroke-width="0.8"/>
<text x="54.00" y="629.90" font-size="6.2" text-anchor="end">200</text>
<line x1="56.70" y1="646.20" x2="59.50" y2="646.20" stroke="#222" stroke-width="0.8"/>
<text x="54.00" y="648.40" font-size="6.2" text-anchor="end">0</text>
<text x="60.50" y="657.40" font-size="5.4" text-anchor="middle" fill="#3a3a3a">10<tspan font-size="3.0" dy="-2.1">1.4</tspan></text>
<text x="93.30" y="657.40" font-size="5.4" text-anchor="middle" fill="#3a3a3a">10<tspan font-size="3.0" dy="-2.1">0</tspan></text>
<text x="114.60" y="657.40" font-size="5.4" text-anchor="middle" fill="#3a3a3a">10<tspan font-size="3.0" dy="-2.1">5.4</tspan></text>
<text x="88.50" y="666.00" font-size="7.9" text-anchor="middle" font-weight="bold" textLength="12" lengthAdjust="spacingAndGlyphs">PE-A</text>
<text x="36.90" y="618.70" font-size="7.7" text-anchor="middle" font-weight="bold" textLength="15" lengthAdjust="spacingAndGlyphs" transform="rotate(-90 36.90 618.70)">Count</text>
<text x="66.30" y="596.20" font-size="3.7" fill="#e8a048">G0/G1</text>
<text x="66.30" y="600.50" font-size="3.7" fill="#e8a048">13.0%</text>
<path d="M80.80 595.30V597.90M80.80 596.60H86.50M86.50 595.30V597.90" stroke="#d89030" stroke-width="0.6" fill="none"/>
<text x="97.10" y="594.00" font-size="3.7" fill="#d83030">G2/M</text>
<text x="97.10" y="598.30" font-size="3.7" fill="#d83030">44.6%</text>
<path d="M96.50 601.80V604.40M96.50 603.10H103.50M103.50 601.80V604.40" stroke="#c83030" stroke-width="0.6" fill="none"/>
<text x="86.20" y="609.20" font-size="3.7" fill="#4aa04a">S</text>
<text x="86.20" y="613.50" font-size="3.7" fill="#4aa04a">18.8%</text>
<path d="M86.50 616.80V619.40M86.50 618.10H97.70M97.70 616.80V619.40" stroke="#3a9a4a" stroke-width="0.6" fill="none"/>
<text x="60.20" y="610.40" font-size="3.7" fill="#6a5cc0">Apo</text>
<text x="60.20" y="614.70" font-size="3.7" fill="#6a5cc0">7.0%</text>
<path d="M59.50 616.60H81.30M81.30 615.30V617.90" stroke="#6a5cc0" stroke-width="0.6" fill="none"/>
<text x="215.50" y="573.50" font-size="5.9" text-anchor="middle" fill="#2a2a2a" textLength="49" lengthAdjust="spacingAndGlyphs">A02 HUT LY 10uM</text>
<text x="215.50" y="579.70" font-size="5.9" text-anchor="middle" fill="#2a2a2a" textLength="43.8" lengthAdjust="spacingAndGlyphs">Gate: (Cell cycle</text>
<text x="215.50" y="585.90" font-size="5.9" text-anchor="middle" fill="#2a2a2a" textLength="32.6" lengthAdjust="spacingAndGlyphs">HUT in HUT)</text>
<path d="M204.00 646.20L205.50 645.00L207.00 645.40L208.80 644.70L208.80 646.20Z" fill="#333" opacity="1"/>
<path d="M208.80 646.20L210.00 644.40L211.50 642.80L213.00 644.20L214.50 643.70L214.50 646.20Z" fill="#f0a020" opacity="1"/>
<path d="M214.50 646.20L214.50 644.00L217.00 642.60L220.00 643.80L222.50 642.80L225.30 643.40L225.30 646.20Z" fill="#2e9a2e" opacity="1"/>
<path d="M225.30 646.20L226.20 640.20L227.40 635.20L228.00 631.00L228.80 636.20L229.60 642.20L230.40 646.20Z" fill="#dd1a1a" opacity="1"/>
<path d="M187.50 646.20V590.20H242.90V646.20" fill="none" stroke="#3a3a3a" stroke-width="0.8"/>
<line x1="184.70" y1="646.20" x2="242.90" y2="646.20" stroke="#222" stroke-width="1.0"/>
<line x1="187.50" y1="646.20" x2="187.50" y2="647.80" stroke="#222" stroke-width="0.6"/>
<line x1="194.43" y1="646.20" x2="194.43" y2="647.10" stroke="#222" stroke-width="0.6"/>
<line x1="201.35" y1="646.20" x2="201.35" y2="647.10" stroke="#222" stroke-width="0.6"/>
<line x1="208.28" y1="646.20" x2="208.28" y2="647.10" stroke="#222" stroke-width="0.6"/>
<line x1="215.20" y1="646.20" x2="215.20" y2="647.80" stroke="#222" stroke-width="0.6"/>
<line x1="222.12" y1="646.20" x2="222.12" y2="647.10" stroke="#222" stroke-width="0.6"/>
<line x1="229.05" y1="646.20" x2="229.05" y2="647.10" stroke="#222" stroke-width="0.6"/>
<line x1="235.98" y1="646.20" x2="235.98" y2="647.10" stroke="#222" stroke-width="0.6"/>
<line x1="242.90" y1="646.20" x2="242.90" y2="647.80" stroke="#222" stroke-width="0.6"/>
<line x1="184.70" y1="590.40" x2="187.50" y2="590.40" stroke="#222" stroke-width="0.8"/>
<text x="182.00" y="592.60" font-size="6.2" text-anchor="end">600</text>
<line x1="184.70" y1="609.10" x2="187.50" y2="609.10" stroke="#222" stroke-width="0.8"/>
<text x="182.00" y="611.30" font-size="6.2" text-anchor="end">400</text>
<line x1="184.70" y1="627.70" x2="187.50" y2="627.70" stroke="#222" stroke-width="0.8"/>
<text x="182.00" y="629.90" font-size="6.2" text-anchor="end">200</text>
<line x1="184.70" y1="646.20" x2="187.50" y2="646.20" stroke="#222" stroke-width="0.8"/>
<text x="182.00" y="648.40" font-size="6.2" text-anchor="end">0</text>
<text x="188.50" y="657.40" font-size="5.4" text-anchor="middle" fill="#3a3a3a">10<tspan font-size="3.0" dy="-2.1">1.4</tspan></text>
<text x="221.30" y="657.40" font-size="5.4" text-anchor="middle" fill="#3a3a3a">10<tspan font-size="3.0" dy="-2.1">0</tspan></text>
<text x="242.60" y="657.40" font-size="5.4" text-anchor="middle" fill="#3a3a3a">10<tspan font-size="3.0" dy="-2.1">5.4</tspan></text>
<text x="216.50" y="666.00" font-size="7.9" text-anchor="middle" font-weight="bold" textLength="12" lengthAdjust="spacingAndGlyphs">PE-A</text>
<text x="164.90" y="618.70" font-size="7.7" text-anchor="middle" font-weight="bold" textLength="15" lengthAdjust="spacingAndGlyphs" transform="rotate(-90 164.90 618.70)">Count</text>
<text x="194.30" y="596.20" font-size="3.7" fill="#e8a048">G0/G1</text>
<text x="194.30" y="600.50" font-size="3.7" fill="#e8a048">13.0%</text>
<path d="M208.80 595.30V597.90M208.80 596.60H214.50M214.50 595.30V597.90" stroke="#d89030" stroke-width="0.6" fill="none"/>
<text x="225.10" y="594.00" font-size="3.7" fill="#d83030">G2/M</text>
<text x="225.10" y="598.30" font-size="3.7" fill="#d83030">44.6%</text>
<path d="M224.50 601.80V604.40M224.50 603.10H231.50M231.50 601.80V604.40" stroke="#c83030" stroke-width="0.6" fill="none"/>
<text x="214.20" y="609.20" font-size="3.7" fill="#4aa04a">S</text>
<text x="214.20" y="613.50" font-size="3.7" fill="#4aa04a">18.8%</text>
<path d="M214.50 616.80V619.40M214.50 618.10H225.70M225.70 616.80V619.40" stroke="#3a9a4a" stroke-width="0.6" fill="none"/>
<text x="188.20" y="610.40" font-size="3.7" fill="#6a5cc0">Apo</text>
<text x="188.20" y="614.70" font-size="3.7" fill="#6a5cc0">7.0%</text>
<path d="M187.50 616.60H209.30M209.30 615.30V617.90" stroke="#6a5cc0" stroke-width="0.6" fill="none"/>
<text x="339.20" y="470.70" font-size="5.9" text-anchor="middle" fill="#2a2a2a">C01 SeAx DMSO</text>
<text x="339.20" y="476.90" font-size="5.9" text-anchor="middle" fill="#2a2a2a">Gate: (Cell cycle</text>
<text x="339.20" y="483.10" font-size="5.9" text-anchor="middle" fill="#2a2a2a">SeAx in SeAx)</text>
<path d="M334.80 543.40L336.00 536.00L337.20 525.00L338.00 515.50L338.70 512.30L339.50 518.00L340.20 530.00L341.20 543.40Z" fill="#f0a020" opacity="1"/>
<path d="M341.00 543.40L341.00 540.80L343.00 541.00L345.50 540.20L348.00 541.00L350.50 540.40L354.00 540.60L354.00 543.40Z" fill="#2e9a2e" opacity="1"/>
<path d="M353.80 543.40L354.20 540.00L356.00 538.60L357.50 537.80L358.80 539.00L359.90 543.40Z" fill="#dd1a1a" opacity="1"/>
<path d="M311.40 543.40V487.40H366.80V543.40" fill="none" stroke="#3a3a3a" stroke-width="0.8"/>
<line x1="308.60" y1="543.40" x2="366.80" y2="543.40" stroke="#222" stroke-width="1.0"/>
<line x1="311.40" y1="543.40" x2="311.40" y2="545.00" stroke="#222" stroke-width="0.6"/>
<line x1="318.32" y1="543.40" x2="318.32" y2="544.30" stroke="#222" stroke-width="0.6"/>
<line x1="325.25" y1="543.40" x2="325.25" y2="544.30" stroke="#222" stroke-width="0.6"/>
<line x1="332.18" y1="543.40" x2="332.18" y2="544.30" stroke="#222" stroke-width="0.6"/>
<line x1="339.10" y1="543.40" x2="339.10" y2="545.00" stroke="#222" stroke-width="0.6"/>
<line x1="346.02" y1="543.40" x2="346.02" y2="544.30" stroke="#222" stroke-width="0.6"/>
<line x1="352.95" y1="543.40" x2="352.95" y2="544.30" stroke="#222" stroke-width="0.6"/>
<line x1="359.88" y1="543.40" x2="359.88" y2="544.30" stroke="#222" stroke-width="0.6"/>
<line x1="366.80" y1="543.40" x2="366.80" y2="545.00" stroke="#222" stroke-width="0.6"/>
<line x1="308.60" y1="487.60" x2="311.40" y2="487.60" stroke="#222" stroke-width="0.8"/>
<text x="305.90" y="489.80" font-size="6.2" text-anchor="end">600</text>
<line x1="308.60" y1="498.60" x2="311.40" y2="498.60" stroke="#222" stroke-width="0.8"/>
<text x="305.90" y="500.80" font-size="6.2" text-anchor="end">400</text>
<line x1="308.60" y1="521.30" x2="311.40" y2="521.30" stroke="#222" stroke-width="0.8"/>
<text x="305.90" y="523.50" font-size="6.2" text-anchor="end">200</text>
<line x1="308.60" y1="543.40" x2="311.40" y2="543.40" stroke="#222" stroke-width="0.8"/>
<text x="305.90" y="545.60" font-size="6.2" text-anchor="end">0</text>
<text x="312.30" y="554.60" font-size="5.4" text-anchor="middle" fill="#3a3a3a">10<tspan font-size="3.0" dy="-2.1">1.4</tspan></text>
<text x="350.70" y="554.60" font-size="5.4" text-anchor="middle" fill="#3a3a3a">10<tspan font-size="3.0" dy="-2.1">0</tspan></text>
<text x="367.10" y="554.60" font-size="5.4" text-anchor="middle" fill="#3a3a3a">10<tspan font-size="3.0" dy="-2.1">2.2</tspan></text>
<text x="339.60" y="563.20" font-size="7.9" text-anchor="middle" font-weight="bold" textLength="12" lengthAdjust="spacingAndGlyphs">PE-A</text>
<text x="289.10" y="515.90" font-size="7.7" text-anchor="middle" font-weight="bold" textLength="15" lengthAdjust="spacingAndGlyphs" transform="rotate(-90 289.10 515.90)">Count</text>
<text x="320.40" y="494.00" font-size="3.7" fill="#e8a048">G0/G1</text>
<text x="320.40" y="498.30" font-size="3.7" fill="#e8a048">44.8%</text>
<path d="M334.80 493.70V496.30M334.80 495.00H341.60M341.60 493.70V496.30" stroke="#d89030" stroke-width="0.6" fill="none"/>
<text x="352.50" y="493.60" font-size="3.7" fill="#d83030">G2/M</text>
<text x="352.50" y="497.90" font-size="3.7" fill="#d83030">16.1%</text>
<path d="M355.00 499.70V502.30M355.00 501.00H363.30M363.30 499.70V502.30" stroke="#c83030" stroke-width="0.6" fill="none"/>
<text x="342.50" y="513.40" font-size="3.7" fill="#4aa04a">S</text>
<text x="342.50" y="517.70" font-size="3.7" fill="#4aa04a">28.2%</text>
<path d="M341.60 518.70V521.30M341.60 520.00H355.60M355.60 518.70V521.30" stroke="#3a9a4a" stroke-width="0.6" fill="none"/>
<text x="319.50" y="517.00" font-size="3.7" fill="#6a5cc0">Apo</text>
<text x="319.50" y="521.30" font-size="3.7" fill="#6a5cc0">3.4%</text>
<path d="M311.40 522.00H334.50M334.50 520.70V523.30" stroke="#6a5cc0" stroke-width="0.6" fill="none"/>
<text x="339.20" y="573.50" font-size="5.9" text-anchor="middle" fill="#2a2a2a">C02 SeAx LY 10uM</text>
<text x="339.20" y="579.70" font-size="5.9" text-anchor="middle" fill="#2a2a2a">Gate: (Cell cycle</text>
<text x="339.20" y="585.90" font-size="5.9" text-anchor="middle" fill="#2a2a2a">SeAx in SeAx)</text>
<path d="M330.60 646.20L331.80 643.50L332.80 638.00L333.40 629.70L334.20 638.00L335.20 643.50L336.20 646.20Z" fill="#f0a020" opacity="1"/>
<path d="M336.00 646.20L336.00 643.60L338.50 643.00L341.00 642.00L343.50 641.40L346.00 640.00L348.00 639.20L348.00 646.20Z" fill="#2e9a2e" opacity="1"/>
<path d="M347.80 646.20L348.40 639.00L349.60 626.00L350.70 618.40L351.80 628.00L352.60 640.00L353.40 646.20Z" fill="#dd1a1a" opacity="1"/>
<path d="M311.40 646.20V590.20H366.80V646.20" fill="none" stroke="#3a3a3a" stroke-width="0.8"/>
<line x1="308.60" y1="646.20" x2="366.80" y2="646.20" stroke="#222" stroke-width="1.0"/>
<line x1="311.40" y1="646.20" x2="311.40" y2="647.80" stroke="#222" stroke-width="0.6"/>
<line x1="318.32" y1="646.20" x2="318.32" y2="647.10" stroke="#222" stroke-width="0.6"/>
<line x1="325.25" y1="646.20" x2="325.25" y2="647.10" stroke="#222" stroke-width="0.6"/>
<line x1="332.18" y1="646.20" x2="332.18" y2="647.10" stroke="#222" stroke-width="0.6"/>
<line x1="339.10" y1="646.20" x2="339.10" y2="647.80" stroke="#222" stroke-width="0.6"/>
<line x1="346.02" y1="646.20" x2="346.02" y2="647.10" stroke="#222" stroke-width="0.6"/>
<line x1="352.95" y1="646.20" x2="352.95" y2="647.10" stroke="#222" stroke-width="0.6"/>
<line x1="359.88" y1="646.20" x2="359.88" y2="647.10" stroke="#222" stroke-width="0.6"/>
<line x1="366.80" y1="646.20" x2="366.80" y2="647.80" stroke="#222" stroke-width="0.6"/>
<line x1="308.60" y1="590.40" x2="311.40" y2="590.40" stroke="#222" stroke-width="0.8"/>
<text x="305.90" y="592.60" font-size="6.2" text-anchor="end">600</text>
<line x1="308.60" y1="601.40" x2="311.40" y2="601.40" stroke="#222" stroke-width="0.8"/>
<text x="305.90" y="603.60" font-size="6.2" text-anchor="end">400</text>
<line x1="308.60" y1="624.10" x2="311.40" y2="624.10" stroke="#222" stroke-width="0.8"/>
<text x="305.90" y="626.30" font-size="6.2" text-anchor="end">200</text>
<line x1="308.60" y1="646.20" x2="311.40" y2="646.20" stroke="#222" stroke-width="0.8"/>
<text x="305.90" y="648.40" font-size="6.2" text-anchor="end">0</text>
<text x="312.30" y="657.40" font-size="5.4" text-anchor="middle" fill="#3a3a3a">10<tspan font-size="3.0" dy="-2.1">1.4</tspan></text>
<text x="350.70" y="657.40" font-size="5.4" text-anchor="middle" fill="#3a3a3a">10<tspan font-size="3.0" dy="-2.1">0</tspan></text>
<text x="367.10" y="657.40" font-size="5.4" text-anchor="middle" fill="#3a3a3a">10<tspan font-size="3.0" dy="-2.1">2.2</tspan></text>
<text x="339.60" y="666.00" font-size="7.9" text-anchor="middle" font-weight="bold" textLength="12" lengthAdjust="spacingAndGlyphs">PE-A</text>
<text x="289.10" y="618.70" font-size="7.7" text-anchor="middle" font-weight="bold" textLength="15" lengthAdjust="spacingAndGlyphs" transform="rotate(-90 289.10 618.70)">Count</text>
<text x="315.20" y="598.50" font-size="3.7" fill="#e8a048">G0/G1</text>
<text x="315.20" y="602.80" font-size="3.7" fill="#e8a048">35.4%</text>
<path d="M329.50 598.60V601.20M329.50 599.90H336.40M336.40 598.60V601.20" stroke="#d89030" stroke-width="0.6" fill="none"/>
<text x="346.10" y="603.80" font-size="3.7" fill="#d83030">G2/M</text>
<text x="346.10" y="608.10" font-size="3.7" fill="#d83030">41.3%</text>
<path d="M348.50 612.10V614.70M348.50 613.40H354.50M354.50 612.10V614.70" stroke="#c83030" stroke-width="0.6" fill="none"/>
<text x="336.60" y="613.40" font-size="3.7" fill="#4aa04a">S</text>
<text x="336.60" y="617.70" font-size="3.7" fill="#4aa04a">24.2%</text>
<path d="M336.40 619.50V622.10M336.40 620.80H348.50M348.50 619.50V622.10" stroke="#3a9a4a" stroke-width="0.6" fill="none"/>
<text x="317.00" y="618.20" font-size="3.7" fill="#6a5cc0">Apo</text>
<text x="317.00" y="622.50" font-size="3.7" fill="#6a5cc0">1.1%</text>
<path d="M311.60 624.30H330.00M330.00 623.00V625.60" stroke="#6a5cc0" stroke-width="0.6" fill="none"/>
<text x="463.80" y="470.70" font-size="5.9" text-anchor="middle" fill="#2a2a2a">D01 HH DMSO</text>
<text x="463.80" y="476.90" font-size="5.9" text-anchor="middle" fill="#2a2a2a">Gate: (Cell cycle</text>
<text x="463.80" y="483.10" font-size="5.9" text-anchor="middle" fill="#2a2a2a">HH in HH)</text>
<path d="M459.80 543.40L460.40 534.00L461.00 515.00L461.90 507.00L462.80 514.00L463.50 530.00L464.40 543.40Z" fill="#f0a020" opacity="1"/>
<path d="M464.80 543.40L464.80 541.90L467.00 541.40L470.00 541.90L473.00 541.20L475.30 541.60L475.30 543.40Z" fill="#2e9a2e" opacity="1"/>
<path d="M475.20 543.40L476.40 540.00L477.40 538.00L478.20 536.40L479.20 539.00L480.30 543.40Z" fill="#dd1a1a" opacity="1"/>
<path d="M435.50 543.40V487.40H491.60V543.40" fill="none" stroke="#3a3a3a" stroke-width="0.8"/>
<line x1="432.70" y1="543.40" x2="491.60" y2="543.40" stroke="#222" stroke-width="1.0"/>
<line x1="435.50" y1="543.40" x2="435.50" y2="545.00" stroke="#222" stroke-width="0.6"/>
<line x1="442.51" y1="543.40" x2="442.51" y2="544.30" stroke="#222" stroke-width="0.6"/>
<line x1="449.52" y1="543.40" x2="449.52" y2="544.30" stroke="#222" stroke-width="0.6"/>
<line x1="456.54" y1="543.40" x2="456.54" y2="544.30" stroke="#222" stroke-width="0.6"/>
<line x1="463.55" y1="543.40" x2="463.55" y2="545.00" stroke="#222" stroke-width="0.6"/>
<line x1="470.56" y1="543.40" x2="470.56" y2="544.30" stroke="#222" stroke-width="0.6"/>
<line x1="477.58" y1="543.40" x2="477.58" y2="544.30" stroke="#222" stroke-width="0.6"/>
<line x1="484.59" y1="543.40" x2="484.59" y2="544.30" stroke="#222" stroke-width="0.6"/>
<line x1="491.60" y1="543.40" x2="491.60" y2="545.00" stroke="#222" stroke-width="0.6"/>
<line x1="432.70" y1="487.60" x2="435.50" y2="487.60" stroke="#222" stroke-width="0.8"/>
<text x="430.00" y="489.80" font-size="6.2" text-anchor="end">600</text>
<line x1="432.70" y1="498.60" x2="435.50" y2="498.60" stroke="#222" stroke-width="0.8"/>
<text x="430.00" y="500.80" font-size="6.2" text-anchor="end">400</text>
<line x1="432.70" y1="521.50" x2="435.50" y2="521.50" stroke="#222" stroke-width="0.8"/>
<text x="430.00" y="523.70" font-size="6.2" text-anchor="end">200</text>
<line x1="432.70" y1="543.40" x2="435.50" y2="543.40" stroke="#222" stroke-width="0.8"/>
<text x="430.00" y="545.60" font-size="6.2" text-anchor="end">0</text>
<text x="436.00" y="554.60" font-size="5.4" text-anchor="middle" fill="#3a3a3a">10<tspan font-size="3.0" dy="-2.1">1.3</tspan></text>
<text x="467.20" y="554.60" font-size="5.4" text-anchor="middle" fill="#3a3a3a">10<tspan font-size="3.0" dy="-2.1">0</tspan></text>
<text x="490.70" y="554.60" font-size="5.4" text-anchor="middle" fill="#3a3a3a">10<tspan font-size="3.0" dy="-2.1">4.4</tspan></text>
<text x="463.80" y="563.20" font-size="7.9" text-anchor="middle" font-weight="bold" textLength="12" lengthAdjust="spacingAndGlyphs">PE-A</text>
<text x="413.10" y="515.90" font-size="7.7" text-anchor="middle" font-weight="bold" textLength="15" lengthAdjust="spacingAndGlyphs" transform="rotate(-90 413.10 515.90)">Count</text>
<text x="446.50" y="492.60" font-size="3.7" fill="#e8a048">G0/G1</text>
<text x="446.50" y="496.90" font-size="3.7" fill="#e8a048">46.8%</text>
<path d="M458.00 489.50V492.10M458.00 490.80H464.80M464.80 489.50V492.10" stroke="#d89030" stroke-width="0.6" fill="none"/>
<text x="474.40" y="492.60" font-size="3.7" fill="#d83030">G2/M</text>
<text x="474.40" y="496.90" font-size="3.7" fill="#d83030">15.9%</text>
<path d="M475.30 499.10V501.70M475.30 500.40H483.00M483.00 499.10V501.70" stroke="#c83030" stroke-width="0.6" fill="none"/>
<text x="465.70" y="508.60" font-size="3.7" fill="#4aa04a">S</text>
<text x="465.70" y="512.90" font-size="3.7" fill="#4aa04a">11.0%</text>
<path d="M464.80 514.50V517.10M464.80 515.80H475.30M475.30 514.50V517.10" stroke="#3a9a4a" stroke-width="0.6" fill="none"/>
<text x="441.70" y="516.00" font-size="3.7" fill="#6a5cc0">Apo</text>
<text x="441.70" y="520.30" font-size="3.7" fill="#6a5cc0">4.9%</text>
<path d="M435.50 521.90H460.00M460.00 520.60V523.20" stroke="#6a5cc0" stroke-width="0.6" fill="none"/>
<text x="463.80" y="573.50" font-size="5.9" text-anchor="middle" fill="#2a2a2a">D02 HH LY 10uM</text>
<text x="463.80" y="579.70" font-size="5.9" text-anchor="middle" fill="#2a2a2a">Gate: (Cell cycle</text>
<text x="463.80" y="585.90" font-size="5.9" text-anchor="middle" fill="#2a2a2a">HH in HH)</text>
<path d="M461.00 646.20L461.70 638.00L462.40 624.00L463.20 617.20L464.00 623.00L464.60 636.00L465.40 646.20Z" fill="#f0a020" opacity="1"/>
<path d="M465.40 646.20L465.40 644.00L468.00 643.60L471.00 644.20L474.00 643.60L476.70 644.00L476.70 646.20Z" fill="#2e9a2e" opacity="1"/>
<path d="M476.60 646.20L477.60 641.00L478.70 636.80L479.80 640.00L481.50 646.20Z" fill="#dd1a1a" opacity="1"/>
<path d="M435.50 646.20V590.20H491.60V646.20" fill="none" stroke="#3a3a3a" stroke-width="0.8"/>
<line x1="432.70" y1="646.20" x2="491.60" y2="646.20" stroke="#222" stroke-width="1.0"/>
<line x1="435.50" y1="646.20" x2="435.50" y2="647.80" stroke="#222" stroke-width="0.6"/>
<line x1="442.51" y1="646.20" x2="442.51" y2="647.10" stroke="#222" stroke-width="0.6"/>
<line x1="449.52" y1="646.20" x2="449.52" y2="647.10" stroke="#222" stroke-width="0.6"/>
<line x1="456.54" y1="646.20" x2="456.54" y2="647.10" stroke="#222" stroke-width="0.6"/>
<line x1="463.55" y1="646.20" x2="463.55" y2="647.80" stroke="#222" stroke-width="0.6"/>
<line x1="470.56" y1="646.20" x2="470.56" y2="647.10" stroke="#222" stroke-width="0.6"/>
<line x1="477.58" y1="646.20" x2="477.58" y2="647.10" stroke="#222" stroke-width="0.6"/>
<line x1="484.59" y1="646.20" x2="484.59" y2="647.10" stroke="#222" stroke-width="0.6"/>
<line x1="491.60" y1="646.20" x2="491.60" y2="647.80" stroke="#222" stroke-width="0.6"/>
<line x1="432.70" y1="590.40" x2="435.50" y2="590.40" stroke="#222" stroke-width="0.8"/>
<text x="430.00" y="592.60" font-size="6.2" text-anchor="end">600</text>
<line x1="432.70" y1="601.40" x2="435.50" y2="601.40" stroke="#222" stroke-width="0.8"/>
<text x="430.00" y="603.60" font-size="6.2" text-anchor="end">400</text>
<line x1="432.70" y1="624.30" x2="435.50" y2="624.30" stroke="#222" stroke-width="0.8"/>
<text x="430.00" y="626.50" font-size="6.2" text-anchor="end">200</text>
<line x1="432.70" y1="646.20" x2="435.50" y2="646.20" stroke="#222" stroke-width="0.8"/>
<text x="430.00" y="648.40" font-size="6.2" text-anchor="end">0</text>
<text x="436.00" y="657.40" font-size="5.4" text-anchor="middle" fill="#3a3a3a">10<tspan font-size="3.0" dy="-2.1">1.3</tspan></text>
<text x="467.20" y="657.40" font-size="5.4" text-anchor="middle" fill="#3a3a3a">10<tspan font-size="3.0" dy="-2.1">0</tspan></text>
<text x="490.70" y="657.40" font-size="5.4" text-anchor="middle" fill="#3a3a3a">10<tspan font-size="3.0" dy="-2.1">4.4</tspan></text>
<text x="463.80" y="666.00" font-size="7.9" text-anchor="middle" font-weight="bold" textLength="12" lengthAdjust="spacingAndGlyphs">PE-A</text>
<text x="413.10" y="618.70" font-size="7.7" text-anchor="middle" font-weight="bold" textLength="15" lengthAdjust="spacingAndGlyphs" transform="rotate(-90 413.10 618.70)">Count</text>
<text x="446.30" y="594.40" font-size="3.7" fill="#e8a048">G0/G1</text>
<text x="446.30" y="598.70" font-size="3.7" fill="#e8a048">51.4%</text>
<path d="M460.60 592.70V595.30M460.60 594.00H465.60M465.60 592.70V595.30" stroke="#d89030" stroke-width="0.6" fill="none"/>
<text x="474.30" y="594.40" font-size="3.7" fill="#d83030">G2/M</text>
<text x="474.30" y="598.70" font-size="3.7" fill="#d83030">28.8%</text>
<path d="M475.50 602.20V604.80M475.50 603.50H484.40M484.40 602.20V604.80" stroke="#c83030" stroke-width="0.6" fill="none"/>
<text x="467.80" y="608.80" font-size="3.7" fill="#4aa04a">S</text>
<text x="467.80" y="613.10" font-size="3.7" fill="#4aa04a">11.5%</text>
<path d="M465.10 617.70V620.30M465.10 619.00H475.90M475.90 617.70V620.30" stroke="#3a9a4a" stroke-width="0.6" fill="none"/>
<text x="442.10" y="619.00" font-size="3.7" fill="#6a5cc0">Apo</text>
<text x="442.10" y="623.30" font-size="3.7" fill="#6a5cc0">4.5%</text>
<path d="M436.20 625.50H460.00M460.00 624.20V626.80" stroke="#6a5cc0" stroke-width="0.6" fill="none"/>
<text x="506.40" y="515.60" font-size="6.6" text-anchor="middle" fill="#2a2a2a" textLength="28.5" lengthAdjust="spacingAndGlyphs" transform="rotate(-90 506.40 515.60)">LY500307</text>
<text x="506.40" y="618.80" font-size="6.6" text-anchor="middle" fill="#2a2a2a" textLength="20.5" lengthAdjust="spacingAndGlyphs" transform="rotate(-90 506.40 618.80)">Control</text>
</svg></body></html>
